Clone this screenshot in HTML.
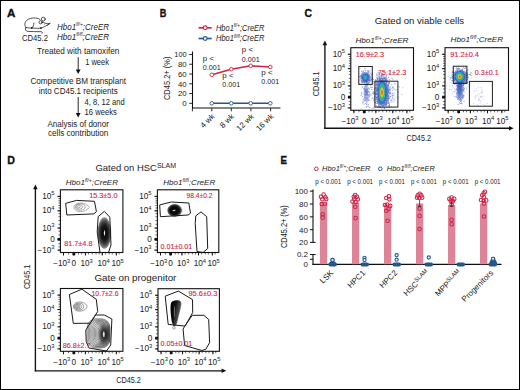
<!DOCTYPE html>
<html><head><meta charset="utf-8"><style>
html,body{margin:0;padding:0;background:#fff;}
#fig{position:relative;width:520px;height:390px;overflow:hidden;background:#fff;}
#fig svg{position:absolute;left:0;top:0;}
#frame{position:absolute;left:0;top:0;width:520px;height:390px;box-sizing:border-box;border:1px solid #000;border-right-width:1.4px;border-bottom-width:1.2px;}
text{font-family:"Liberation Sans", sans-serif;}
</style></head><body><div id="fig">
<svg width="520" height="390" viewBox="0 0 520 390" fill="#222">
<text x="6.9" y="17" font-size="11" font-weight="bold" fill="#111" textLength="8.4" lengthAdjust="spacingAndGlyphs" stroke="#111" stroke-width="0.35">A</text>
<g fill="none" stroke="#1a1a1a" stroke-width="0.75" stroke-linecap="round" stroke-linejoin="round">
<path d="M26.3 27.6 C24.3 26.4 24.4 22.4 26.6 20.4 C28.6 18.6 32 17.8 35.5 18 C37.5 18.1 38.9 18.6 40 19.4"/>
<path d="M26.3 27.6 C29 28.3 33 27.9 36 28.3 C38.5 28.5 40.5 28.3 42.5 27.5 C44.8 26.6 46.8 25.4 49.6 23.6"/>
<path d="M41.6 22.2 C43 22 44.5 22.6 45.6 23.3 C46.8 23.8 48 23.7 49 23.6"/>
<circle cx="43.3" cy="19.1" r="1.9"/>
<circle cx="40.6" cy="22.3" r="1.6"/>
<path d="M33.8 23.0 C34 25 33.4 26.8 32 27.8"/>
<path d="M25.7 27.5 C24.9 29.6 25.6 31 28 31.4 C32 32 37 31.3 41 31.7 C42.5 31.9 43 32.6 42 33.4"/>
<path d="M47.5 25.2 L50.2 23.2"/>
</g>
<circle cx="31.8" cy="27.8" r="0.9" fill="#111"/>
<circle cx="40.9" cy="28.1" r="0.9" fill="#111"/>
<circle cx="44.3" cy="24.1" r="0.5" fill="#333"/>
<text x="35" y="41" font-size="8.4" text-anchor="middle" textLength="26" lengthAdjust="spacingAndGlyphs">CD45.2</text>
<text x="57" y="29.6" font-size="8.4" font-style="italic" textLength="52" lengthAdjust="spacingAndGlyphs">Hbo1<tspan font-size="5.21" dy="-3.19">fl/+</tspan><tspan dy="3.19">;CreER</tspan></text>
<text x="57" y="39.6" font-size="8.4" font-style="italic" textLength="52" lengthAdjust="spacingAndGlyphs">Hbo1<tspan font-size="5.21" dy="-3.19">fl/fl</tspan><tspan dy="3.19">;CreER</tspan></text>
<text x="78.2" y="53.7" font-size="8.4" text-anchor="middle" textLength="82.4" lengthAdjust="spacingAndGlyphs">Treated with tamoxifen</text>
<line x1="78.2" y1="57.2" x2="78.2" y2="70.1" stroke="#111" stroke-width="0.9"/>
<path d="M75.8 69.6 L80.60000000000001 69.6 L78.2 74.0 Z" fill="#111"/>
<text x="85.2" y="65.0" font-size="8.4" textLength="23.8" lengthAdjust="spacingAndGlyphs">1 week</text>
<text x="78.2" y="83.9" font-size="8.4" text-anchor="middle" textLength="95.6" lengthAdjust="spacingAndGlyphs">Competitive BM transplant</text>
<text x="78.2" y="93.6" font-size="8.4" text-anchor="middle" textLength="79.1" lengthAdjust="spacingAndGlyphs">into CD45.1 recipients</text>
<line x1="78.2" y1="97.0" x2="78.2" y2="113.5" stroke="#111" stroke-width="0.9"/>
<path d="M75.8 113.0 L80.60000000000001 113.0 L78.2 117.4 Z" fill="#111"/>
<text x="84.5" y="105" font-size="8.4" textLength="40.2" lengthAdjust="spacingAndGlyphs">4, 8, 12 and</text>
<text x="84.5" y="114.5" font-size="8.4" textLength="32.4" lengthAdjust="spacingAndGlyphs">16 weeks</text>
<text x="78.2" y="127.1" font-size="8.4" text-anchor="middle" textLength="61.4" lengthAdjust="spacingAndGlyphs">Analysis of donor</text>
<text x="78.2" y="136.4" font-size="8.4" text-anchor="middle" textLength="60.3" lengthAdjust="spacingAndGlyphs">cells contribution</text>
<text x="159.8" y="16.8" font-size="11" font-weight="bold" fill="#111" textLength="6.6" lengthAdjust="spacingAndGlyphs" stroke="#111" stroke-width="0.35">B</text>
<line x1="198.6" y1="27.8" x2="211.6" y2="27.8" stroke="#cf2346" stroke-width="1.7"/>
<circle cx="205.2" cy="27.8" r="1.9" fill="#fff" stroke="#cf2346" stroke-width="1.1"/>
<text x="216" y="30.6" font-size="8.2" font-style="italic" textLength="48.4" lengthAdjust="spacingAndGlyphs">Hbo1<tspan font-size="5.08" dy="-3.12">fl/+</tspan><tspan dy="3.12">;CreER</tspan></text>
<line x1="198.6" y1="38.5" x2="211.6" y2="38.5" stroke="#21578f" stroke-width="1.7"/>
<circle cx="205.2" cy="38.5" r="1.9" fill="#fff" stroke="#21578f" stroke-width="1.1"/>
<text x="216" y="41.3" font-size="8.2" font-style="italic" textLength="48.4" lengthAdjust="spacingAndGlyphs">Hbo1<tspan font-size="5.08" dy="-3.12">fl/fl</tspan><tspan dy="3.12">;CreER</tspan></text>
<line x1="192.5" y1="51.5" x2="192.5" y2="108.5" stroke="#111" stroke-width="1.1"/>
<line x1="192.0" y1="108.0" x2="280.4" y2="108.0" stroke="#111" stroke-width="1.1"/>
<line x1="189.2" y1="103.3" x2="192.9" y2="103.3" stroke="#111" stroke-width="0.9"/>
<text x="186.6" y="106.1" font-size="8.0" text-anchor="end" textLength="4.4" lengthAdjust="spacingAndGlyphs">0</text>
<line x1="189.2" y1="93.53999999999999" x2="192.9" y2="93.53999999999999" stroke="#111" stroke-width="0.9"/>
<text x="186.6" y="96.33999999999999" font-size="8.0" text-anchor="end" textLength="8.7" lengthAdjust="spacingAndGlyphs">20</text>
<line x1="189.2" y1="83.78" x2="192.9" y2="83.78" stroke="#111" stroke-width="0.9"/>
<text x="186.6" y="86.58" font-size="8.0" text-anchor="end" textLength="8.7" lengthAdjust="spacingAndGlyphs">40</text>
<line x1="189.2" y1="74.02" x2="192.9" y2="74.02" stroke="#111" stroke-width="0.9"/>
<text x="186.6" y="76.82" font-size="8.0" text-anchor="end" textLength="8.7" lengthAdjust="spacingAndGlyphs">60</text>
<line x1="189.2" y1="64.25999999999999" x2="192.9" y2="64.25999999999999" stroke="#111" stroke-width="0.9"/>
<text x="186.6" y="67.05999999999999" font-size="8.0" text-anchor="end" textLength="8.7" lengthAdjust="spacingAndGlyphs">80</text>
<line x1="189.2" y1="54.5" x2="192.9" y2="54.5" stroke="#111" stroke-width="0.9"/>
<text x="186.6" y="57.3" font-size="8.0" text-anchor="end" textLength="12.3" lengthAdjust="spacingAndGlyphs">100</text>
<line x1="192.4" y1="108.1" x2="192.4" y2="111.3" stroke="#111" stroke-width="0.9"/>
<line x1="211.8" y1="108.1" x2="211.8" y2="111.3" stroke="#111" stroke-width="0.9"/>
<line x1="231.3" y1="108.1" x2="231.3" y2="111.3" stroke="#111" stroke-width="0.9"/>
<line x1="250.9" y1="108.1" x2="250.9" y2="111.3" stroke="#111" stroke-width="0.9"/>
<line x1="270.6" y1="108.1" x2="270.6" y2="111.3" stroke="#111" stroke-width="0.9"/>
<text x="169.6" y="78.3" font-size="8.8" text-anchor="middle" textLength="43.5" lengthAdjust="spacingAndGlyphs" transform="rotate(-90 169.6 78.3)">CD45.2+ (%)</text>
<text x="215.20000000000002" y="116.8" font-size="8.0" text-anchor="end" transform="rotate(-45 215.20000000000002 116.8)">4 wk</text>
<text x="234.70000000000002" y="116.8" font-size="8.0" text-anchor="end" transform="rotate(-45 234.70000000000002 116.8)">8 wk</text>
<text x="254.3" y="116.8" font-size="8.0" text-anchor="end" transform="rotate(-45 254.3 116.8)">12 wk</text>
<text x="274.0" y="116.8" font-size="8.0" text-anchor="end" transform="rotate(-45 274.0 116.8)">16 wk</text>
<polyline points="211.8,74.8 231.3,69.2 250.7,65.8 270.3,67.0" fill="none" stroke="#cf2346" stroke-width="1.5"/>
<circle cx="211.8" cy="74.8" r="1.8" fill="#fff" stroke="#cf2346" stroke-width="0.9"/>
<circle cx="231.3" cy="69.2" r="1.8" fill="#fff" stroke="#cf2346" stroke-width="0.9"/>
<circle cx="250.7" cy="65.8" r="1.8" fill="#fff" stroke="#cf2346" stroke-width="0.9"/>
<circle cx="270.3" cy="67.0" r="1.8" fill="#fff" stroke="#cf2346" stroke-width="0.9"/>
<line x1="211.8" y1="103.3" x2="270.3" y2="103.3" stroke="#21578f" stroke-width="1.5"/>
<circle cx="211.8" cy="103.3" r="1.8" fill="#fff" stroke="#21578f" stroke-width="0.9"/>
<circle cx="231.3" cy="103.3" r="1.8" fill="#fff" stroke="#21578f" stroke-width="0.9"/>
<circle cx="250.7" cy="103.3" r="1.8" fill="#fff" stroke="#21578f" stroke-width="0.9"/>
<circle cx="270.3" cy="103.3" r="1.8" fill="#fff" stroke="#21578f" stroke-width="0.9"/>
<text x="202.8" y="60.6" font-size="7.3" textLength="11.2" lengthAdjust="spacingAndGlyphs">p &lt;</text>
<text x="202.8" y="69.7" font-size="7.6" textLength="17.8" lengthAdjust="spacingAndGlyphs">0.001</text>
<text x="222.3" y="77.5" font-size="7.3" textLength="11.2" lengthAdjust="spacingAndGlyphs">p &lt;</text>
<text x="222.3" y="86.9" font-size="7.6" textLength="17.8" lengthAdjust="spacingAndGlyphs">0.001</text>
<text x="241.8" y="52.3" font-size="7.3" textLength="11.2" lengthAdjust="spacingAndGlyphs">p &lt;</text>
<text x="241.8" y="61.8" font-size="7.6" textLength="17.8" lengthAdjust="spacingAndGlyphs">0.001</text>
<text x="261.3" y="74.6" font-size="7.3" textLength="11.2" lengthAdjust="spacingAndGlyphs">p &lt;</text>
<text x="261.3" y="84.4" font-size="7.6" textLength="17.8" lengthAdjust="spacingAndGlyphs">0.001</text>
<text x="304.5" y="17.0" font-size="11.4" font-weight="bold" fill="#111" textLength="7.5" lengthAdjust="spacingAndGlyphs" stroke="#111" stroke-width="0.35">C</text>
<text x="374.8" y="24.0" font-size="9.3" textLength="89.3" lengthAdjust="spacingAndGlyphs">Gated on viable cells</text>
<text x="355.4" y="42.6" font-size="7.8" font-style="italic" textLength="53.1" lengthAdjust="spacingAndGlyphs">Hbo1<tspan font-size="4.84" dy="-2.96">fl/+</tspan><tspan dy="2.96">;CreER</tspan></text>
<text x="450.6" y="42.2" font-size="7.8" font-style="italic" textLength="52.5" lengthAdjust="spacingAndGlyphs">Hbo1<tspan font-size="4.84" dy="-2.96">fl/fl</tspan><tspan dy="2.96">;CreER</tspan></text>
<defs>
<clipPath id="cc1"><rect x="351.4" y="48.3" width="61.5" height="61"/></clipPath>
<clipPath id="cc2"><rect x="445.6" y="48.3" width="62.3" height="61"/></clipPath>
<radialGradient id="haze" cx="50%" cy="50%" r="50%">
<stop offset="0" stop-color="#2d4fb8" stop-opacity="0.95"/><stop offset="0.5" stop-color="#3355bb" stop-opacity="0.7"/><stop offset="1" stop-color="#4060c0" stop-opacity="0"/>
</radialGradient>
<radialGradient id="hotA" cx="50%" cy="50%" r="50%">
<stop offset="0" stop-color="#e6301c"/><stop offset="0.16" stop-color="#f08a1c"/><stop offset="0.3" stop-color="#e2d622"/>
<stop offset="0.48" stop-color="#44b048"/><stop offset="0.66" stop-color="#28b4d6"/><stop offset="0.82" stop-color="#3468c8" stop-opacity="0.85"/><stop offset="1" stop-color="#3a5fc4" stop-opacity="0"/>
</radialGradient>
<radialGradient id="hotB" cx="50%" cy="50%" r="50%">
<stop offset="0" stop-color="#46b04c"/><stop offset="0.25" stop-color="#32b0a0"/><stop offset="0.5" stop-color="#2a9ad8"/><stop offset="0.75" stop-color="#3464c6" stop-opacity="0.75"/><stop offset="1" stop-color="#3a5fc4" stop-opacity="0"/>
</radialGradient>
<radialGradient id="hotC" cx="50%" cy="50%" r="50%">
<stop offset="0" stop-color="#e8261a"/><stop offset="0.14" stop-color="#f07a1a"/><stop offset="0.28" stop-color="#e6d422"/>
<stop offset="0.46" stop-color="#3cb048"/><stop offset="0.64" stop-color="#24b2d8"/><stop offset="0.82" stop-color="#3468c8" stop-opacity="0.85"/><stop offset="1" stop-color="#3a5fc4" stop-opacity="0"/>
</radialGradient>
</defs>
<g clip-path="url(#cc1)">
<ellipse cx="365.3" cy="77.6" rx="5.0" ry="5.6" fill="url(#haze)"/>
<ellipse cx="382" cy="93" rx="7.5" ry="15.5" fill="url(#haze)"/>
<ellipse cx="366" cy="92" rx="3" ry="9" fill="url(#haze)" opacity="0.5"/>
<path d="M364.7 78.9h1.0v1.0h-1.0zM364.8 76.6h1.0v1.0h-1.0zM363.2 76.9h1.0v1.0h-1.0zM367.9 78.6h1.0v1.0h-1.0zM367.7 78.2h1.0v1.0h-1.0zM366.2 78.0h1.0v1.0h-1.0zM361.5 79.8h1.0v1.0h-1.0zM366.5 78.8h1.0v1.0h-1.0zM361.4 72.8h1.0v1.0h-1.0zM363.3 76.2h1.0v1.0h-1.0zM366.0 77.4h1.0v1.0h-1.0zM366.5 75.8h1.0v1.0h-1.0zM366.0 78.6h1.0v1.0h-1.0zM363.8 82.1h1.0v1.0h-1.0zM366.6 80.7h1.0v1.0h-1.0zM363.9 75.5h1.0v1.0h-1.0zM364.5 77.2h1.0v1.0h-1.0zM366.8 78.2h1.0v1.0h-1.0zM364.3 74.9h1.0v1.0h-1.0zM364.1 80.8h1.0v1.0h-1.0zM363.4 78.2h1.0v1.0h-1.0zM366.3 73.5h1.0v1.0h-1.0zM365.4 81.0h1.0v1.0h-1.0zM360.7 76.6h1.0v1.0h-1.0zM365.1 75.3h1.0v1.0h-1.0zM366.4 77.3h1.0v1.0h-1.0zM361.9 79.7h1.0v1.0h-1.0zM366.8 80.1h1.0v1.0h-1.0zM368.6 78.5h1.0v1.0h-1.0zM365.6 74.0h1.0v1.0h-1.0zM366.7 75.8h1.0v1.0h-1.0zM364.3 74.1h1.0v1.0h-1.0zM363.1 76.1h1.0v1.0h-1.0zM368.3 72.0h1.0v1.0h-1.0zM361.9 78.1h1.0v1.0h-1.0zM368.6 79.1h1.0v1.0h-1.0zM360.9 70.7h1.0v1.0h-1.0zM366.1 75.5h1.0v1.0h-1.0zM362.7 80.1h1.0v1.0h-1.0zM367.8 77.9h1.0v1.0h-1.0zM365.9 78.7h1.0v1.0h-1.0zM369.0 79.2h1.0v1.0h-1.0zM366.5 79.0h1.0v1.0h-1.0zM361.7 81.0h1.0v1.0h-1.0zM367.5 78.9h1.0v1.0h-1.0zM360.8 75.8h1.0v1.0h-1.0zM367.2 72.6h1.0v1.0h-1.0zM364.9 80.3h1.0v1.0h-1.0zM362.3 81.8h1.0v1.0h-1.0zM366.6 77.1h1.0v1.0h-1.0zM366.0 79.3h1.0v1.0h-1.0zM365.6 80.6h1.0v1.0h-1.0zM363.8 76.4h1.0v1.0h-1.0zM367.7 77.6h1.0v1.0h-1.0zM363.3 80.1h1.0v1.0h-1.0zM368.7 76.3h1.0v1.0h-1.0zM362.1 77.1h1.0v1.0h-1.0zM365.0 76.7h1.0v1.0h-1.0zM368.5 74.7h1.0v1.0h-1.0zM368.2 74.1h1.0v1.0h-1.0zM363.5 79.2h1.0v1.0h-1.0zM367.9 79.8h1.0v1.0h-1.0zM366.1 77.9h1.0v1.0h-1.0zM365.7 79.1h1.0v1.0h-1.0zM364.9 78.2h1.0v1.0h-1.0zM366.6 77.5h1.0v1.0h-1.0zM367.1 79.0h1.0v1.0h-1.0zM369.9 78.4h1.0v1.0h-1.0zM364.3 76.5h1.0v1.0h-1.0zM365.3 80.0h1.0v1.0h-1.0zM364.5 78.5h1.0v1.0h-1.0zM369.5 70.6h1.0v1.0h-1.0zM362.7 78.2h1.0v1.0h-1.0zM366.2 78.1h1.0v1.0h-1.0zM364.3 79.3h1.0v1.0h-1.0zM365.9 76.1h1.0v1.0h-1.0zM370.9 78.5h1.0v1.0h-1.0zM364.0 77.2h1.0v1.0h-1.0zM364.8 77.3h1.0v1.0h-1.0zM359.0 76.2h1.0v1.0h-1.0zM367.6 74.3h1.0v1.0h-1.0zM365.1 80.1h1.0v1.0h-1.0zM367.3 81.5h1.0v1.0h-1.0zM361.4 76.5h1.0v1.0h-1.0zM364.5 79.2h1.0v1.0h-1.0zM367.8 70.3h1.0v1.0h-1.0zM367.8 73.6h1.0v1.0h-1.0zM366.9 73.5h1.0v1.0h-1.0zM365.7 80.7h1.0v1.0h-1.0zM365.0 78.0h1.0v1.0h-1.0zM367.1 77.9h1.0v1.0h-1.0zM365.1 81.6h1.0v1.0h-1.0zM367.7 76.7h1.0v1.0h-1.0zM371.6 74.4h1.0v1.0h-1.0zM367.4 76.8h1.0v1.0h-1.0zM365.6 79.4h1.0v1.0h-1.0zM365.8 79.2h1.0v1.0h-1.0zM361.8 73.4h1.0v1.0h-1.0zM366.7 74.9h1.0v1.0h-1.0zM362.9 73.5h1.0v1.0h-1.0zM368.2 79.5h1.0v1.0h-1.0zM368.7 75.0h1.0v1.0h-1.0zM365.3 74.4h1.0v1.0h-1.0zM367.1 81.8h1.0v1.0h-1.0zM363.3 81.7h1.0v1.0h-1.0zM367.6 77.0h1.0v1.0h-1.0zM360.8 81.3h1.0v1.0h-1.0zM365.1 75.9h1.0v1.0h-1.0zM366.2 78.6h1.0v1.0h-1.0zM368.7 74.7h1.0v1.0h-1.0zM367.9 81.5h1.0v1.0h-1.0zM368.6 77.0h1.0v1.0h-1.0zM363.6 80.3h1.0v1.0h-1.0zM365.6 77.8h1.0v1.0h-1.0zM368.6 76.8h1.0v1.0h-1.0zM360.0 76.5h1.0v1.0h-1.0zM361.0 79.7h1.0v1.0h-1.0zM366.0 75.8h1.0v1.0h-1.0zM365.3 79.7h1.0v1.0h-1.0zM365.5 81.1h1.0v1.0h-1.0zM365.2 80.3h1.0v1.0h-1.0zM368.7 81.8h1.0v1.0h-1.0zM363.8 79.9h1.0v1.0h-1.0zM361.0 74.6h1.0v1.0h-1.0zM360.8 80.4h1.0v1.0h-1.0zM362.5 77.5h1.0v1.0h-1.0zM364.9 77.4h1.0v1.0h-1.0zM363.9 78.1h1.0v1.0h-1.0zM369.4 77.6h1.0v1.0h-1.0zM366.5 80.2h1.0v1.0h-1.0zM364.8 74.1h1.0v1.0h-1.0zM364.0 80.4h1.0v1.0h-1.0zM361.5 75.9h1.0v1.0h-1.0zM367.6 79.6h1.0v1.0h-1.0zM365.3 79.7h1.0v1.0h-1.0zM365.7 74.3h1.0v1.0h-1.0zM361.7 75.8h1.0v1.0h-1.0zM367.4 76.0h1.0v1.0h-1.0zM363.2 75.4h1.0v1.0h-1.0zM361.8 77.2h1.0v1.0h-1.0zM362.6 78.5h1.0v1.0h-1.0zM359.9 78.4h1.0v1.0h-1.0zM363.8 72.3h1.0v1.0h-1.0zM367.0 76.8h1.0v1.0h-1.0zM360.2 75.1h1.0v1.0h-1.0zM366.0 76.3h1.0v1.0h-1.0zM367.1 79.5h1.0v1.0h-1.0zM366.8 78.4h1.0v1.0h-1.0zM368.4 79.3h1.0v1.0h-1.0zM366.3 71.9h1.0v1.0h-1.0zM367.4 81.0h1.0v1.0h-1.0zM364.6 76.2h1.0v1.0h-1.0zM369.8 72.8h1.0v1.0h-1.0zM366.4 84.0h1.0v1.0h-1.0zM363.2 79.4h1.0v1.0h-1.0zM369.6 77.2h1.0v1.0h-1.0zM366.6 79.9h1.0v1.0h-1.0zM363.2 77.3h1.0v1.0h-1.0zM366.0 79.7h1.0v1.0h-1.0zM365.2 77.0h1.0v1.0h-1.0zM363.0 76.5h1.0v1.0h-1.0zM367.4 77.8h1.0v1.0h-1.0zM363.3 75.2h1.0v1.0h-1.0zM371.4 80.6h1.0v1.0h-1.0zM366.8 70.5h1.0v1.0h-1.0zM366.7 78.8h1.0v1.0h-1.0zM369.2 78.7h1.0v1.0h-1.0zM365.1 78.9h1.0v1.0h-1.0zM360.8 80.3h1.0v1.0h-1.0zM366.0 75.6h1.0v1.0h-1.0zM368.3 82.4h1.0v1.0h-1.0zM362.1 75.7h1.0v1.0h-1.0zM366.0 78.0h1.0v1.0h-1.0zM364.4 74.9h1.0v1.0h-1.0zM370.2 80.3h1.0v1.0h-1.0zM362.6 73.9h1.0v1.0h-1.0zM369.2 80.2h1.0v1.0h-1.0zM369.5 79.7h1.0v1.0h-1.0zM363.3 78.2h1.0v1.0h-1.0zM360.3 75.5h1.0v1.0h-1.0zM365.2 78.9h1.0v1.0h-1.0zM363.6 77.2h1.0v1.0h-1.0zM366.4 78.5h1.0v1.0h-1.0zM366.8 78.1h1.0v1.0h-1.0zM364.6 79.6h1.0v1.0h-1.0zM365.4 75.3h1.0v1.0h-1.0zM363.9 77.5h1.0v1.0h-1.0zM365.0 77.9h1.0v1.0h-1.0zM365.3 78.0h1.0v1.0h-1.0zM365.0 74.1h1.0v1.0h-1.0zM366.3 80.3h1.0v1.0h-1.0zM366.3 77.0h1.0v1.0h-1.0zM366.3 74.9h1.0v1.0h-1.0zM360.9 77.7h1.0v1.0h-1.0zM363.2 79.5h1.0v1.0h-1.0zM362.8 70.4h1.0v1.0h-1.0zM362.9 81.8h1.0v1.0h-1.0zM364.4 73.8h1.0v1.0h-1.0zM363.5 78.9h1.0v1.0h-1.0zM366.4 78.0h1.0v1.0h-1.0zM368.7 79.4h1.0v1.0h-1.0zM365.3 79.1h1.0v1.0h-1.0zM369.1 80.1h1.0v1.0h-1.0zM367.7 74.6h1.0v1.0h-1.0zM365.0 79.5h1.0v1.0h-1.0zM364.6 80.4h1.0v1.0h-1.0zM366.7 80.0h1.0v1.0h-1.0zM364.8 84.4h1.0v1.0h-1.0zM368.2 76.9h1.0v1.0h-1.0zM365.5 84.5h1.0v1.0h-1.0zM364.5 79.9h1.0v1.0h-1.0zM367.6 77.5h1.0v1.0h-1.0zM362.6 78.0h1.0v1.0h-1.0zM366.1 80.6h1.0v1.0h-1.0zM367.1 77.6h1.0v1.0h-1.0zM367.3 79.0h1.0v1.0h-1.0zM365.8 77.6h1.0v1.0h-1.0zM364.7 79.4h1.0v1.0h-1.0zM362.9 75.8h1.0v1.0h-1.0zM365.3 73.5h1.0v1.0h-1.0zM364.3 72.1h1.0v1.0h-1.0zM363.7 79.0h1.0v1.0h-1.0zM366.6 77.4h1.0v1.0h-1.0zM364.8 73.7h1.0v1.0h-1.0zM369.5 78.9h1.0v1.0h-1.0zM367.8 75.1h1.0v1.0h-1.0zM364.9 72.6h1.0v1.0h-1.0zM367.1 80.0h1.0v1.0h-1.0zM360.9 77.4h1.0v1.0h-1.0zM366.7 72.7h1.0v1.0h-1.0zM361.1 74.6h1.0v1.0h-1.0zM363.9 73.7h1.0v1.0h-1.0zM365.4 78.2h1.0v1.0h-1.0zM366.8 79.4h1.0v1.0h-1.0zM368.8 80.6h1.0v1.0h-1.0zM362.3 76.1h1.0v1.0h-1.0zM362.9 74.6h1.0v1.0h-1.0zM365.1 77.5h1.0v1.0h-1.0zM366.4 73.2h1.0v1.0h-1.0zM362.5 77.4h1.0v1.0h-1.0zM364.8 76.7h1.0v1.0h-1.0zM365.2 75.4h1.0v1.0h-1.0zM366.9 78.5h1.0v1.0h-1.0zM365.1 75.7h1.0v1.0h-1.0zM364.9 70.2h1.0v1.0h-1.0zM363.0 77.6h1.0v1.0h-1.0zM361.8 78.0h1.0v1.0h-1.0zM365.6 73.8h1.0v1.0h-1.0zM364.7 76.7h1.0v1.0h-1.0zM366.4 79.2h1.0v1.0h-1.0zM365.2 75.2h1.0v1.0h-1.0zM365.0 77.3h1.0v1.0h-1.0zM367.0 78.3h1.0v1.0h-1.0zM363.6 73.8h1.0v1.0h-1.0zM364.4 75.5h1.0v1.0h-1.0zM362.7 77.2h1.0v1.0h-1.0zM364.2 77.8h1.0v1.0h-1.0zM366.5 76.4h1.0v1.0h-1.0zM370.6 76.6h1.0v1.0h-1.0zM367.8 77.8h1.0v1.0h-1.0zM367.9 71.1h1.0v1.0h-1.0zM363.6 78.2h1.0v1.0h-1.0zM366.7 83.8h1.0v1.0h-1.0zM366.0 81.0h1.0v1.0h-1.0zM367.1 80.1h1.0v1.0h-1.0zM366.5 77.1h1.0v1.0h-1.0zM366.5 74.6h1.0v1.0h-1.0zM368.0 74.8h1.0v1.0h-1.0zM365.9 83.2h1.0v1.0h-1.0zM364.8 77.6h1.0v1.0h-1.0zM368.0 77.6h1.0v1.0h-1.0zM363.4 78.2h1.0v1.0h-1.0zM366.6 79.4h1.0v1.0h-1.0zM363.5 82.2h1.0v1.0h-1.0zM369.1 77.5h1.0v1.0h-1.0zM365.9 76.3h1.0v1.0h-1.0zM368.6 75.6h1.0v1.0h-1.0zM366.9 76.2h1.0v1.0h-1.0zM363.7 79.4h1.0v1.0h-1.0zM368.4 77.5h1.0v1.0h-1.0zM363.7 79.7h1.0v1.0h-1.0zM365.2 78.3h1.0v1.0h-1.0zM368.8 80.6h1.0v1.0h-1.0zM364.1 83.7h1.0v1.0h-1.0zM365.3 79.6h1.0v1.0h-1.0zM363.8 77.4h1.0v1.0h-1.0zM361.3 82.3h1.0v1.0h-1.0zM368.4 74.2h1.0v1.0h-1.0zM361.8 73.1h1.0v1.0h-1.0zM368.0 76.3h1.0v1.0h-1.0zM365.2 76.7h1.0v1.0h-1.0zM365.0 74.6h1.0v1.0h-1.0zM365.4 73.6h1.0v1.0h-1.0zM365.1 78.3h1.0v1.0h-1.0zM366.4 76.9h1.0v1.0h-1.0zM363.2 77.9h1.0v1.0h-1.0zM364.2 81.7h1.0v1.0h-1.0zM367.1 77.2h1.0v1.0h-1.0zM364.2 75.6h1.0v1.0h-1.0zM363.1 76.5h1.0v1.0h-1.0zM366.0 78.9h1.0v1.0h-1.0zM366.6 83.2h1.0v1.0h-1.0zM363.7 77.5h1.0v1.0h-1.0zM371.7 72.5h1.0v1.0h-1.0zM364.1 78.0h1.0v1.0h-1.0zM365.7 78.6h1.0v1.0h-1.0zM364.8 78.5h1.0v1.0h-1.0zM365.4 79.6h1.0v1.0h-1.0zM360.9 75.1h1.0v1.0h-1.0zM365.3 74.7h1.0v1.0h-1.0zM362.9 79.2h1.0v1.0h-1.0zM363.8 79.2h1.0v1.0h-1.0zM367.0 78.3h1.0v1.0h-1.0zM366.5 77.2h1.0v1.0h-1.0zM362.1 77.4h1.0v1.0h-1.0zM366.3 76.1h1.0v1.0h-1.0zM365.1 79.5h1.0v1.0h-1.0zM363.3 79.2h1.0v1.0h-1.0zM369.6 76.0h1.0v1.0h-1.0zM365.6 77.1h1.0v1.0h-1.0zM368.8 78.4h1.0v1.0h-1.0zM367.4 75.6h1.0v1.0h-1.0zM365.3 77.5h1.0v1.0h-1.0zM361.2 81.4h1.0v1.0h-1.0zM367.4 72.8h1.0v1.0h-1.0zM367.0 77.1h1.0v1.0h-1.0zM366.3 78.5h1.0v1.0h-1.0zM361.9 76.9h1.0v1.0h-1.0zM368.7 75.9h1.0v1.0h-1.0zM362.9 73.8h1.0v1.0h-1.0zM362.5 78.4h1.0v1.0h-1.0zM369.2 78.7h1.0v1.0h-1.0zM365.9 83.5h1.0v1.0h-1.0zM364.1 75.7h1.0v1.0h-1.0zM366.5 79.0h1.0v1.0h-1.0zM363.0 74.3h1.0v1.0h-1.0zM366.0 78.2h1.0v1.0h-1.0zM362.3 77.0h1.0v1.0h-1.0zM364.1 78.7h1.0v1.0h-1.0zM365.0 77.3h1.0v1.0h-1.0zM364.5 80.3h1.0v1.0h-1.0zM368.5 76.5h1.0v1.0h-1.0zM367.2 75.5h1.0v1.0h-1.0zM365.5 79.5h1.0v1.0h-1.0zM368.8 76.5h1.0v1.0h-1.0zM365.1 78.0h1.0v1.0h-1.0zM361.9 77.5h1.0v1.0h-1.0zM363.7 78.5h1.0v1.0h-1.0zM362.7 72.2h1.0v1.0h-1.0zM365.4 78.2h1.0v1.0h-1.0zM364.0 79.9h1.0v1.0h-1.0zM364.7 75.9h1.0v1.0h-1.0zM366.4 73.3h1.0v1.0h-1.0zM363.7 77.4h1.0v1.0h-1.0zM367.3 77.1h1.0v1.0h-1.0zM366.0 75.7h1.0v1.0h-1.0zM366.0 82.0h1.0v1.0h-1.0zM363.7 83.9h1.0v1.0h-1.0zM363.8 77.5h1.0v1.0h-1.0zM365.7 80.3h1.0v1.0h-1.0zM362.5 71.8h1.0v1.0h-1.0zM366.7 79.6h1.0v1.0h-1.0zM366.7 84.6h1.0v1.0h-1.0zM365.8 78.2h1.0v1.0h-1.0zM367.4 78.5h1.0v1.0h-1.0zM369.1 74.2h1.0v1.0h-1.0zM364.4 68.2h1.0v1.0h-1.0zM367.2 76.5h1.0v1.0h-1.0zM367.4 83.3h1.0v1.0h-1.0zM365.3 76.8h1.0v1.0h-1.0zM364.2 75.2h1.0v1.0h-1.0zM363.9 79.2h1.0v1.0h-1.0zM365.4 77.7h1.0v1.0h-1.0zM364.9 80.0h1.0v1.0h-1.0zM366.4 77.1h1.0v1.0h-1.0zM366.8 77.1h1.0v1.0h-1.0zM362.6 81.4h1.0v1.0h-1.0zM366.4 74.9h1.0v1.0h-1.0zM367.8 78.4h1.0v1.0h-1.0zM361.7 81.8h1.0v1.0h-1.0z" fill="#2848b0" fill-opacity="0.6"/>
<path d="M366.7 100.7h1.0v1.0h-1.0zM366.4 92.9h1.0v1.0h-1.0zM362.6 101.3h1.0v1.0h-1.0zM366.1 91.9h1.0v1.0h-1.0zM366.8 94.6h1.0v1.0h-1.0zM367.5 91.2h1.0v1.0h-1.0zM365.9 78.0h1.0v1.0h-1.0zM365.1 99.1h1.0v1.0h-1.0zM368.9 91.3h1.0v1.0h-1.0zM365.7 105.9h1.0v1.0h-1.0zM365.3 99.5h1.0v1.0h-1.0zM369.7 94.3h1.0v1.0h-1.0zM368.7 88.7h1.0v1.0h-1.0zM366.5 93.4h1.0v1.0h-1.0zM366.3 102.5h1.0v1.0h-1.0zM371.3 89.0h1.0v1.0h-1.0zM364.7 97.7h1.0v1.0h-1.0zM363.7 97.7h1.0v1.0h-1.0zM367.3 91.9h1.0v1.0h-1.0zM367.2 82.4h1.0v1.0h-1.0zM367.7 82.4h1.0v1.0h-1.0zM364.5 89.8h1.0v1.0h-1.0zM365.1 100.4h1.0v1.0h-1.0zM366.2 91.0h1.0v1.0h-1.0zM367.2 105.9h1.0v1.0h-1.0zM366.0 96.7h1.0v1.0h-1.0zM368.7 96.0h1.0v1.0h-1.0zM363.2 112.7h1.0v1.0h-1.0zM370.9 79.1h1.0v1.0h-1.0zM365.9 97.1h1.0v1.0h-1.0zM368.1 99.0h1.0v1.0h-1.0zM365.4 86.1h1.0v1.0h-1.0zM366.2 101.8h1.0v1.0h-1.0zM363.6 86.3h1.0v1.0h-1.0zM365.9 79.5h1.0v1.0h-1.0zM365.4 90.7h1.0v1.0h-1.0zM367.0 88.7h1.0v1.0h-1.0zM364.1 91.0h1.0v1.0h-1.0zM365.9 89.0h1.0v1.0h-1.0zM366.0 99.6h1.0v1.0h-1.0zM368.6 106.8h1.0v1.0h-1.0zM364.3 90.9h1.0v1.0h-1.0zM360.5 108.2h1.0v1.0h-1.0zM364.4 93.7h1.0v1.0h-1.0zM367.1 83.8h1.0v1.0h-1.0zM367.0 93.8h1.0v1.0h-1.0zM362.0 96.2h1.0v1.0h-1.0zM368.6 80.0h1.0v1.0h-1.0zM367.8 95.6h1.0v1.0h-1.0zM367.0 97.3h1.0v1.0h-1.0zM368.9 92.3h1.0v1.0h-1.0zM367.9 90.9h1.0v1.0h-1.0zM367.6 87.9h1.0v1.0h-1.0zM365.8 107.0h1.0v1.0h-1.0zM367.0 92.8h1.0v1.0h-1.0zM363.5 88.1h1.0v1.0h-1.0zM366.4 101.0h1.0v1.0h-1.0zM366.9 97.9h1.0v1.0h-1.0zM365.9 104.1h1.0v1.0h-1.0zM365.1 89.9h1.0v1.0h-1.0zM368.0 94.5h1.0v1.0h-1.0zM365.4 89.7h1.0v1.0h-1.0zM365.4 98.7h1.0v1.0h-1.0zM366.8 84.9h1.0v1.0h-1.0zM366.9 95.3h1.0v1.0h-1.0zM363.8 99.8h1.0v1.0h-1.0zM365.4 91.5h1.0v1.0h-1.0zM367.8 103.9h1.0v1.0h-1.0zM364.5 97.3h1.0v1.0h-1.0zM364.1 111.4h1.0v1.0h-1.0zM364.9 103.0h1.0v1.0h-1.0zM364.6 100.1h1.0v1.0h-1.0zM370.9 74.9h1.0v1.0h-1.0zM365.0 97.8h1.0v1.0h-1.0zM365.8 89.0h1.0v1.0h-1.0zM370.7 94.6h1.0v1.0h-1.0zM362.4 100.4h1.0v1.0h-1.0zM362.2 102.6h1.0v1.0h-1.0zM364.7 95.1h1.0v1.0h-1.0zM368.8 94.9h1.0v1.0h-1.0zM362.9 81.3h1.0v1.0h-1.0zM368.6 99.6h1.0v1.0h-1.0zM364.2 100.4h1.0v1.0h-1.0zM367.1 98.9h1.0v1.0h-1.0zM361.0 91.7h1.0v1.0h-1.0zM368.0 99.5h1.0v1.0h-1.0zM367.9 75.6h1.0v1.0h-1.0zM366.4 97.7h1.0v1.0h-1.0zM371.6 86.8h1.0v1.0h-1.0zM365.3 94.3h1.0v1.0h-1.0zM367.9 90.7h1.0v1.0h-1.0zM368.5 88.1h1.0v1.0h-1.0zM366.6 90.0h1.0v1.0h-1.0zM366.3 88.8h1.0v1.0h-1.0zM362.5 102.2h1.0v1.0h-1.0zM366.7 89.8h1.0v1.0h-1.0zM366.4 101.4h1.0v1.0h-1.0zM363.8 93.2h1.0v1.0h-1.0zM367.2 97.9h1.0v1.0h-1.0zM365.3 78.2h1.0v1.0h-1.0zM368.7 96.5h1.0v1.0h-1.0zM366.0 91.9h1.0v1.0h-1.0zM366.6 90.8h1.0v1.0h-1.0zM363.7 88.5h1.0v1.0h-1.0zM364.7 89.4h1.0v1.0h-1.0zM363.5 98.8h1.0v1.0h-1.0zM363.1 98.9h1.0v1.0h-1.0zM363.8 96.6h1.0v1.0h-1.0zM369.0 95.5h1.0v1.0h-1.0zM364.4 94.4h1.0v1.0h-1.0zM366.3 81.0h1.0v1.0h-1.0zM364.7 95.2h1.0v1.0h-1.0zM365.0 94.6h1.0v1.0h-1.0zM367.6 99.7h1.0v1.0h-1.0zM368.0 98.4h1.0v1.0h-1.0zM365.4 93.9h1.0v1.0h-1.0zM365.4 91.7h1.0v1.0h-1.0zM365.6 81.1h1.0v1.0h-1.0zM365.3 93.8h1.0v1.0h-1.0zM363.9 93.8h1.0v1.0h-1.0zM367.1 92.8h1.0v1.0h-1.0zM370.6 74.5h1.0v1.0h-1.0zM365.5 80.3h1.0v1.0h-1.0zM368.2 113.9h1.0v1.0h-1.0zM360.5 95.0h1.0v1.0h-1.0zM367.1 91.7h1.0v1.0h-1.0zM367.2 77.2h1.0v1.0h-1.0zM367.9 96.8h1.0v1.0h-1.0zM366.1 89.6h1.0v1.0h-1.0zM367.4 90.4h1.0v1.0h-1.0zM366.5 90.2h1.0v1.0h-1.0zM361.1 93.8h1.0v1.0h-1.0zM366.4 99.7h1.0v1.0h-1.0zM364.1 93.8h1.0v1.0h-1.0zM367.4 95.1h1.0v1.0h-1.0zM368.7 108.9h1.0v1.0h-1.0zM364.0 79.6h1.0v1.0h-1.0zM367.9 105.5h1.0v1.0h-1.0zM368.0 100.1h1.0v1.0h-1.0zM364.6 88.6h1.0v1.0h-1.0zM368.0 87.2h1.0v1.0h-1.0zM362.0 86.5h1.0v1.0h-1.0zM371.5 108.4h1.0v1.0h-1.0zM364.5 88.5h1.0v1.0h-1.0zM366.5 88.4h1.0v1.0h-1.0zM368.9 93.4h1.0v1.0h-1.0zM363.6 103.8h1.0v1.0h-1.0zM364.7 95.7h1.0v1.0h-1.0zM366.0 91.6h1.0v1.0h-1.0zM366.7 88.8h1.0v1.0h-1.0zM361.9 77.4h1.0v1.0h-1.0zM363.2 88.3h1.0v1.0h-1.0zM365.9 94.4h1.0v1.0h-1.0zM367.2 94.9h1.0v1.0h-1.0zM364.3 88.7h1.0v1.0h-1.0zM361.3 92.7h1.0v1.0h-1.0zM367.1 98.0h1.0v1.0h-1.0zM365.7 92.7h1.0v1.0h-1.0zM368.1 94.1h1.0v1.0h-1.0zM367.6 98.4h1.0v1.0h-1.0zM366.5 103.8h1.0v1.0h-1.0zM364.7 91.3h1.0v1.0h-1.0zM364.2 88.0h1.0v1.0h-1.0zM369.4 107.2h1.0v1.0h-1.0zM366.1 98.3h1.0v1.0h-1.0zM368.6 100.1h1.0v1.0h-1.0zM368.7 84.5h1.0v1.0h-1.0zM364.6 97.4h1.0v1.0h-1.0zM369.2 94.8h1.0v1.0h-1.0zM364.1 91.3h1.0v1.0h-1.0z" fill="#2848b0" fill-opacity="0.45"/>
<path d="M362.4 75.7h1.0v1.0h-1.0zM371.0 76.9h1.0v1.0h-1.0zM365.1 90.8h1.0v1.0h-1.0zM369.7 81.7h1.0v1.0h-1.0zM362.6 82.1h1.0v1.0h-1.0zM371.5 83.1h1.0v1.0h-1.0zM370.0 80.5h1.0v1.0h-1.0zM367.1 79.0h1.0v1.0h-1.0zM366.7 86.5h1.0v1.0h-1.0zM359.3 79.7h1.0v1.0h-1.0zM366.0 77.1h1.0v1.0h-1.0zM363.8 83.9h1.0v1.0h-1.0zM373.0 83.1h1.0v1.0h-1.0zM366.3 72.2h1.0v1.0h-1.0zM372.7 80.4h1.0v1.0h-1.0zM364.9 74.4h1.0v1.0h-1.0zM364.8 74.5h1.0v1.0h-1.0zM365.3 82.3h1.0v1.0h-1.0zM365.1 81.4h1.0v1.0h-1.0zM361.6 87.1h1.0v1.0h-1.0zM362.4 70.9h1.0v1.0h-1.0zM364.2 76.2h1.0v1.0h-1.0zM361.0 78.2h1.0v1.0h-1.0zM366.2 74.1h1.0v1.0h-1.0zM364.4 87.1h1.0v1.0h-1.0zM367.7 79.2h1.0v1.0h-1.0zM365.5 79.4h1.0v1.0h-1.0zM364.8 83.7h1.0v1.0h-1.0zM364.6 68.0h1.0v1.0h-1.0zM364.9 75.6h1.0v1.0h-1.0zM367.6 76.9h1.0v1.0h-1.0zM365.6 90.9h1.0v1.0h-1.0zM360.8 74.4h1.0v1.0h-1.0zM359.4 68.0h1.0v1.0h-1.0zM357.5 81.8h1.0v1.0h-1.0zM362.4 70.7h1.0v1.0h-1.0zM359.1 83.1h1.0v1.0h-1.0zM361.9 78.2h1.0v1.0h-1.0zM366.3 86.8h1.0v1.0h-1.0zM372.8 85.2h1.0v1.0h-1.0zM365.6 80.9h1.0v1.0h-1.0zM372.2 87.1h1.0v1.0h-1.0zM363.8 82.3h1.0v1.0h-1.0zM366.1 80.3h1.0v1.0h-1.0zM363.0 73.4h1.0v1.0h-1.0z" fill="#3050b8" fill-opacity="0.3"/>
<path d="M380.2 80.4h1.0v1.0h-1.0zM386.2 96.0h1.0v1.0h-1.0zM377.9 102.5h1.0v1.0h-1.0zM385.0 77.7h1.0v1.0h-1.0zM388.3 98.1h1.0v1.0h-1.0zM389.0 82.8h1.0v1.0h-1.0zM383.8 95.2h1.0v1.0h-1.0zM382.7 93.3h1.0v1.0h-1.0zM385.6 80.8h1.0v1.0h-1.0zM377.8 81.5h1.0v1.0h-1.0zM380.1 87.5h1.0v1.0h-1.0zM383.2 94.0h1.0v1.0h-1.0zM382.1 86.9h1.0v1.0h-1.0zM380.5 99.1h1.0v1.0h-1.0zM384.6 92.8h1.0v1.0h-1.0zM380.9 103.6h1.0v1.0h-1.0zM380.0 96.9h1.0v1.0h-1.0zM385.9 90.0h1.0v1.0h-1.0zM384.8 83.6h1.0v1.0h-1.0zM385.4 93.5h1.0v1.0h-1.0zM376.6 97.0h1.0v1.0h-1.0zM379.0 101.6h1.0v1.0h-1.0zM379.7 90.8h1.0v1.0h-1.0zM383.0 89.5h1.0v1.0h-1.0zM382.9 87.9h1.0v1.0h-1.0zM384.3 92.0h1.0v1.0h-1.0zM382.7 71.4h1.0v1.0h-1.0zM385.9 92.2h1.0v1.0h-1.0zM375.9 92.7h1.0v1.0h-1.0zM383.6 100.0h1.0v1.0h-1.0zM378.3 103.6h1.0v1.0h-1.0zM381.5 110.0h1.0v1.0h-1.0zM381.5 97.1h1.0v1.0h-1.0zM380.8 83.6h1.0v1.0h-1.0zM385.7 98.8h1.0v1.0h-1.0zM387.2 98.4h1.0v1.0h-1.0zM380.1 79.5h1.0v1.0h-1.0zM379.8 86.9h1.0v1.0h-1.0zM379.2 96.4h1.0v1.0h-1.0zM383.1 90.0h1.0v1.0h-1.0zM382.6 90.9h1.0v1.0h-1.0zM382.7 97.6h1.0v1.0h-1.0zM385.3 86.9h1.0v1.0h-1.0zM376.9 102.7h1.0v1.0h-1.0zM382.4 100.3h1.0v1.0h-1.0zM376.4 89.5h1.0v1.0h-1.0zM382.1 81.2h1.0v1.0h-1.0zM380.2 97.4h1.0v1.0h-1.0zM385.7 104.0h1.0v1.0h-1.0zM379.1 81.5h1.0v1.0h-1.0zM383.8 99.1h1.0v1.0h-1.0zM382.7 82.2h1.0v1.0h-1.0zM384.7 97.9h1.0v1.0h-1.0zM383.9 88.3h1.0v1.0h-1.0zM383.0 97.9h1.0v1.0h-1.0zM380.1 78.2h1.0v1.0h-1.0zM383.1 95.6h1.0v1.0h-1.0zM382.0 98.7h1.0v1.0h-1.0zM380.0 91.4h1.0v1.0h-1.0zM381.0 96.3h1.0v1.0h-1.0zM387.4 90.1h1.0v1.0h-1.0zM389.0 103.5h1.0v1.0h-1.0zM384.7 96.4h1.0v1.0h-1.0zM388.0 90.6h1.0v1.0h-1.0zM381.6 84.0h1.0v1.0h-1.0zM383.6 102.1h1.0v1.0h-1.0zM383.8 95.2h1.0v1.0h-1.0zM381.3 93.3h1.0v1.0h-1.0zM377.2 99.9h1.0v1.0h-1.0zM380.6 83.7h1.0v1.0h-1.0zM379.4 85.8h1.0v1.0h-1.0zM384.9 99.9h1.0v1.0h-1.0zM377.4 98.9h1.0v1.0h-1.0zM385.0 87.7h1.0v1.0h-1.0zM376.9 86.4h1.0v1.0h-1.0zM379.8 94.6h1.0v1.0h-1.0zM380.8 76.8h1.0v1.0h-1.0zM382.8 80.5h1.0v1.0h-1.0zM385.1 82.9h1.0v1.0h-1.0zM379.6 85.6h1.0v1.0h-1.0zM380.2 101.7h1.0v1.0h-1.0zM384.9 96.5h1.0v1.0h-1.0zM383.1 80.4h1.0v1.0h-1.0zM380.2 87.9h1.0v1.0h-1.0zM378.7 95.8h1.0v1.0h-1.0zM379.5 86.7h1.0v1.0h-1.0zM378.4 76.6h1.0v1.0h-1.0zM384.0 102.0h1.0v1.0h-1.0zM382.6 84.7h1.0v1.0h-1.0zM372.8 93.3h1.0v1.0h-1.0zM386.1 94.2h1.0v1.0h-1.0zM385.2 103.1h1.0v1.0h-1.0zM385.8 88.7h1.0v1.0h-1.0zM385.6 97.8h1.0v1.0h-1.0zM376.8 89.0h1.0v1.0h-1.0zM377.2 91.2h1.0v1.0h-1.0zM384.0 84.0h1.0v1.0h-1.0zM375.0 101.7h1.0v1.0h-1.0zM383.3 103.0h1.0v1.0h-1.0zM377.5 100.0h1.0v1.0h-1.0zM389.1 107.1h1.0v1.0h-1.0zM381.3 94.0h1.0v1.0h-1.0zM381.5 99.5h1.0v1.0h-1.0zM385.5 92.7h1.0v1.0h-1.0zM377.4 97.6h1.0v1.0h-1.0zM380.4 96.7h1.0v1.0h-1.0zM382.9 104.2h1.0v1.0h-1.0zM385.9 88.6h1.0v1.0h-1.0zM383.2 105.2h1.0v1.0h-1.0zM380.2 95.3h1.0v1.0h-1.0zM386.0 101.4h1.0v1.0h-1.0zM383.8 82.1h1.0v1.0h-1.0zM377.7 93.9h1.0v1.0h-1.0zM383.3 111.1h1.0v1.0h-1.0zM379.1 100.5h1.0v1.0h-1.0zM384.6 79.5h1.0v1.0h-1.0zM379.2 93.2h1.0v1.0h-1.0zM380.3 90.8h1.0v1.0h-1.0zM383.6 85.9h1.0v1.0h-1.0zM383.6 87.2h1.0v1.0h-1.0zM380.1 96.0h1.0v1.0h-1.0zM380.1 94.2h1.0v1.0h-1.0zM387.4 92.2h1.0v1.0h-1.0zM381.5 97.5h1.0v1.0h-1.0zM380.8 100.1h1.0v1.0h-1.0zM377.6 96.6h1.0v1.0h-1.0zM380.3 86.0h1.0v1.0h-1.0zM388.0 85.6h1.0v1.0h-1.0zM388.0 96.9h1.0v1.0h-1.0zM386.9 84.7h1.0v1.0h-1.0zM386.1 102.9h1.0v1.0h-1.0zM381.6 91.0h1.0v1.0h-1.0zM390.4 93.3h1.0v1.0h-1.0zM380.6 87.3h1.0v1.0h-1.0zM383.5 94.5h1.0v1.0h-1.0zM382.6 104.9h1.0v1.0h-1.0zM380.9 95.5h1.0v1.0h-1.0zM387.0 84.5h1.0v1.0h-1.0zM385.5 105.7h1.0v1.0h-1.0zM377.4 83.8h1.0v1.0h-1.0zM378.5 78.2h1.0v1.0h-1.0zM383.5 78.1h1.0v1.0h-1.0zM383.7 102.9h1.0v1.0h-1.0zM376.5 89.6h1.0v1.0h-1.0zM375.5 97.8h1.0v1.0h-1.0zM379.5 90.0h1.0v1.0h-1.0zM382.2 96.1h1.0v1.0h-1.0zM380.8 92.1h1.0v1.0h-1.0zM380.1 92.9h1.0v1.0h-1.0zM378.0 92.5h1.0v1.0h-1.0zM375.4 88.3h1.0v1.0h-1.0zM388.5 92.6h1.0v1.0h-1.0zM377.7 93.9h1.0v1.0h-1.0zM378.7 79.6h1.0v1.0h-1.0zM379.5 97.5h1.0v1.0h-1.0zM383.3 91.3h1.0v1.0h-1.0zM378.8 83.9h1.0v1.0h-1.0zM386.6 93.8h1.0v1.0h-1.0zM378.8 76.2h1.0v1.0h-1.0zM377.3 110.6h1.0v1.0h-1.0zM378.1 91.4h1.0v1.0h-1.0zM382.7 90.8h1.0v1.0h-1.0zM381.1 81.7h1.0v1.0h-1.0zM378.4 104.7h1.0v1.0h-1.0zM379.4 98.3h1.0v1.0h-1.0zM376.2 89.9h1.0v1.0h-1.0zM382.9 99.8h1.0v1.0h-1.0zM378.2 96.5h1.0v1.0h-1.0zM383.3 86.5h1.0v1.0h-1.0zM383.6 85.3h1.0v1.0h-1.0zM379.3 91.9h1.0v1.0h-1.0zM372.8 91.2h1.0v1.0h-1.0zM378.6 81.0h1.0v1.0h-1.0zM380.6 97.7h1.0v1.0h-1.0zM380.6 101.5h1.0v1.0h-1.0zM378.1 82.2h1.0v1.0h-1.0zM387.3 95.0h1.0v1.0h-1.0zM385.2 85.8h1.0v1.0h-1.0zM384.7 93.9h1.0v1.0h-1.0zM384.2 92.2h1.0v1.0h-1.0zM386.1 87.1h1.0v1.0h-1.0zM378.7 80.9h1.0v1.0h-1.0zM385.9 86.5h1.0v1.0h-1.0zM378.5 85.0h1.0v1.0h-1.0zM380.5 82.5h1.0v1.0h-1.0zM381.0 87.3h1.0v1.0h-1.0zM380.1 84.8h1.0v1.0h-1.0zM382.1 88.5h1.0v1.0h-1.0zM382.4 93.9h1.0v1.0h-1.0zM383.2 75.6h1.0v1.0h-1.0zM380.2 86.0h1.0v1.0h-1.0zM384.6 80.2h1.0v1.0h-1.0zM379.6 89.8h1.0v1.0h-1.0zM380.9 99.4h1.0v1.0h-1.0zM380.5 99.2h1.0v1.0h-1.0zM377.0 78.4h1.0v1.0h-1.0zM386.1 95.3h1.0v1.0h-1.0zM383.7 92.9h1.0v1.0h-1.0zM383.6 82.9h1.0v1.0h-1.0zM385.2 88.0h1.0v1.0h-1.0zM385.4 92.7h1.0v1.0h-1.0zM375.3 82.3h1.0v1.0h-1.0zM385.8 91.0h1.0v1.0h-1.0zM380.7 93.8h1.0v1.0h-1.0zM380.6 87.9h1.0v1.0h-1.0zM382.3 93.1h1.0v1.0h-1.0zM387.2 92.3h1.0v1.0h-1.0zM388.4 105.5h1.0v1.0h-1.0zM387.8 100.0h1.0v1.0h-1.0zM382.4 93.0h1.0v1.0h-1.0zM381.5 86.5h1.0v1.0h-1.0zM381.8 87.2h1.0v1.0h-1.0zM387.6 96.0h1.0v1.0h-1.0zM380.5 77.6h1.0v1.0h-1.0zM381.8 88.9h1.0v1.0h-1.0zM378.3 83.5h1.0v1.0h-1.0zM374.3 96.3h1.0v1.0h-1.0zM381.8 111.4h1.0v1.0h-1.0zM381.9 90.9h1.0v1.0h-1.0zM386.9 93.0h1.0v1.0h-1.0zM382.6 89.2h1.0v1.0h-1.0zM379.9 103.2h1.0v1.0h-1.0zM385.4 104.9h1.0v1.0h-1.0zM380.8 92.2h1.0v1.0h-1.0zM379.0 99.3h1.0v1.0h-1.0zM377.3 96.2h1.0v1.0h-1.0zM385.7 102.6h1.0v1.0h-1.0zM378.8 100.2h1.0v1.0h-1.0zM379.6 86.3h1.0v1.0h-1.0zM377.5 100.7h1.0v1.0h-1.0zM387.6 87.5h1.0v1.0h-1.0zM379.4 89.5h1.0v1.0h-1.0zM390.5 99.5h1.0v1.0h-1.0zM380.2 78.5h1.0v1.0h-1.0zM379.7 100.9h1.0v1.0h-1.0zM388.4 90.0h1.0v1.0h-1.0zM379.6 88.2h1.0v1.0h-1.0zM375.6 98.8h1.0v1.0h-1.0zM378.3 100.0h1.0v1.0h-1.0zM376.2 82.5h1.0v1.0h-1.0zM383.0 86.3h1.0v1.0h-1.0zM384.7 92.1h1.0v1.0h-1.0zM378.0 96.7h1.0v1.0h-1.0zM384.9 77.7h1.0v1.0h-1.0zM388.2 95.7h1.0v1.0h-1.0zM384.6 78.0h1.0v1.0h-1.0zM379.6 89.4h1.0v1.0h-1.0zM385.7 81.1h1.0v1.0h-1.0zM379.0 76.8h1.0v1.0h-1.0zM381.2 94.6h1.0v1.0h-1.0zM376.3 87.6h1.0v1.0h-1.0zM383.7 103.9h1.0v1.0h-1.0zM384.3 89.7h1.0v1.0h-1.0zM378.0 85.0h1.0v1.0h-1.0zM379.7 93.1h1.0v1.0h-1.0zM381.8 104.5h1.0v1.0h-1.0zM383.0 84.0h1.0v1.0h-1.0zM387.3 99.1h1.0v1.0h-1.0zM382.3 86.6h1.0v1.0h-1.0zM375.6 84.3h1.0v1.0h-1.0zM385.1 86.0h1.0v1.0h-1.0zM377.5 93.5h1.0v1.0h-1.0zM382.8 96.5h1.0v1.0h-1.0zM384.2 102.6h1.0v1.0h-1.0zM379.1 99.3h1.0v1.0h-1.0zM378.6 97.2h1.0v1.0h-1.0zM382.6 93.8h1.0v1.0h-1.0zM385.3 91.9h1.0v1.0h-1.0zM385.8 98.6h1.0v1.0h-1.0zM382.5 87.7h1.0v1.0h-1.0zM379.4 88.0h1.0v1.0h-1.0zM381.3 91.8h1.0v1.0h-1.0zM392.1 96.8h1.0v1.0h-1.0zM384.6 85.5h1.0v1.0h-1.0zM379.6 89.6h1.0v1.0h-1.0zM382.7 84.2h1.0v1.0h-1.0zM387.5 87.8h1.0v1.0h-1.0zM385.7 74.5h1.0v1.0h-1.0zM382.0 94.1h1.0v1.0h-1.0zM382.7 96.5h1.0v1.0h-1.0zM383.0 93.2h1.0v1.0h-1.0zM375.6 86.6h1.0v1.0h-1.0zM374.0 96.7h1.0v1.0h-1.0zM383.0 90.5h1.0v1.0h-1.0zM379.2 87.6h1.0v1.0h-1.0zM388.3 105.0h1.0v1.0h-1.0zM381.8 101.7h1.0v1.0h-1.0zM376.6 77.5h1.0v1.0h-1.0zM380.4 85.4h1.0v1.0h-1.0zM380.1 93.4h1.0v1.0h-1.0zM392.3 87.0h1.0v1.0h-1.0zM382.2 94.1h1.0v1.0h-1.0zM381.9 99.0h1.0v1.0h-1.0zM388.0 82.7h1.0v1.0h-1.0zM382.5 90.0h1.0v1.0h-1.0zM383.2 80.5h1.0v1.0h-1.0zM376.0 74.6h1.0v1.0h-1.0zM383.8 93.4h1.0v1.0h-1.0zM382.3 74.3h1.0v1.0h-1.0zM380.7 86.3h1.0v1.0h-1.0zM377.2 85.1h1.0v1.0h-1.0zM384.4 96.1h1.0v1.0h-1.0zM381.9 95.9h1.0v1.0h-1.0zM379.9 92.5h1.0v1.0h-1.0zM382.1 96.2h1.0v1.0h-1.0zM381.8 90.9h1.0v1.0h-1.0zM381.5 87.2h1.0v1.0h-1.0zM389.6 95.9h1.0v1.0h-1.0zM383.5 109.2h1.0v1.0h-1.0zM386.8 80.3h1.0v1.0h-1.0zM384.4 98.3h1.0v1.0h-1.0zM388.4 101.9h1.0v1.0h-1.0zM384.6 83.2h1.0v1.0h-1.0zM379.0 94.0h1.0v1.0h-1.0zM383.7 84.3h1.0v1.0h-1.0zM380.7 89.0h1.0v1.0h-1.0zM382.2 94.5h1.0v1.0h-1.0zM381.0 82.7h1.0v1.0h-1.0zM386.2 104.0h1.0v1.0h-1.0zM381.6 99.7h1.0v1.0h-1.0zM383.5 96.9h1.0v1.0h-1.0zM383.6 86.3h1.0v1.0h-1.0zM384.0 99.6h1.0v1.0h-1.0zM379.0 106.7h1.0v1.0h-1.0zM389.1 105.7h1.0v1.0h-1.0zM388.8 97.6h1.0v1.0h-1.0zM380.8 87.5h1.0v1.0h-1.0zM379.2 92.9h1.0v1.0h-1.0zM381.9 97.0h1.0v1.0h-1.0zM375.1 109.3h1.0v1.0h-1.0zM389.7 91.8h1.0v1.0h-1.0zM384.3 95.6h1.0v1.0h-1.0zM382.9 90.4h1.0v1.0h-1.0zM381.6 85.8h1.0v1.0h-1.0zM382.6 91.8h1.0v1.0h-1.0zM383.1 85.6h1.0v1.0h-1.0zM382.1 92.4h1.0v1.0h-1.0zM384.1 84.0h1.0v1.0h-1.0zM383.4 99.4h1.0v1.0h-1.0zM384.0 89.2h1.0v1.0h-1.0zM380.3 90.2h1.0v1.0h-1.0zM384.5 103.6h1.0v1.0h-1.0zM381.5 87.2h1.0v1.0h-1.0zM383.3 93.5h1.0v1.0h-1.0zM378.9 86.5h1.0v1.0h-1.0zM381.7 97.0h1.0v1.0h-1.0zM377.9 84.4h1.0v1.0h-1.0zM383.7 82.8h1.0v1.0h-1.0zM382.4 94.6h1.0v1.0h-1.0zM381.6 84.4h1.0v1.0h-1.0zM381.8 89.5h1.0v1.0h-1.0zM383.1 85.7h1.0v1.0h-1.0zM385.7 79.4h1.0v1.0h-1.0zM381.4 92.1h1.0v1.0h-1.0zM385.3 87.4h1.0v1.0h-1.0zM383.9 87.7h1.0v1.0h-1.0zM384.5 105.0h1.0v1.0h-1.0zM380.6 95.3h1.0v1.0h-1.0zM378.8 99.3h1.0v1.0h-1.0zM386.1 92.3h1.0v1.0h-1.0zM378.1 95.0h1.0v1.0h-1.0zM385.9 100.2h1.0v1.0h-1.0zM384.8 78.3h1.0v1.0h-1.0zM379.7 102.7h1.0v1.0h-1.0zM377.8 100.5h1.0v1.0h-1.0zM388.4 97.7h1.0v1.0h-1.0zM385.8 89.5h1.0v1.0h-1.0zM377.8 91.2h1.0v1.0h-1.0zM381.3 91.6h1.0v1.0h-1.0zM384.4 90.9h1.0v1.0h-1.0zM382.7 95.2h1.0v1.0h-1.0zM382.0 105.8h1.0v1.0h-1.0zM383.5 92.6h1.0v1.0h-1.0zM381.3 87.3h1.0v1.0h-1.0zM386.6 93.1h1.0v1.0h-1.0zM378.3 87.8h1.0v1.0h-1.0zM381.5 88.7h1.0v1.0h-1.0zM385.7 83.3h1.0v1.0h-1.0zM383.7 93.1h1.0v1.0h-1.0zM378.0 92.4h1.0v1.0h-1.0zM381.7 95.8h1.0v1.0h-1.0zM380.5 94.3h1.0v1.0h-1.0zM376.3 83.9h1.0v1.0h-1.0zM384.7 99.8h1.0v1.0h-1.0zM382.0 87.5h1.0v1.0h-1.0zM385.7 76.3h1.0v1.0h-1.0zM379.3 97.0h1.0v1.0h-1.0zM384.2 84.3h1.0v1.0h-1.0zM375.6 102.9h1.0v1.0h-1.0zM382.5 85.3h1.0v1.0h-1.0zM382.2 98.8h1.0v1.0h-1.0zM373.2 100.3h1.0v1.0h-1.0zM384.5 76.4h1.0v1.0h-1.0zM384.6 78.6h1.0v1.0h-1.0zM385.9 95.0h1.0v1.0h-1.0zM389.7 87.4h1.0v1.0h-1.0zM382.0 99.9h1.0v1.0h-1.0zM379.8 86.7h1.0v1.0h-1.0zM380.7 91.5h1.0v1.0h-1.0zM378.3 95.6h1.0v1.0h-1.0zM383.8 92.5h1.0v1.0h-1.0zM387.8 89.5h1.0v1.0h-1.0zM386.4 87.9h1.0v1.0h-1.0zM384.6 77.5h1.0v1.0h-1.0zM382.7 90.7h1.0v1.0h-1.0zM380.3 87.4h1.0v1.0h-1.0zM380.8 86.6h1.0v1.0h-1.0zM374.5 87.5h1.0v1.0h-1.0zM380.1 88.1h1.0v1.0h-1.0zM378.4 91.0h1.0v1.0h-1.0zM384.7 90.1h1.0v1.0h-1.0zM380.3 102.2h1.0v1.0h-1.0zM385.3 98.9h1.0v1.0h-1.0zM385.9 89.5h1.0v1.0h-1.0zM381.6 100.4h1.0v1.0h-1.0zM380.1 91.1h1.0v1.0h-1.0zM383.3 94.8h1.0v1.0h-1.0zM381.1 99.4h1.0v1.0h-1.0zM381.4 97.4h1.0v1.0h-1.0zM385.6 96.9h1.0v1.0h-1.0zM384.5 83.3h1.0v1.0h-1.0zM377.5 87.4h1.0v1.0h-1.0zM383.6 103.3h1.0v1.0h-1.0zM377.8 94.3h1.0v1.0h-1.0zM379.1 86.5h1.0v1.0h-1.0zM381.1 97.2h1.0v1.0h-1.0zM382.7 100.8h1.0v1.0h-1.0zM378.6 98.7h1.0v1.0h-1.0zM385.2 92.5h1.0v1.0h-1.0zM383.6 87.8h1.0v1.0h-1.0zM378.3 89.0h1.0v1.0h-1.0zM379.8 113.7h1.0v1.0h-1.0zM380.4 104.4h1.0v1.0h-1.0zM382.7 94.3h1.0v1.0h-1.0zM384.5 86.2h1.0v1.0h-1.0zM385.1 94.8h1.0v1.0h-1.0zM376.8 96.5h1.0v1.0h-1.0zM383.9 95.4h1.0v1.0h-1.0zM387.4 88.9h1.0v1.0h-1.0zM383.7 97.6h1.0v1.0h-1.0zM378.9 101.0h1.0v1.0h-1.0zM377.1 82.2h1.0v1.0h-1.0zM383.8 83.8h1.0v1.0h-1.0zM381.6 79.7h1.0v1.0h-1.0zM382.2 83.5h1.0v1.0h-1.0zM383.2 80.5h1.0v1.0h-1.0zM383.5 90.0h1.0v1.0h-1.0zM382.2 91.5h1.0v1.0h-1.0zM382.4 82.1h1.0v1.0h-1.0zM373.3 92.3h1.0v1.0h-1.0zM378.8 88.6h1.0v1.0h-1.0zM383.5 77.1h1.0v1.0h-1.0zM379.4 87.4h1.0v1.0h-1.0zM378.4 94.5h1.0v1.0h-1.0zM381.5 85.8h1.0v1.0h-1.0zM378.7 98.1h1.0v1.0h-1.0zM379.8 96.4h1.0v1.0h-1.0zM383.5 77.8h1.0v1.0h-1.0zM378.3 92.0h1.0v1.0h-1.0zM383.2 97.8h1.0v1.0h-1.0zM384.7 99.8h1.0v1.0h-1.0zM380.7 90.4h1.0v1.0h-1.0zM384.6 88.8h1.0v1.0h-1.0zM385.6 80.1h1.0v1.0h-1.0zM384.2 90.7h1.0v1.0h-1.0zM375.3 99.3h1.0v1.0h-1.0zM383.1 92.2h1.0v1.0h-1.0zM378.3 88.5h1.0v1.0h-1.0zM387.1 85.8h1.0v1.0h-1.0zM370.2 85.6h1.0v1.0h-1.0zM377.9 91.0h1.0v1.0h-1.0zM380.7 85.2h1.0v1.0h-1.0zM379.1 99.9h1.0v1.0h-1.0zM377.1 106.7h1.0v1.0h-1.0zM380.2 83.8h1.0v1.0h-1.0zM384.7 96.2h1.0v1.0h-1.0zM378.5 97.6h1.0v1.0h-1.0zM375.7 85.1h1.0v1.0h-1.0zM385.8 90.1h1.0v1.0h-1.0zM377.6 95.9h1.0v1.0h-1.0zM385.1 91.8h1.0v1.0h-1.0zM375.9 89.4h1.0v1.0h-1.0zM383.4 97.8h1.0v1.0h-1.0zM388.3 90.1h1.0v1.0h-1.0zM380.4 91.7h1.0v1.0h-1.0zM386.1 84.9h1.0v1.0h-1.0zM386.4 71.4h1.0v1.0h-1.0zM384.7 86.9h1.0v1.0h-1.0zM383.6 97.2h1.0v1.0h-1.0zM378.0 91.4h1.0v1.0h-1.0zM382.8 96.4h1.0v1.0h-1.0zM378.8 84.6h1.0v1.0h-1.0zM375.5 111.0h1.0v1.0h-1.0zM381.3 90.3h1.0v1.0h-1.0zM376.9 99.0h1.0v1.0h-1.0zM380.2 102.8h1.0v1.0h-1.0zM384.9 92.2h1.0v1.0h-1.0zM384.5 83.7h1.0v1.0h-1.0zM380.9 87.7h1.0v1.0h-1.0zM377.7 92.1h1.0v1.0h-1.0zM381.5 102.8h1.0v1.0h-1.0zM370.6 87.0h1.0v1.0h-1.0zM378.9 88.5h1.0v1.0h-1.0zM383.4 95.0h1.0v1.0h-1.0zM382.1 88.4h1.0v1.0h-1.0zM383.7 94.7h1.0v1.0h-1.0zM375.7 90.0h1.0v1.0h-1.0zM377.3 83.1h1.0v1.0h-1.0zM382.5 92.5h1.0v1.0h-1.0zM382.4 85.4h1.0v1.0h-1.0zM381.3 85.2h1.0v1.0h-1.0zM383.3 97.2h1.0v1.0h-1.0zM388.0 101.5h1.0v1.0h-1.0zM379.3 88.6h1.0v1.0h-1.0zM378.8 94.3h1.0v1.0h-1.0zM388.7 97.3h1.0v1.0h-1.0zM374.5 82.6h1.0v1.0h-1.0zM377.6 95.9h1.0v1.0h-1.0zM382.0 94.2h1.0v1.0h-1.0zM388.1 85.8h1.0v1.0h-1.0zM379.1 106.7h1.0v1.0h-1.0zM383.2 86.2h1.0v1.0h-1.0zM375.1 80.6h1.0v1.0h-1.0zM373.7 92.5h1.0v1.0h-1.0zM382.2 99.4h1.0v1.0h-1.0zM381.5 86.8h1.0v1.0h-1.0zM379.5 106.3h1.0v1.0h-1.0zM376.0 93.3h1.0v1.0h-1.0zM382.1 96.6h1.0v1.0h-1.0zM380.6 95.7h1.0v1.0h-1.0zM384.8 90.9h1.0v1.0h-1.0zM380.4 90.6h1.0v1.0h-1.0zM378.7 90.4h1.0v1.0h-1.0zM381.0 93.6h1.0v1.0h-1.0zM386.5 101.8h1.0v1.0h-1.0zM380.5 96.5h1.0v1.0h-1.0zM383.0 97.7h1.0v1.0h-1.0zM382.1 94.0h1.0v1.0h-1.0zM380.4 86.1h1.0v1.0h-1.0zM385.0 101.7h1.0v1.0h-1.0zM384.3 95.3h1.0v1.0h-1.0zM382.9 88.6h1.0v1.0h-1.0zM375.9 97.0h1.0v1.0h-1.0zM382.7 87.8h1.0v1.0h-1.0zM378.7 101.6h1.0v1.0h-1.0zM375.9 105.2h1.0v1.0h-1.0zM384.2 109.8h1.0v1.0h-1.0zM379.6 91.8h1.0v1.0h-1.0zM380.3 93.2h1.0v1.0h-1.0zM381.3 86.4h1.0v1.0h-1.0zM385.7 86.1h1.0v1.0h-1.0zM380.3 96.2h1.0v1.0h-1.0zM380.2 88.7h1.0v1.0h-1.0zM383.2 89.2h1.0v1.0h-1.0zM377.8 91.2h1.0v1.0h-1.0zM381.3 104.8h1.0v1.0h-1.0zM378.3 99.3h1.0v1.0h-1.0zM379.3 89.3h1.0v1.0h-1.0zM380.9 94.0h1.0v1.0h-1.0zM384.9 105.1h1.0v1.0h-1.0zM379.8 102.0h1.0v1.0h-1.0zM385.4 98.1h1.0v1.0h-1.0zM379.4 98.8h1.0v1.0h-1.0zM381.6 94.6h1.0v1.0h-1.0zM381.1 97.0h1.0v1.0h-1.0zM385.8 100.5h1.0v1.0h-1.0zM381.3 99.5h1.0v1.0h-1.0zM386.9 85.0h1.0v1.0h-1.0zM387.0 82.0h1.0v1.0h-1.0zM383.8 96.5h1.0v1.0h-1.0zM387.0 94.1h1.0v1.0h-1.0zM380.4 86.0h1.0v1.0h-1.0zM377.7 97.7h1.0v1.0h-1.0zM381.2 86.6h1.0v1.0h-1.0zM383.8 86.3h1.0v1.0h-1.0zM380.5 88.6h1.0v1.0h-1.0zM387.6 103.0h1.0v1.0h-1.0zM381.5 80.2h1.0v1.0h-1.0zM382.9 92.5h1.0v1.0h-1.0zM383.2 96.2h1.0v1.0h-1.0zM380.9 98.9h1.0v1.0h-1.0zM384.8 93.6h1.0v1.0h-1.0zM380.6 88.4h1.0v1.0h-1.0zM384.4 83.8h1.0v1.0h-1.0zM381.5 86.4h1.0v1.0h-1.0zM377.3 96.5h1.0v1.0h-1.0zM381.9 92.3h1.0v1.0h-1.0zM385.0 80.8h1.0v1.0h-1.0zM381.8 94.2h1.0v1.0h-1.0zM384.8 83.9h1.0v1.0h-1.0zM384.4 93.6h1.0v1.0h-1.0zM386.6 100.5h1.0v1.0h-1.0zM383.9 108.1h1.0v1.0h-1.0zM382.0 88.8h1.0v1.0h-1.0zM380.8 84.9h1.0v1.0h-1.0zM381.9 77.9h1.0v1.0h-1.0zM381.7 95.2h1.0v1.0h-1.0zM385.4 89.4h1.0v1.0h-1.0zM386.7 87.1h1.0v1.0h-1.0zM381.5 77.9h1.0v1.0h-1.0zM379.4 86.1h1.0v1.0h-1.0zM387.0 95.9h1.0v1.0h-1.0zM378.3 95.9h1.0v1.0h-1.0zM383.6 90.3h1.0v1.0h-1.0zM382.1 89.8h1.0v1.0h-1.0zM380.2 79.0h1.0v1.0h-1.0zM381.7 101.4h1.0v1.0h-1.0zM386.8 90.0h1.0v1.0h-1.0zM379.5 90.5h1.0v1.0h-1.0zM385.0 94.6h1.0v1.0h-1.0zM380.1 94.7h1.0v1.0h-1.0zM381.3 95.8h1.0v1.0h-1.0zM380.6 81.2h1.0v1.0h-1.0zM382.2 97.6h1.0v1.0h-1.0zM378.3 91.2h1.0v1.0h-1.0zM384.9 89.3h1.0v1.0h-1.0zM379.8 106.8h1.0v1.0h-1.0zM384.7 99.5h1.0v1.0h-1.0zM378.9 103.9h1.0v1.0h-1.0zM376.5 88.2h1.0v1.0h-1.0zM384.4 101.7h1.0v1.0h-1.0zM378.9 87.2h1.0v1.0h-1.0zM382.7 77.9h1.0v1.0h-1.0zM384.1 96.1h1.0v1.0h-1.0zM380.5 95.9h1.0v1.0h-1.0zM384.6 94.3h1.0v1.0h-1.0zM383.7 103.0h1.0v1.0h-1.0zM380.4 93.2h1.0v1.0h-1.0zM380.3 99.5h1.0v1.0h-1.0zM380.7 95.5h1.0v1.0h-1.0zM382.5 92.5h1.0v1.0h-1.0zM387.7 91.4h1.0v1.0h-1.0zM386.7 98.0h1.0v1.0h-1.0zM386.3 90.8h1.0v1.0h-1.0zM385.1 97.5h1.0v1.0h-1.0zM380.0 94.0h1.0v1.0h-1.0zM381.6 91.7h1.0v1.0h-1.0zM386.3 86.8h1.0v1.0h-1.0zM376.5 79.4h1.0v1.0h-1.0zM380.5 87.3h1.0v1.0h-1.0zM382.0 96.1h1.0v1.0h-1.0zM387.8 94.2h1.0v1.0h-1.0zM383.5 86.7h1.0v1.0h-1.0zM383.9 101.8h1.0v1.0h-1.0zM386.4 77.9h1.0v1.0h-1.0zM384.9 103.5h1.0v1.0h-1.0zM384.7 81.2h1.0v1.0h-1.0zM381.0 96.2h1.0v1.0h-1.0zM383.4 86.1h1.0v1.0h-1.0zM379.1 99.0h1.0v1.0h-1.0zM377.6 102.4h1.0v1.0h-1.0zM382.1 94.2h1.0v1.0h-1.0zM377.6 87.7h1.0v1.0h-1.0zM384.3 81.4h1.0v1.0h-1.0zM388.8 81.9h1.0v1.0h-1.0zM378.0 92.3h1.0v1.0h-1.0zM383.6 97.3h1.0v1.0h-1.0zM380.8 90.5h1.0v1.0h-1.0zM381.2 87.9h1.0v1.0h-1.0zM373.6 98.9h1.0v1.0h-1.0zM382.8 93.1h1.0v1.0h-1.0zM379.9 93.8h1.0v1.0h-1.0zM382.0 91.4h1.0v1.0h-1.0zM385.6 79.6h1.0v1.0h-1.0zM382.8 84.3h1.0v1.0h-1.0zM381.0 102.8h1.0v1.0h-1.0zM378.5 91.3h1.0v1.0h-1.0zM380.1 98.8h1.0v1.0h-1.0zM378.8 79.9h1.0v1.0h-1.0zM383.7 89.4h1.0v1.0h-1.0zM381.0 99.8h1.0v1.0h-1.0zM379.1 89.3h1.0v1.0h-1.0zM382.5 95.0h1.0v1.0h-1.0zM380.3 99.5h1.0v1.0h-1.0zM389.3 89.1h1.0v1.0h-1.0zM388.1 76.8h1.0v1.0h-1.0zM386.6 89.5h1.0v1.0h-1.0zM382.4 89.6h1.0v1.0h-1.0zM379.9 82.8h1.0v1.0h-1.0zM380.7 101.3h1.0v1.0h-1.0zM385.7 89.5h1.0v1.0h-1.0zM380.3 86.9h1.0v1.0h-1.0zM378.1 105.0h1.0v1.0h-1.0zM384.2 92.8h1.0v1.0h-1.0zM380.4 84.6h1.0v1.0h-1.0zM386.3 97.6h1.0v1.0h-1.0zM378.9 99.1h1.0v1.0h-1.0zM378.4 96.6h1.0v1.0h-1.0zM378.9 89.0h1.0v1.0h-1.0zM383.6 95.1h1.0v1.0h-1.0zM385.3 86.0h1.0v1.0h-1.0zM387.2 101.7h1.0v1.0h-1.0zM382.0 95.3h1.0v1.0h-1.0zM379.5 90.9h1.0v1.0h-1.0zM377.7 92.6h1.0v1.0h-1.0zM382.7 101.7h1.0v1.0h-1.0zM385.1 97.9h1.0v1.0h-1.0zM380.8 90.4h1.0v1.0h-1.0zM380.9 93.6h1.0v1.0h-1.0zM375.7 97.6h1.0v1.0h-1.0zM376.9 88.3h1.0v1.0h-1.0zM382.1 88.3h1.0v1.0h-1.0zM387.4 91.3h1.0v1.0h-1.0zM387.1 100.5h1.0v1.0h-1.0zM380.4 94.9h1.0v1.0h-1.0zM386.2 89.6h1.0v1.0h-1.0zM382.3 88.0h1.0v1.0h-1.0zM382.2 89.5h1.0v1.0h-1.0zM382.3 99.2h1.0v1.0h-1.0zM386.5 93.0h1.0v1.0h-1.0zM382.7 98.2h1.0v1.0h-1.0zM381.1 84.4h1.0v1.0h-1.0zM385.6 85.3h1.0v1.0h-1.0zM385.0 85.1h1.0v1.0h-1.0zM388.0 84.5h1.0v1.0h-1.0zM384.8 102.8h1.0v1.0h-1.0zM378.9 102.7h1.0v1.0h-1.0zM379.3 79.3h1.0v1.0h-1.0zM384.4 97.1h1.0v1.0h-1.0zM381.3 73.8h1.0v1.0h-1.0zM381.8 89.8h1.0v1.0h-1.0zM380.8 89.9h1.0v1.0h-1.0zM376.2 87.9h1.0v1.0h-1.0zM387.9 103.1h1.0v1.0h-1.0zM380.8 86.9h1.0v1.0h-1.0zM383.3 99.6h1.0v1.0h-1.0zM384.4 83.6h1.0v1.0h-1.0zM382.5 93.0h1.0v1.0h-1.0zM386.7 100.6h1.0v1.0h-1.0zM383.7 100.8h1.0v1.0h-1.0zM380.7 103.1h1.0v1.0h-1.0zM380.6 94.8h1.0v1.0h-1.0zM385.0 85.4h1.0v1.0h-1.0zM379.7 79.3h1.0v1.0h-1.0zM382.5 91.6h1.0v1.0h-1.0zM380.9 95.6h1.0v1.0h-1.0zM375.1 91.8h1.0v1.0h-1.0zM382.3 90.1h1.0v1.0h-1.0zM384.6 104.6h1.0v1.0h-1.0zM380.5 85.2h1.0v1.0h-1.0zM380.0 92.7h1.0v1.0h-1.0zM383.9 85.8h1.0v1.0h-1.0zM385.3 84.6h1.0v1.0h-1.0zM384.7 95.1h1.0v1.0h-1.0zM383.5 107.5h1.0v1.0h-1.0zM381.1 90.8h1.0v1.0h-1.0zM383.6 98.2h1.0v1.0h-1.0zM377.6 94.0h1.0v1.0h-1.0zM379.6 96.5h1.0v1.0h-1.0zM386.5 92.4h1.0v1.0h-1.0zM381.7 93.3h1.0v1.0h-1.0zM372.4 97.5h1.0v1.0h-1.0zM383.8 93.2h1.0v1.0h-1.0zM380.7 86.7h1.0v1.0h-1.0zM381.4 100.7h1.0v1.0h-1.0zM381.7 101.7h1.0v1.0h-1.0zM373.6 88.7h1.0v1.0h-1.0zM382.9 91.9h1.0v1.0h-1.0zM376.6 87.2h1.0v1.0h-1.0zM386.1 82.7h1.0v1.0h-1.0zM378.8 84.1h1.0v1.0h-1.0zM380.2 96.6h1.0v1.0h-1.0zM383.9 77.4h1.0v1.0h-1.0zM386.8 87.7h1.0v1.0h-1.0zM380.1 104.0h1.0v1.0h-1.0zM381.7 83.1h1.0v1.0h-1.0zM379.9 86.8h1.0v1.0h-1.0zM378.7 89.6h1.0v1.0h-1.0zM384.9 94.5h1.0v1.0h-1.0zM377.5 112.1h1.0v1.0h-1.0zM378.8 92.8h1.0v1.0h-1.0zM382.1 97.5h1.0v1.0h-1.0zM380.9 95.3h1.0v1.0h-1.0zM388.9 92.7h1.0v1.0h-1.0zM378.5 94.4h1.0v1.0h-1.0zM379.4 89.3h1.0v1.0h-1.0zM382.6 94.4h1.0v1.0h-1.0zM381.1 98.1h1.0v1.0h-1.0zM381.4 82.6h1.0v1.0h-1.0zM384.9 89.4h1.0v1.0h-1.0zM386.0 87.3h1.0v1.0h-1.0zM383.9 94.3h1.0v1.0h-1.0zM373.2 81.2h1.0v1.0h-1.0zM378.3 102.1h1.0v1.0h-1.0zM375.8 98.6h1.0v1.0h-1.0zM385.6 95.6h1.0v1.0h-1.0zM384.2 88.4h1.0v1.0h-1.0zM382.0 93.6h1.0v1.0h-1.0zM383.4 97.1h1.0v1.0h-1.0zM381.3 87.0h1.0v1.0h-1.0zM380.2 95.0h1.0v1.0h-1.0zM376.6 83.0h1.0v1.0h-1.0zM380.7 88.0h1.0v1.0h-1.0zM381.1 72.8h1.0v1.0h-1.0zM380.9 90.2h1.0v1.0h-1.0zM384.5 77.7h1.0v1.0h-1.0zM381.0 95.4h1.0v1.0h-1.0zM383.6 100.6h1.0v1.0h-1.0zM385.4 84.4h1.0v1.0h-1.0zM384.1 89.6h1.0v1.0h-1.0zM379.4 103.1h1.0v1.0h-1.0zM379.9 85.8h1.0v1.0h-1.0zM380.7 85.9h1.0v1.0h-1.0zM385.3 94.7h1.0v1.0h-1.0zM386.6 95.0h1.0v1.0h-1.0zM380.0 99.6h1.0v1.0h-1.0zM379.9 88.7h1.0v1.0h-1.0zM381.5 92.3h1.0v1.0h-1.0zM385.9 87.6h1.0v1.0h-1.0zM383.2 91.8h1.0v1.0h-1.0zM377.9 84.1h1.0v1.0h-1.0zM381.3 94.9h1.0v1.0h-1.0zM383.0 95.5h1.0v1.0h-1.0zM382.2 88.8h1.0v1.0h-1.0zM383.4 84.8h1.0v1.0h-1.0zM377.6 89.6h1.0v1.0h-1.0zM377.3 88.3h1.0v1.0h-1.0zM379.6 88.0h1.0v1.0h-1.0zM381.9 86.2h1.0v1.0h-1.0zM380.6 79.6h1.0v1.0h-1.0zM382.5 85.6h1.0v1.0h-1.0zM383.3 71.6h1.0v1.0h-1.0zM379.4 93.8h1.0v1.0h-1.0zM374.0 89.4h1.0v1.0h-1.0zM382.3 92.7h1.0v1.0h-1.0zM377.1 93.7h1.0v1.0h-1.0zM382.5 85.0h1.0v1.0h-1.0zM384.4 91.6h1.0v1.0h-1.0zM382.1 88.7h1.0v1.0h-1.0zM383.8 92.7h1.0v1.0h-1.0zM385.7 95.3h1.0v1.0h-1.0zM380.0 90.4h1.0v1.0h-1.0zM385.0 89.4h1.0v1.0h-1.0zM383.3 95.8h1.0v1.0h-1.0zM381.4 75.1h1.0v1.0h-1.0zM382.4 93.6h1.0v1.0h-1.0zM382.4 86.5h1.0v1.0h-1.0zM386.0 91.0h1.0v1.0h-1.0zM380.0 86.8h1.0v1.0h-1.0zM383.2 84.1h1.0v1.0h-1.0zM378.7 106.5h1.0v1.0h-1.0zM386.3 99.6h1.0v1.0h-1.0zM386.5 96.3h1.0v1.0h-1.0zM376.5 100.7h1.0v1.0h-1.0zM386.1 95.6h1.0v1.0h-1.0zM375.6 101.0h1.0v1.0h-1.0zM386.5 88.4h1.0v1.0h-1.0zM382.4 97.6h1.0v1.0h-1.0zM381.7 100.0h1.0v1.0h-1.0zM382.3 97.0h1.0v1.0h-1.0zM382.3 81.3h1.0v1.0h-1.0zM378.7 115.0h1.0v1.0h-1.0zM382.9 101.5h1.0v1.0h-1.0zM385.8 104.5h1.0v1.0h-1.0zM383.8 87.7h1.0v1.0h-1.0zM382.1 78.0h1.0v1.0h-1.0zM381.4 98.6h1.0v1.0h-1.0zM374.9 93.4h1.0v1.0h-1.0zM384.7 101.7h1.0v1.0h-1.0zM378.9 87.3h1.0v1.0h-1.0zM375.8 84.6h1.0v1.0h-1.0zM383.8 107.1h1.0v1.0h-1.0zM378.2 102.0h1.0v1.0h-1.0zM383.4 88.4h1.0v1.0h-1.0zM389.2 73.6h1.0v1.0h-1.0zM381.8 93.6h1.0v1.0h-1.0zM389.0 105.1h1.0v1.0h-1.0zM389.5 93.0h1.0v1.0h-1.0zM385.2 101.9h1.0v1.0h-1.0zM383.7 94.6h1.0v1.0h-1.0zM381.4 89.0h1.0v1.0h-1.0zM377.9 106.2h1.0v1.0h-1.0zM380.5 76.8h1.0v1.0h-1.0zM382.9 91.8h1.0v1.0h-1.0zM382.6 105.2h1.0v1.0h-1.0zM381.6 90.1h1.0v1.0h-1.0zM379.5 91.8h1.0v1.0h-1.0zM380.5 93.5h1.0v1.0h-1.0zM392.3 94.9h1.0v1.0h-1.0zM379.2 106.1h1.0v1.0h-1.0zM384.9 98.0h1.0v1.0h-1.0zM384.4 98.0h1.0v1.0h-1.0zM384.2 102.3h1.0v1.0h-1.0zM385.3 101.8h1.0v1.0h-1.0zM380.3 92.0h1.0v1.0h-1.0zM379.6 99.0h1.0v1.0h-1.0zM384.8 88.6h1.0v1.0h-1.0zM383.9 111.2h1.0v1.0h-1.0zM386.1 83.9h1.0v1.0h-1.0zM381.7 96.6h1.0v1.0h-1.0zM381.9 94.8h1.0v1.0h-1.0zM385.9 94.4h1.0v1.0h-1.0zM378.4 97.2h1.0v1.0h-1.0zM381.7 92.8h1.0v1.0h-1.0zM380.1 81.9h1.0v1.0h-1.0zM377.9 89.4h1.0v1.0h-1.0zM378.5 72.2h1.0v1.0h-1.0zM385.8 83.5h1.0v1.0h-1.0zM379.6 95.9h1.0v1.0h-1.0zM374.0 101.8h1.0v1.0h-1.0zM379.5 96.8h1.0v1.0h-1.0zM380.4 94.2h1.0v1.0h-1.0zM382.3 92.0h1.0v1.0h-1.0zM376.0 81.3h1.0v1.0h-1.0zM381.9 102.3h1.0v1.0h-1.0zM380.2 95.9h1.0v1.0h-1.0zM382.5 95.5h1.0v1.0h-1.0zM385.3 81.1h1.0v1.0h-1.0zM382.9 90.7h1.0v1.0h-1.0zM381.0 85.8h1.0v1.0h-1.0zM379.4 84.5h1.0v1.0h-1.0zM378.4 110.3h1.0v1.0h-1.0zM387.6 92.1h1.0v1.0h-1.0zM384.5 84.9h1.0v1.0h-1.0zM372.8 78.7h1.0v1.0h-1.0zM382.5 102.5h1.0v1.0h-1.0zM381.9 84.7h1.0v1.0h-1.0zM381.2 84.7h1.0v1.0h-1.0zM377.4 90.3h1.0v1.0h-1.0zM380.7 86.1h1.0v1.0h-1.0zM379.1 85.2h1.0v1.0h-1.0zM382.8 102.2h1.0v1.0h-1.0zM381.3 108.3h1.0v1.0h-1.0zM376.6 94.0h1.0v1.0h-1.0zM378.2 90.8h1.0v1.0h-1.0zM382.3 96.1h1.0v1.0h-1.0zM385.7 87.9h1.0v1.0h-1.0zM377.9 90.6h1.0v1.0h-1.0zM383.0 86.9h1.0v1.0h-1.0zM385.0 104.3h1.0v1.0h-1.0zM377.3 94.6h1.0v1.0h-1.0zM385.4 78.0h1.0v1.0h-1.0zM382.7 90.4h1.0v1.0h-1.0zM377.3 101.6h1.0v1.0h-1.0zM382.7 88.5h1.0v1.0h-1.0zM383.5 96.7h1.0v1.0h-1.0zM384.5 96.2h1.0v1.0h-1.0zM383.4 83.4h1.0v1.0h-1.0zM380.6 92.9h1.0v1.0h-1.0zM372.8 107.6h1.0v1.0h-1.0zM380.7 84.3h1.0v1.0h-1.0zM376.0 93.8h1.0v1.0h-1.0zM382.1 87.7h1.0v1.0h-1.0zM380.6 85.5h1.0v1.0h-1.0zM379.5 91.3h1.0v1.0h-1.0zM379.9 97.0h1.0v1.0h-1.0zM381.5 93.0h1.0v1.0h-1.0zM383.3 101.3h1.0v1.0h-1.0zM384.0 93.7h1.0v1.0h-1.0zM381.5 86.1h1.0v1.0h-1.0zM380.9 97.0h1.0v1.0h-1.0zM382.8 89.2h1.0v1.0h-1.0zM377.6 80.8h1.0v1.0h-1.0zM383.1 99.5h1.0v1.0h-1.0zM383.2 82.0h1.0v1.0h-1.0zM381.3 93.6h1.0v1.0h-1.0zM379.0 94.5h1.0v1.0h-1.0zM381.3 85.9h1.0v1.0h-1.0zM377.9 97.9h1.0v1.0h-1.0zM383.2 85.5h1.0v1.0h-1.0zM378.6 98.5h1.0v1.0h-1.0zM384.0 89.8h1.0v1.0h-1.0zM387.3 89.9h1.0v1.0h-1.0zM378.5 100.0h1.0v1.0h-1.0zM381.4 94.5h1.0v1.0h-1.0zM382.1 84.7h1.0v1.0h-1.0zM378.1 90.6h1.0v1.0h-1.0zM386.7 84.7h1.0v1.0h-1.0zM386.5 93.6h1.0v1.0h-1.0zM378.3 93.9h1.0v1.0h-1.0zM383.9 85.4h1.0v1.0h-1.0zM374.9 94.6h1.0v1.0h-1.0zM378.3 95.2h1.0v1.0h-1.0zM375.7 91.0h1.0v1.0h-1.0zM379.3 81.2h1.0v1.0h-1.0zM381.2 93.3h1.0v1.0h-1.0zM380.2 83.4h1.0v1.0h-1.0zM382.7 79.2h1.0v1.0h-1.0zM383.8 95.6h1.0v1.0h-1.0zM387.5 98.4h1.0v1.0h-1.0zM383.2 93.9h1.0v1.0h-1.0zM382.1 82.3h1.0v1.0h-1.0zM386.8 95.8h1.0v1.0h-1.0zM381.1 83.6h1.0v1.0h-1.0zM386.9 95.9h1.0v1.0h-1.0zM378.1 96.9h1.0v1.0h-1.0zM388.3 91.8h1.0v1.0h-1.0zM383.3 89.0h1.0v1.0h-1.0zM379.9 99.8h1.0v1.0h-1.0zM392.2 92.8h1.0v1.0h-1.0zM381.6 97.8h1.0v1.0h-1.0zM381.0 97.3h1.0v1.0h-1.0zM384.7 84.6h1.0v1.0h-1.0zM378.5 91.5h1.0v1.0h-1.0zM384.7 94.0h1.0v1.0h-1.0zM386.1 82.0h1.0v1.0h-1.0zM383.6 87.5h1.0v1.0h-1.0zM382.3 94.3h1.0v1.0h-1.0zM378.8 90.3h1.0v1.0h-1.0zM378.2 93.9h1.0v1.0h-1.0z" fill="#2848b0" fill-opacity="0.6"/>
<path d="M380.6 87.7h1.0v1.0h-1.0zM387.4 86.3h1.0v1.0h-1.0zM393.2 86.4h1.0v1.0h-1.0zM391.4 94.5h1.0v1.0h-1.0zM379.5 90.1h1.0v1.0h-1.0zM380.7 88.8h1.0v1.0h-1.0zM384.3 107.9h1.0v1.0h-1.0zM383.4 105.7h1.0v1.0h-1.0zM388.8 80.6h1.0v1.0h-1.0zM371.4 97.9h1.0v1.0h-1.0zM373.5 98.3h1.0v1.0h-1.0zM392.5 95.4h1.0v1.0h-1.0zM384.7 89.8h1.0v1.0h-1.0zM387.6 89.4h1.0v1.0h-1.0zM382.6 88.8h1.0v1.0h-1.0zM393.4 86.6h1.0v1.0h-1.0zM388.4 82.0h1.0v1.0h-1.0zM381.5 80.0h1.0v1.0h-1.0zM384.8 98.0h1.0v1.0h-1.0zM387.9 87.7h1.0v1.0h-1.0zM389.8 89.0h1.0v1.0h-1.0zM388.3 94.4h1.0v1.0h-1.0zM389.4 70.4h1.0v1.0h-1.0zM377.8 98.7h1.0v1.0h-1.0zM385.3 111.5h1.0v1.0h-1.0zM384.5 87.2h1.0v1.0h-1.0zM395.4 96.8h1.0v1.0h-1.0zM397.9 96.4h1.0v1.0h-1.0zM384.7 98.3h1.0v1.0h-1.0zM381.0 88.1h1.0v1.0h-1.0zM382.5 90.1h1.0v1.0h-1.0zM390.9 87.8h1.0v1.0h-1.0zM388.0 87.7h1.0v1.0h-1.0zM391.6 68.0h1.0v1.0h-1.0zM384.7 93.5h1.0v1.0h-1.0zM379.2 100.8h1.0v1.0h-1.0zM387.4 103.1h1.0v1.0h-1.0zM392.0 97.6h1.0v1.0h-1.0zM385.1 82.5h1.0v1.0h-1.0zM384.6 88.0h1.0v1.0h-1.0zM387.6 88.0h1.0v1.0h-1.0zM405.2 78.1h1.0v1.0h-1.0zM393.4 87.9h1.0v1.0h-1.0zM384.5 100.1h1.0v1.0h-1.0zM386.0 81.5h1.0v1.0h-1.0zM388.6 90.3h1.0v1.0h-1.0zM373.1 93.7h1.0v1.0h-1.0zM379.4 85.5h1.0v1.0h-1.0zM389.0 94.6h1.0v1.0h-1.0zM384.2 110.9h1.0v1.0h-1.0zM388.6 86.7h1.0v1.0h-1.0zM387.5 90.9h1.0v1.0h-1.0zM372.2 78.3h1.0v1.0h-1.0zM377.3 109.9h1.0v1.0h-1.0zM384.8 89.6h1.0v1.0h-1.0zM382.5 100.5h1.0v1.0h-1.0zM386.2 106.8h1.0v1.0h-1.0zM390.9 106.3h1.0v1.0h-1.0zM385.3 95.3h1.0v1.0h-1.0zM383.3 90.5h1.0v1.0h-1.0zM375.1 87.0h1.0v1.0h-1.0zM380.0 86.3h1.0v1.0h-1.0zM393.6 94.3h1.0v1.0h-1.0zM393.7 99.4h1.0v1.0h-1.0zM391.8 100.7h1.0v1.0h-1.0zM382.2 99.0h1.0v1.0h-1.0zM384.0 87.4h1.0v1.0h-1.0zM393.5 110.8h1.0v1.0h-1.0zM379.9 107.1h1.0v1.0h-1.0zM391.2 84.6h1.0v1.0h-1.0zM387.7 95.2h1.0v1.0h-1.0zM388.4 88.9h1.0v1.0h-1.0zM377.9 92.3h1.0v1.0h-1.0zM391.4 98.8h1.0v1.0h-1.0zM390.1 101.6h1.0v1.0h-1.0zM379.8 91.6h1.0v1.0h-1.0zM388.1 100.7h1.0v1.0h-1.0zM387.0 96.5h1.0v1.0h-1.0zM386.8 110.2h1.0v1.0h-1.0zM372.3 91.8h1.0v1.0h-1.0zM401.5 94.0h1.0v1.0h-1.0zM374.5 93.2h1.0v1.0h-1.0zM377.0 86.1h1.0v1.0h-1.0zM387.4 106.9h1.0v1.0h-1.0zM388.9 97.8h1.0v1.0h-1.0zM392.4 93.7h1.0v1.0h-1.0zM380.6 91.2h1.0v1.0h-1.0zM388.1 89.6h1.0v1.0h-1.0zM381.8 88.9h1.0v1.0h-1.0zM376.6 83.1h1.0v1.0h-1.0zM385.4 88.9h1.0v1.0h-1.0zM386.2 104.2h1.0v1.0h-1.0zM387.9 91.7h1.0v1.0h-1.0zM378.7 82.7h1.0v1.0h-1.0zM388.4 84.4h1.0v1.0h-1.0zM388.7 82.7h1.0v1.0h-1.0zM386.8 91.4h1.0v1.0h-1.0zM392.2 88.6h1.0v1.0h-1.0zM383.7 94.1h1.0v1.0h-1.0zM386.3 106.6h1.0v1.0h-1.0zM384.4 87.4h1.0v1.0h-1.0zM384.0 96.1h1.0v1.0h-1.0zM387.5 98.0h1.0v1.0h-1.0zM377.3 113.5h1.0v1.0h-1.0zM397.5 91.7h1.0v1.0h-1.0zM378.4 93.3h1.0v1.0h-1.0zM388.6 72.7h1.0v1.0h-1.0zM386.1 79.2h1.0v1.0h-1.0zM388.9 104.0h1.0v1.0h-1.0zM392.5 79.0h1.0v1.0h-1.0zM394.6 99.8h1.0v1.0h-1.0zM383.7 96.3h1.0v1.0h-1.0zM395.5 89.1h1.0v1.0h-1.0zM385.9 87.2h1.0v1.0h-1.0zM393.2 73.3h1.0v1.0h-1.0zM394.9 83.6h1.0v1.0h-1.0zM391.8 77.9h1.0v1.0h-1.0zM380.1 86.8h1.0v1.0h-1.0zM391.2 78.0h1.0v1.0h-1.0zM389.8 86.5h1.0v1.0h-1.0zM393.8 89.3h1.0v1.0h-1.0zM389.0 90.5h1.0v1.0h-1.0zM397.2 88.9h1.0v1.0h-1.0zM385.8 109.2h1.0v1.0h-1.0zM386.5 97.9h1.0v1.0h-1.0zM381.4 93.7h1.0v1.0h-1.0zM371.8 92.9h1.0v1.0h-1.0zM382.0 79.0h1.0v1.0h-1.0zM377.1 101.9h1.0v1.0h-1.0zM388.7 78.9h1.0v1.0h-1.0zM397.3 86.0h1.0v1.0h-1.0zM383.7 94.1h1.0v1.0h-1.0zM378.9 78.0h1.0v1.0h-1.0zM381.3 102.2h1.0v1.0h-1.0zM392.0 78.3h1.0v1.0h-1.0zM393.5 92.3h1.0v1.0h-1.0zM389.1 92.4h1.0v1.0h-1.0zM388.6 83.3h1.0v1.0h-1.0zM380.3 85.9h1.0v1.0h-1.0zM383.7 97.4h1.0v1.0h-1.0zM378.4 105.8h1.0v1.0h-1.0zM382.0 86.9h1.0v1.0h-1.0zM390.4 95.8h1.0v1.0h-1.0zM383.9 82.7h1.0v1.0h-1.0zM379.7 78.2h1.0v1.0h-1.0zM393.2 101.4h1.0v1.0h-1.0zM397.7 96.3h1.0v1.0h-1.0zM388.1 98.6h1.0v1.0h-1.0zM392.0 89.8h1.0v1.0h-1.0zM388.2 110.7h1.0v1.0h-1.0zM375.4 79.8h1.0v1.0h-1.0zM380.0 98.5h1.0v1.0h-1.0zM393.4 89.1h1.0v1.0h-1.0zM390.2 91.6h1.0v1.0h-1.0zM387.9 87.3h1.0v1.0h-1.0zM385.8 92.0h1.0v1.0h-1.0zM393.1 111.3h1.0v1.0h-1.0zM374.6 96.6h1.0v1.0h-1.0zM386.0 100.4h1.0v1.0h-1.0zM392.6 98.8h1.0v1.0h-1.0zM391.1 83.8h1.0v1.0h-1.0zM375.3 106.5h1.0v1.0h-1.0zM393.6 83.7h1.0v1.0h-1.0zM394.1 97.8h1.0v1.0h-1.0zM370.6 99.8h1.0v1.0h-1.0zM379.8 102.1h1.0v1.0h-1.0zM381.7 85.6h1.0v1.0h-1.0zM376.3 90.1h1.0v1.0h-1.0zM392.4 86.2h1.0v1.0h-1.0zM374.4 110.6h1.0v1.0h-1.0zM397.6 98.0h1.0v1.0h-1.0zM382.6 81.5h1.0v1.0h-1.0zM375.7 96.8h1.0v1.0h-1.0zM394.1 82.8h1.0v1.0h-1.0zM386.0 89.6h1.0v1.0h-1.0zM384.4 96.4h1.0v1.0h-1.0zM399.1 86.5h1.0v1.0h-1.0zM391.3 101.4h1.0v1.0h-1.0zM384.2 90.7h1.0v1.0h-1.0zM377.6 101.4h1.0v1.0h-1.0zM382.7 86.3h1.0v1.0h-1.0zM386.4 84.6h1.0v1.0h-1.0zM379.5 89.4h1.0v1.0h-1.0zM395.3 90.2h1.0v1.0h-1.0zM389.3 79.3h1.0v1.0h-1.0zM373.8 107.8h1.0v1.0h-1.0zM383.5 78.6h1.0v1.0h-1.0zM385.3 97.3h1.0v1.0h-1.0zM375.2 84.3h1.0v1.0h-1.0zM387.6 84.0h1.0v1.0h-1.0zM391.0 100.3h1.0v1.0h-1.0zM388.8 88.3h1.0v1.0h-1.0zM385.7 86.5h1.0v1.0h-1.0zM385.2 94.8h1.0v1.0h-1.0zM384.1 100.5h1.0v1.0h-1.0zM402.3 87.2h1.0v1.0h-1.0zM388.2 99.1h1.0v1.0h-1.0zM390.0 89.9h1.0v1.0h-1.0zM383.0 100.7h1.0v1.0h-1.0zM389.9 96.4h1.0v1.0h-1.0z" fill="#3050b8" fill-opacity="0.35"/>
<path d="M378.7 80.8h1.0v1.0h-1.0zM383.3 78.5h1.0v1.0h-1.0zM382.9 85.3h1.0v1.0h-1.0zM375.6 80.8h1.0v1.0h-1.0zM377.6 75.0h1.0v1.0h-1.0zM380.3 80.6h1.0v1.0h-1.0zM381.2 75.6h1.0v1.0h-1.0zM376.8 77.4h1.0v1.0h-1.0zM381.0 76.6h1.0v1.0h-1.0zM376.6 84.1h1.0v1.0h-1.0zM378.6 78.5h1.0v1.0h-1.0zM379.4 77.3h1.0v1.0h-1.0zM381.1 78.1h1.0v1.0h-1.0zM382.8 75.6h1.0v1.0h-1.0zM376.7 84.7h1.0v1.0h-1.0zM380.8 81.2h1.0v1.0h-1.0zM384.4 80.6h1.0v1.0h-1.0zM381.1 74.5h1.0v1.0h-1.0zM376.4 81.8h1.0v1.0h-1.0zM383.0 80.7h1.0v1.0h-1.0zM376.2 72.8h1.0v1.0h-1.0zM377.9 75.6h1.0v1.0h-1.0zM381.5 76.0h1.0v1.0h-1.0zM385.6 77.2h1.0v1.0h-1.0zM379.4 81.5h1.0v1.0h-1.0zM382.0 76.4h1.0v1.0h-1.0zM383.4 84.6h1.0v1.0h-1.0zM377.4 78.3h1.0v1.0h-1.0zM377.9 73.4h1.0v1.0h-1.0zM382.8 81.0h1.0v1.0h-1.0zM383.8 80.2h1.0v1.0h-1.0zM375.1 78.9h1.0v1.0h-1.0zM379.1 75.6h1.0v1.0h-1.0zM377.8 81.2h1.0v1.0h-1.0zM380.1 84.7h1.0v1.0h-1.0zM382.4 73.4h1.0v1.0h-1.0zM383.6 82.6h1.0v1.0h-1.0zM381.1 75.5h1.0v1.0h-1.0zM386.2 75.2h1.0v1.0h-1.0zM380.8 73.4h1.0v1.0h-1.0zM377.3 74.0h1.0v1.0h-1.0zM384.2 82.4h1.0v1.0h-1.0zM379.8 75.0h1.0v1.0h-1.0zM380.8 80.1h1.0v1.0h-1.0zM376.5 75.6h1.0v1.0h-1.0zM380.7 81.1h1.0v1.0h-1.0zM381.2 80.3h1.0v1.0h-1.0zM377.4 71.7h1.0v1.0h-1.0zM381.9 76.3h1.0v1.0h-1.0zM380.6 77.9h1.0v1.0h-1.0zM382.4 76.7h1.0v1.0h-1.0zM385.2 79.1h1.0v1.0h-1.0zM382.5 80.8h1.0v1.0h-1.0zM384.0 80.2h1.0v1.0h-1.0zM375.9 77.2h1.0v1.0h-1.0zM386.5 80.4h1.0v1.0h-1.0zM382.6 80.4h1.0v1.0h-1.0zM379.1 77.0h1.0v1.0h-1.0zM379.1 82.4h1.0v1.0h-1.0zM382.1 84.2h1.0v1.0h-1.0zM382.5 84.5h1.0v1.0h-1.0zM382.3 75.5h1.0v1.0h-1.0zM386.1 80.0h1.0v1.0h-1.0zM384.5 79.6h1.0v1.0h-1.0zM380.0 79.5h1.0v1.0h-1.0zM377.7 75.5h1.0v1.0h-1.0zM378.4 77.5h1.0v1.0h-1.0zM377.0 78.7h1.0v1.0h-1.0zM381.9 85.0h1.0v1.0h-1.0zM386.4 78.9h1.0v1.0h-1.0zM383.6 78.4h1.0v1.0h-1.0zM382.2 78.9h1.0v1.0h-1.0zM379.4 79.2h1.0v1.0h-1.0zM376.6 80.3h1.0v1.0h-1.0zM380.1 75.8h1.0v1.0h-1.0zM379.9 80.6h1.0v1.0h-1.0zM379.0 80.4h1.0v1.0h-1.0zM382.7 83.6h1.0v1.0h-1.0zM377.8 78.7h1.0v1.0h-1.0zM382.5 83.4h1.0v1.0h-1.0z" fill="#3050b8" fill-opacity="0.4"/>
<ellipse cx="365.3" cy="77.4" rx="3.6" ry="4.0" fill="url(#hotB)"/>
<ellipse cx="382" cy="92.5" rx="4.5" ry="12.5" fill="url(#hotA)"/>
</g>
<g clip-path="url(#cc2)">
<ellipse cx="459.8" cy="76.8" rx="7.5" ry="8" fill="url(#haze)"/>
<ellipse cx="459.6" cy="88" rx="3.4" ry="11" fill="url(#haze)" opacity="0.75"/>
<path d="M460.7 79.0h1.0v1.0h-1.0zM455.0 74.5h1.0v1.0h-1.0zM465.2 75.5h1.0v1.0h-1.0zM466.8 74.1h1.0v1.0h-1.0zM458.9 71.2h1.0v1.0h-1.0zM461.9 77.4h1.0v1.0h-1.0zM466.4 77.1h1.0v1.0h-1.0zM459.0 71.8h1.0v1.0h-1.0zM459.5 79.7h1.0v1.0h-1.0zM462.2 80.6h1.0v1.0h-1.0zM462.6 76.3h1.0v1.0h-1.0zM461.8 77.1h1.0v1.0h-1.0zM455.5 82.2h1.0v1.0h-1.0zM461.0 73.0h1.0v1.0h-1.0zM461.1 77.5h1.0v1.0h-1.0zM463.0 81.4h1.0v1.0h-1.0zM449.9 78.4h1.0v1.0h-1.0zM464.8 73.3h1.0v1.0h-1.0zM453.7 77.4h1.0v1.0h-1.0zM460.9 77.7h1.0v1.0h-1.0zM456.2 74.9h1.0v1.0h-1.0zM460.4 79.0h1.0v1.0h-1.0zM467.0 77.5h1.0v1.0h-1.0zM457.8 68.6h1.0v1.0h-1.0zM463.3 76.1h1.0v1.0h-1.0zM459.4 73.2h1.0v1.0h-1.0zM462.2 70.5h1.0v1.0h-1.0zM460.2 76.9h1.0v1.0h-1.0zM460.8 80.9h1.0v1.0h-1.0zM459.5 76.8h1.0v1.0h-1.0zM462.6 71.3h1.0v1.0h-1.0zM458.8 76.7h1.0v1.0h-1.0zM462.9 73.8h1.0v1.0h-1.0zM462.4 77.8h1.0v1.0h-1.0zM454.9 71.5h1.0v1.0h-1.0zM455.1 77.0h1.0v1.0h-1.0zM460.5 78.9h1.0v1.0h-1.0zM462.5 74.6h1.0v1.0h-1.0zM463.3 79.3h1.0v1.0h-1.0zM461.3 78.1h1.0v1.0h-1.0zM455.6 77.7h1.0v1.0h-1.0zM456.4 72.5h1.0v1.0h-1.0zM458.7 77.0h1.0v1.0h-1.0zM459.6 75.4h1.0v1.0h-1.0zM456.5 77.1h1.0v1.0h-1.0zM457.4 71.7h1.0v1.0h-1.0zM460.1 81.4h1.0v1.0h-1.0zM458.5 72.9h1.0v1.0h-1.0zM464.3 82.3h1.0v1.0h-1.0zM458.8 75.8h1.0v1.0h-1.0zM460.5 86.5h1.0v1.0h-1.0zM460.2 79.9h1.0v1.0h-1.0zM461.3 70.3h1.0v1.0h-1.0zM456.2 72.3h1.0v1.0h-1.0zM461.2 76.9h1.0v1.0h-1.0zM465.7 75.6h1.0v1.0h-1.0zM460.8 76.8h1.0v1.0h-1.0zM460.3 84.3h1.0v1.0h-1.0zM460.7 81.5h1.0v1.0h-1.0zM464.1 74.4h1.0v1.0h-1.0zM462.1 75.2h1.0v1.0h-1.0zM460.2 77.0h1.0v1.0h-1.0zM459.9 74.9h1.0v1.0h-1.0zM464.9 75.6h1.0v1.0h-1.0zM462.1 82.2h1.0v1.0h-1.0zM461.9 80.0h1.0v1.0h-1.0zM464.4 80.2h1.0v1.0h-1.0zM465.5 71.7h1.0v1.0h-1.0zM466.2 76.6h1.0v1.0h-1.0zM454.0 74.3h1.0v1.0h-1.0zM455.2 76.4h1.0v1.0h-1.0zM454.9 73.1h1.0v1.0h-1.0zM460.8 77.0h1.0v1.0h-1.0zM457.2 75.7h1.0v1.0h-1.0zM459.5 76.8h1.0v1.0h-1.0zM459.8 75.7h1.0v1.0h-1.0zM462.7 71.1h1.0v1.0h-1.0zM458.2 77.0h1.0v1.0h-1.0zM458.5 74.6h1.0v1.0h-1.0zM458.4 77.2h1.0v1.0h-1.0zM463.9 75.9h1.0v1.0h-1.0zM458.9 77.7h1.0v1.0h-1.0zM459.0 69.9h1.0v1.0h-1.0zM460.7 75.2h1.0v1.0h-1.0zM457.9 78.6h1.0v1.0h-1.0zM459.9 74.6h1.0v1.0h-1.0zM452.6 70.7h1.0v1.0h-1.0zM459.8 76.1h1.0v1.0h-1.0zM461.2 77.3h1.0v1.0h-1.0zM458.2 72.2h1.0v1.0h-1.0zM456.2 76.0h1.0v1.0h-1.0zM456.0 79.1h1.0v1.0h-1.0zM455.4 70.4h1.0v1.0h-1.0zM459.2 70.5h1.0v1.0h-1.0zM465.2 73.1h1.0v1.0h-1.0zM459.6 75.7h1.0v1.0h-1.0zM457.1 70.5h1.0v1.0h-1.0zM453.7 79.4h1.0v1.0h-1.0zM463.2 83.9h1.0v1.0h-1.0zM455.0 78.4h1.0v1.0h-1.0zM459.8 79.4h1.0v1.0h-1.0zM458.1 79.0h1.0v1.0h-1.0zM462.8 78.6h1.0v1.0h-1.0zM464.6 75.9h1.0v1.0h-1.0zM464.9 74.1h1.0v1.0h-1.0zM465.3 67.2h1.0v1.0h-1.0zM459.8 73.8h1.0v1.0h-1.0zM459.8 80.0h1.0v1.0h-1.0zM462.2 76.8h1.0v1.0h-1.0zM465.4 71.5h1.0v1.0h-1.0zM457.1 81.6h1.0v1.0h-1.0zM460.9 69.4h1.0v1.0h-1.0zM460.9 72.5h1.0v1.0h-1.0zM464.7 80.4h1.0v1.0h-1.0zM458.0 80.9h1.0v1.0h-1.0zM457.0 79.6h1.0v1.0h-1.0zM461.7 76.1h1.0v1.0h-1.0zM455.1 75.5h1.0v1.0h-1.0zM452.2 74.6h1.0v1.0h-1.0zM453.7 80.6h1.0v1.0h-1.0zM456.6 68.2h1.0v1.0h-1.0zM461.7 77.8h1.0v1.0h-1.0zM458.1 83.7h1.0v1.0h-1.0zM462.4 76.7h1.0v1.0h-1.0zM457.7 66.5h1.0v1.0h-1.0zM461.4 79.8h1.0v1.0h-1.0zM457.8 71.7h1.0v1.0h-1.0zM459.7 70.8h1.0v1.0h-1.0zM459.8 79.1h1.0v1.0h-1.0zM464.8 77.4h1.0v1.0h-1.0zM460.4 79.0h1.0v1.0h-1.0zM464.4 75.4h1.0v1.0h-1.0zM455.7 73.8h1.0v1.0h-1.0zM455.6 73.5h1.0v1.0h-1.0zM459.4 77.7h1.0v1.0h-1.0zM460.3 76.7h1.0v1.0h-1.0zM458.6 77.9h1.0v1.0h-1.0zM462.7 79.1h1.0v1.0h-1.0zM464.7 75.5h1.0v1.0h-1.0zM459.0 82.3h1.0v1.0h-1.0zM460.5 77.9h1.0v1.0h-1.0zM458.7 79.8h1.0v1.0h-1.0zM458.5 73.1h1.0v1.0h-1.0zM459.6 75.0h1.0v1.0h-1.0zM462.6 75.2h1.0v1.0h-1.0zM460.2 75.8h1.0v1.0h-1.0zM460.9 74.4h1.0v1.0h-1.0zM463.4 71.7h1.0v1.0h-1.0zM458.5 74.1h1.0v1.0h-1.0zM461.9 76.6h1.0v1.0h-1.0zM461.4 75.4h1.0v1.0h-1.0zM457.4 72.7h1.0v1.0h-1.0zM458.7 74.7h1.0v1.0h-1.0zM460.7 77.7h1.0v1.0h-1.0zM463.0 76.1h1.0v1.0h-1.0zM457.3 72.9h1.0v1.0h-1.0zM460.0 77.7h1.0v1.0h-1.0zM466.2 77.1h1.0v1.0h-1.0zM465.6 82.9h1.0v1.0h-1.0zM456.3 80.6h1.0v1.0h-1.0zM463.6 81.1h1.0v1.0h-1.0zM459.8 79.7h1.0v1.0h-1.0zM458.2 76.3h1.0v1.0h-1.0zM459.9 82.6h1.0v1.0h-1.0zM459.1 79.7h1.0v1.0h-1.0zM460.0 74.1h1.0v1.0h-1.0zM460.6 78.7h1.0v1.0h-1.0zM457.5 78.7h1.0v1.0h-1.0zM457.4 73.5h1.0v1.0h-1.0zM460.5 75.7h1.0v1.0h-1.0zM456.6 71.0h1.0v1.0h-1.0zM459.9 77.3h1.0v1.0h-1.0zM458.3 77.1h1.0v1.0h-1.0zM454.8 77.8h1.0v1.0h-1.0zM461.2 77.4h1.0v1.0h-1.0zM457.8 76.8h1.0v1.0h-1.0zM460.2 80.1h1.0v1.0h-1.0zM460.7 77.4h1.0v1.0h-1.0zM457.4 79.4h1.0v1.0h-1.0zM463.7 74.8h1.0v1.0h-1.0zM461.9 77.5h1.0v1.0h-1.0zM459.6 72.1h1.0v1.0h-1.0zM465.6 70.2h1.0v1.0h-1.0zM460.8 75.2h1.0v1.0h-1.0zM463.6 75.1h1.0v1.0h-1.0zM459.9 78.6h1.0v1.0h-1.0zM461.3 74.7h1.0v1.0h-1.0zM462.0 77.8h1.0v1.0h-1.0zM463.1 74.8h1.0v1.0h-1.0zM459.6 75.2h1.0v1.0h-1.0zM457.0 77.4h1.0v1.0h-1.0zM461.1 81.3h1.0v1.0h-1.0zM458.7 77.8h1.0v1.0h-1.0zM463.6 76.1h1.0v1.0h-1.0zM460.0 77.0h1.0v1.0h-1.0zM457.5 73.1h1.0v1.0h-1.0zM463.5 77.1h1.0v1.0h-1.0zM459.6 72.3h1.0v1.0h-1.0zM460.2 80.5h1.0v1.0h-1.0zM456.0 73.5h1.0v1.0h-1.0zM463.4 81.3h1.0v1.0h-1.0zM464.9 74.6h1.0v1.0h-1.0zM461.8 74.0h1.0v1.0h-1.0zM461.5 75.3h1.0v1.0h-1.0zM460.4 81.0h1.0v1.0h-1.0zM460.9 75.7h1.0v1.0h-1.0zM460.0 77.4h1.0v1.0h-1.0zM458.1 77.2h1.0v1.0h-1.0zM461.8 81.8h1.0v1.0h-1.0zM453.0 72.5h1.0v1.0h-1.0zM455.7 79.5h1.0v1.0h-1.0zM467.8 77.2h1.0v1.0h-1.0zM460.2 80.3h1.0v1.0h-1.0zM451.8 75.9h1.0v1.0h-1.0zM449.6 77.0h1.0v1.0h-1.0zM458.1 74.9h1.0v1.0h-1.0zM460.9 74.5h1.0v1.0h-1.0zM463.4 76.5h1.0v1.0h-1.0zM461.0 85.1h1.0v1.0h-1.0zM458.3 79.6h1.0v1.0h-1.0zM457.1 80.7h1.0v1.0h-1.0zM463.0 77.0h1.0v1.0h-1.0zM463.0 81.9h1.0v1.0h-1.0zM464.3 76.5h1.0v1.0h-1.0zM459.6 80.2h1.0v1.0h-1.0zM455.0 74.5h1.0v1.0h-1.0zM461.4 78.4h1.0v1.0h-1.0zM465.9 82.4h1.0v1.0h-1.0zM460.9 78.0h1.0v1.0h-1.0zM455.5 75.9h1.0v1.0h-1.0zM460.7 75.7h1.0v1.0h-1.0zM460.0 78.5h1.0v1.0h-1.0zM456.7 74.6h1.0v1.0h-1.0zM454.0 80.4h1.0v1.0h-1.0zM456.4 70.8h1.0v1.0h-1.0zM462.3 75.8h1.0v1.0h-1.0zM463.0 75.3h1.0v1.0h-1.0zM466.7 78.9h1.0v1.0h-1.0zM460.3 76.9h1.0v1.0h-1.0zM459.1 79.2h1.0v1.0h-1.0zM466.3 75.1h1.0v1.0h-1.0zM456.2 78.5h1.0v1.0h-1.0zM463.3 71.5h1.0v1.0h-1.0zM457.5 73.2h1.0v1.0h-1.0zM461.6 78.2h1.0v1.0h-1.0zM457.4 72.7h1.0v1.0h-1.0zM462.0 69.6h1.0v1.0h-1.0zM461.9 76.0h1.0v1.0h-1.0zM466.1 79.8h1.0v1.0h-1.0zM457.9 75.6h1.0v1.0h-1.0zM458.9 74.1h1.0v1.0h-1.0zM460.1 79.7h1.0v1.0h-1.0zM454.9 75.7h1.0v1.0h-1.0zM464.7 79.0h1.0v1.0h-1.0zM457.2 73.8h1.0v1.0h-1.0zM457.0 71.1h1.0v1.0h-1.0zM463.5 76.7h1.0v1.0h-1.0zM457.5 71.7h1.0v1.0h-1.0zM458.6 74.8h1.0v1.0h-1.0zM465.4 75.0h1.0v1.0h-1.0zM460.2 80.1h1.0v1.0h-1.0zM462.0 75.9h1.0v1.0h-1.0zM452.7 81.2h1.0v1.0h-1.0zM461.7 75.0h1.0v1.0h-1.0zM459.5 73.3h1.0v1.0h-1.0zM456.9 71.5h1.0v1.0h-1.0zM461.4 78.2h1.0v1.0h-1.0zM460.4 79.1h1.0v1.0h-1.0zM461.5 76.9h1.0v1.0h-1.0zM456.9 78.5h1.0v1.0h-1.0zM463.7 78.6h1.0v1.0h-1.0zM463.8 74.9h1.0v1.0h-1.0zM456.6 80.7h1.0v1.0h-1.0zM457.9 77.3h1.0v1.0h-1.0zM459.2 76.6h1.0v1.0h-1.0zM458.9 74.7h1.0v1.0h-1.0zM454.0 82.9h1.0v1.0h-1.0zM460.5 70.1h1.0v1.0h-1.0zM456.9 72.7h1.0v1.0h-1.0zM457.4 68.0h1.0v1.0h-1.0zM461.7 82.0h1.0v1.0h-1.0zM459.0 79.0h1.0v1.0h-1.0zM461.7 72.3h1.0v1.0h-1.0zM463.7 70.9h1.0v1.0h-1.0zM457.9 75.3h1.0v1.0h-1.0zM463.9 76.9h1.0v1.0h-1.0zM459.4 73.8h1.0v1.0h-1.0zM460.1 76.6h1.0v1.0h-1.0zM462.2 81.1h1.0v1.0h-1.0zM462.2 76.6h1.0v1.0h-1.0zM459.3 81.8h1.0v1.0h-1.0zM460.4 76.4h1.0v1.0h-1.0zM465.6 81.7h1.0v1.0h-1.0zM461.6 76.1h1.0v1.0h-1.0zM457.8 80.1h1.0v1.0h-1.0zM458.3 79.7h1.0v1.0h-1.0zM457.3 76.8h1.0v1.0h-1.0zM461.1 77.0h1.0v1.0h-1.0zM460.6 77.8h1.0v1.0h-1.0zM456.2 72.8h1.0v1.0h-1.0zM459.3 82.5h1.0v1.0h-1.0zM459.4 73.4h1.0v1.0h-1.0zM457.7 76.6h1.0v1.0h-1.0zM463.6 74.6h1.0v1.0h-1.0zM461.6 77.1h1.0v1.0h-1.0zM458.7 73.4h1.0v1.0h-1.0zM459.3 74.1h1.0v1.0h-1.0zM461.5 70.6h1.0v1.0h-1.0zM463.4 79.0h1.0v1.0h-1.0zM461.7 81.5h1.0v1.0h-1.0zM461.7 70.8h1.0v1.0h-1.0zM460.0 78.0h1.0v1.0h-1.0zM457.6 72.7h1.0v1.0h-1.0zM461.2 78.2h1.0v1.0h-1.0zM458.4 75.7h1.0v1.0h-1.0zM458.2 74.6h1.0v1.0h-1.0zM459.6 80.1h1.0v1.0h-1.0zM454.6 75.4h1.0v1.0h-1.0zM465.0 77.6h1.0v1.0h-1.0zM460.3 79.3h1.0v1.0h-1.0zM456.6 72.5h1.0v1.0h-1.0zM454.5 71.7h1.0v1.0h-1.0zM460.6 79.3h1.0v1.0h-1.0zM458.5 74.2h1.0v1.0h-1.0zM461.1 78.5h1.0v1.0h-1.0zM460.6 70.2h1.0v1.0h-1.0zM458.0 68.1h1.0v1.0h-1.0zM460.6 73.7h1.0v1.0h-1.0zM457.7 81.5h1.0v1.0h-1.0zM464.0 78.1h1.0v1.0h-1.0zM460.7 77.1h1.0v1.0h-1.0zM457.9 76.3h1.0v1.0h-1.0zM465.9 73.6h1.0v1.0h-1.0zM457.7 77.0h1.0v1.0h-1.0zM462.7 79.3h1.0v1.0h-1.0zM456.7 76.1h1.0v1.0h-1.0zM458.9 72.4h1.0v1.0h-1.0zM460.0 74.9h1.0v1.0h-1.0zM462.8 77.9h1.0v1.0h-1.0zM457.3 76.8h1.0v1.0h-1.0zM458.7 74.4h1.0v1.0h-1.0zM458.2 80.0h1.0v1.0h-1.0zM458.5 70.8h1.0v1.0h-1.0zM457.3 79.2h1.0v1.0h-1.0zM466.7 73.0h1.0v1.0h-1.0zM458.7 75.4h1.0v1.0h-1.0zM455.3 77.8h1.0v1.0h-1.0zM459.6 77.4h1.0v1.0h-1.0zM467.0 75.6h1.0v1.0h-1.0zM462.3 79.3h1.0v1.0h-1.0zM457.8 74.5h1.0v1.0h-1.0zM464.8 78.9h1.0v1.0h-1.0zM460.3 72.9h1.0v1.0h-1.0zM462.6 78.2h1.0v1.0h-1.0zM466.9 81.4h1.0v1.0h-1.0zM462.4 77.4h1.0v1.0h-1.0zM460.0 74.7h1.0v1.0h-1.0zM460.8 77.3h1.0v1.0h-1.0zM461.9 80.1h1.0v1.0h-1.0zM460.8 74.7h1.0v1.0h-1.0zM462.4 81.6h1.0v1.0h-1.0zM457.1 77.9h1.0v1.0h-1.0zM461.6 78.3h1.0v1.0h-1.0zM461.4 76.2h1.0v1.0h-1.0zM459.5 82.1h1.0v1.0h-1.0zM465.4 71.9h1.0v1.0h-1.0zM451.7 77.9h1.0v1.0h-1.0zM457.6 74.8h1.0v1.0h-1.0zM454.7 77.7h1.0v1.0h-1.0zM459.6 74.7h1.0v1.0h-1.0zM462.7 84.5h1.0v1.0h-1.0zM464.5 80.4h1.0v1.0h-1.0zM458.5 78.7h1.0v1.0h-1.0zM459.7 80.3h1.0v1.0h-1.0zM461.7 76.4h1.0v1.0h-1.0zM461.6 74.1h1.0v1.0h-1.0zM462.3 81.5h1.0v1.0h-1.0zM458.6 78.3h1.0v1.0h-1.0zM454.5 79.6h1.0v1.0h-1.0zM462.6 73.1h1.0v1.0h-1.0zM465.4 76.9h1.0v1.0h-1.0zM454.3 72.0h1.0v1.0h-1.0zM462.6 75.6h1.0v1.0h-1.0zM463.3 71.4h1.0v1.0h-1.0zM459.5 79.7h1.0v1.0h-1.0zM457.6 78.7h1.0v1.0h-1.0zM458.6 77.6h1.0v1.0h-1.0zM460.8 83.9h1.0v1.0h-1.0zM455.8 79.1h1.0v1.0h-1.0zM464.0 72.8h1.0v1.0h-1.0zM460.1 84.1h1.0v1.0h-1.0zM463.2 66.7h1.0v1.0h-1.0zM459.0 70.9h1.0v1.0h-1.0zM460.8 74.1h1.0v1.0h-1.0zM458.0 73.7h1.0v1.0h-1.0zM460.7 75.0h1.0v1.0h-1.0zM456.9 75.8h1.0v1.0h-1.0zM461.1 73.7h1.0v1.0h-1.0zM463.4 71.0h1.0v1.0h-1.0zM461.1 75.2h1.0v1.0h-1.0zM464.8 74.4h1.0v1.0h-1.0zM457.7 72.1h1.0v1.0h-1.0zM466.2 78.5h1.0v1.0h-1.0zM456.3 75.4h1.0v1.0h-1.0zM456.7 81.5h1.0v1.0h-1.0zM461.1 69.8h1.0v1.0h-1.0zM460.5 79.5h1.0v1.0h-1.0zM459.8 78.1h1.0v1.0h-1.0zM459.4 77.2h1.0v1.0h-1.0zM460.5 74.2h1.0v1.0h-1.0zM460.9 77.0h1.0v1.0h-1.0zM459.7 74.2h1.0v1.0h-1.0zM456.5 77.3h1.0v1.0h-1.0zM462.4 68.5h1.0v1.0h-1.0zM458.1 81.0h1.0v1.0h-1.0zM462.7 74.1h1.0v1.0h-1.0zM464.1 73.2h1.0v1.0h-1.0zM457.3 82.9h1.0v1.0h-1.0zM458.4 75.8h1.0v1.0h-1.0zM454.5 73.2h1.0v1.0h-1.0zM456.0 76.0h1.0v1.0h-1.0zM453.9 80.0h1.0v1.0h-1.0zM458.7 74.5h1.0v1.0h-1.0zM457.8 79.0h1.0v1.0h-1.0zM464.7 75.2h1.0v1.0h-1.0zM465.0 81.8h1.0v1.0h-1.0zM464.1 77.5h1.0v1.0h-1.0zM455.0 78.7h1.0v1.0h-1.0zM458.5 77.1h1.0v1.0h-1.0zM453.8 75.6h1.0v1.0h-1.0zM460.5 73.4h1.0v1.0h-1.0zM460.7 82.0h1.0v1.0h-1.0zM460.5 74.2h1.0v1.0h-1.0zM467.5 69.4h1.0v1.0h-1.0zM456.8 77.9h1.0v1.0h-1.0zM457.9 68.9h1.0v1.0h-1.0zM460.6 79.3h1.0v1.0h-1.0zM457.2 81.4h1.0v1.0h-1.0zM461.4 80.4h1.0v1.0h-1.0zM454.9 76.5h1.0v1.0h-1.0zM464.9 83.2h1.0v1.0h-1.0zM464.0 76.5h1.0v1.0h-1.0zM460.4 74.4h1.0v1.0h-1.0zM463.3 74.2h1.0v1.0h-1.0zM460.2 69.7h1.0v1.0h-1.0zM455.0 82.4h1.0v1.0h-1.0zM460.0 77.2h1.0v1.0h-1.0zM452.7 76.4h1.0v1.0h-1.0zM466.5 71.5h1.0v1.0h-1.0zM452.2 76.0h1.0v1.0h-1.0zM458.1 75.8h1.0v1.0h-1.0zM455.8 72.0h1.0v1.0h-1.0zM455.8 78.6h1.0v1.0h-1.0zM459.6 79.2h1.0v1.0h-1.0zM456.3 78.5h1.0v1.0h-1.0zM458.4 76.8h1.0v1.0h-1.0zM462.8 76.6h1.0v1.0h-1.0zM458.7 71.0h1.0v1.0h-1.0zM460.0 79.1h1.0v1.0h-1.0zM457.8 76.3h1.0v1.0h-1.0zM454.1 72.1h1.0v1.0h-1.0zM461.1 80.8h1.0v1.0h-1.0zM458.8 70.9h1.0v1.0h-1.0zM458.6 71.3h1.0v1.0h-1.0zM458.9 82.9h1.0v1.0h-1.0zM460.8 76.0h1.0v1.0h-1.0zM463.2 75.2h1.0v1.0h-1.0zM460.9 77.2h1.0v1.0h-1.0zM461.2 71.6h1.0v1.0h-1.0zM462.1 79.4h1.0v1.0h-1.0zM452.4 67.5h1.0v1.0h-1.0zM456.9 81.5h1.0v1.0h-1.0zM459.9 78.8h1.0v1.0h-1.0zM461.6 79.5h1.0v1.0h-1.0zM457.7 74.5h1.0v1.0h-1.0zM461.0 78.5h1.0v1.0h-1.0zM461.7 77.6h1.0v1.0h-1.0zM458.2 80.2h1.0v1.0h-1.0zM461.3 80.1h1.0v1.0h-1.0zM451.6 79.9h1.0v1.0h-1.0zM451.9 77.2h1.0v1.0h-1.0zM457.6 76.9h1.0v1.0h-1.0zM458.3 75.5h1.0v1.0h-1.0zM460.4 77.7h1.0v1.0h-1.0zM457.2 68.0h1.0v1.0h-1.0zM457.3 78.3h1.0v1.0h-1.0zM457.1 77.9h1.0v1.0h-1.0zM458.6 73.3h1.0v1.0h-1.0zM463.6 82.1h1.0v1.0h-1.0zM459.5 76.3h1.0v1.0h-1.0zM462.9 72.0h1.0v1.0h-1.0zM457.0 80.3h1.0v1.0h-1.0zM462.7 74.8h1.0v1.0h-1.0zM457.3 77.7h1.0v1.0h-1.0zM455.2 74.8h1.0v1.0h-1.0zM459.0 68.2h1.0v1.0h-1.0zM461.7 79.1h1.0v1.0h-1.0zM463.3 71.7h1.0v1.0h-1.0zM455.6 73.8h1.0v1.0h-1.0zM455.5 83.4h1.0v1.0h-1.0zM456.6 75.4h1.0v1.0h-1.0zM460.5 78.0h1.0v1.0h-1.0zM464.5 72.8h1.0v1.0h-1.0zM462.7 77.0h1.0v1.0h-1.0zM456.0 77.0h1.0v1.0h-1.0zM455.2 82.0h1.0v1.0h-1.0zM457.4 79.9h1.0v1.0h-1.0zM464.1 74.4h1.0v1.0h-1.0zM456.9 76.9h1.0v1.0h-1.0zM456.4 79.5h1.0v1.0h-1.0zM460.4 73.9h1.0v1.0h-1.0zM457.6 78.9h1.0v1.0h-1.0zM455.1 82.2h1.0v1.0h-1.0zM457.2 75.8h1.0v1.0h-1.0zM456.8 82.0h1.0v1.0h-1.0zM462.5 80.9h1.0v1.0h-1.0zM461.9 76.8h1.0v1.0h-1.0zM465.4 78.7h1.0v1.0h-1.0zM461.2 78.5h1.0v1.0h-1.0zM462.2 77.4h1.0v1.0h-1.0zM459.3 71.1h1.0v1.0h-1.0zM466.6 72.1h1.0v1.0h-1.0zM452.7 74.1h1.0v1.0h-1.0zM466.2 80.6h1.0v1.0h-1.0zM457.8 77.4h1.0v1.0h-1.0zM459.7 69.8h1.0v1.0h-1.0zM458.7 77.5h1.0v1.0h-1.0zM463.7 72.4h1.0v1.0h-1.0zM452.4 71.2h1.0v1.0h-1.0zM460.9 76.8h1.0v1.0h-1.0zM460.3 77.0h1.0v1.0h-1.0zM458.6 71.9h1.0v1.0h-1.0zM461.3 77.8h1.0v1.0h-1.0zM461.7 80.7h1.0v1.0h-1.0zM455.7 68.6h1.0v1.0h-1.0zM453.9 83.8h1.0v1.0h-1.0zM456.8 77.9h1.0v1.0h-1.0zM459.8 79.0h1.0v1.0h-1.0zM470.4 74.7h1.0v1.0h-1.0zM459.2 74.5h1.0v1.0h-1.0zM460.6 78.3h1.0v1.0h-1.0zM456.6 81.0h1.0v1.0h-1.0zM463.6 78.0h1.0v1.0h-1.0zM459.4 75.7h1.0v1.0h-1.0zM454.4 78.7h1.0v1.0h-1.0zM456.6 74.8h1.0v1.0h-1.0zM463.1 73.4h1.0v1.0h-1.0zM458.1 79.4h1.0v1.0h-1.0zM465.9 74.2h1.0v1.0h-1.0zM463.4 74.3h1.0v1.0h-1.0zM461.1 78.1h1.0v1.0h-1.0zM456.0 80.0h1.0v1.0h-1.0zM465.7 76.7h1.0v1.0h-1.0zM460.7 72.5h1.0v1.0h-1.0zM465.7 76.7h1.0v1.0h-1.0zM455.6 79.1h1.0v1.0h-1.0zM455.0 74.2h1.0v1.0h-1.0zM452.8 81.2h1.0v1.0h-1.0zM467.1 74.3h1.0v1.0h-1.0zM457.6 74.5h1.0v1.0h-1.0zM457.9 78.4h1.0v1.0h-1.0zM464.6 73.1h1.0v1.0h-1.0zM461.3 70.4h1.0v1.0h-1.0zM464.8 76.2h1.0v1.0h-1.0zM457.5 81.7h1.0v1.0h-1.0zM459.5 81.2h1.0v1.0h-1.0zM463.3 82.1h1.0v1.0h-1.0zM457.2 76.7h1.0v1.0h-1.0zM461.0 75.8h1.0v1.0h-1.0zM464.8 74.1h1.0v1.0h-1.0zM463.1 81.1h1.0v1.0h-1.0zM453.4 73.2h1.0v1.0h-1.0zM456.8 74.6h1.0v1.0h-1.0zM461.1 75.9h1.0v1.0h-1.0zM460.1 74.9h1.0v1.0h-1.0zM459.5 78.1h1.0v1.0h-1.0zM462.3 73.8h1.0v1.0h-1.0zM459.4 73.9h1.0v1.0h-1.0zM459.2 71.6h1.0v1.0h-1.0zM462.9 78.8h1.0v1.0h-1.0zM459.4 74.2h1.0v1.0h-1.0zM458.3 74.2h1.0v1.0h-1.0zM454.7 82.1h1.0v1.0h-1.0zM470.7 72.3h1.0v1.0h-1.0zM455.9 78.5h1.0v1.0h-1.0zM461.8 71.2h1.0v1.0h-1.0zM453.5 78.3h1.0v1.0h-1.0zM453.2 81.3h1.0v1.0h-1.0zM458.2 76.8h1.0v1.0h-1.0zM459.8 74.6h1.0v1.0h-1.0zM459.3 75.5h1.0v1.0h-1.0zM463.9 76.2h1.0v1.0h-1.0zM459.7 74.7h1.0v1.0h-1.0zM457.7 74.0h1.0v1.0h-1.0zM459.8 82.7h1.0v1.0h-1.0zM463.5 77.3h1.0v1.0h-1.0zM465.3 79.9h1.0v1.0h-1.0zM460.5 75.9h1.0v1.0h-1.0zM456.2 77.3h1.0v1.0h-1.0zM458.8 71.1h1.0v1.0h-1.0zM455.6 83.1h1.0v1.0h-1.0zM460.5 78.2h1.0v1.0h-1.0zM460.5 74.9h1.0v1.0h-1.0zM461.3 80.2h1.0v1.0h-1.0zM458.8 78.2h1.0v1.0h-1.0zM463.2 74.9h1.0v1.0h-1.0zM460.4 74.0h1.0v1.0h-1.0zM461.8 75.2h1.0v1.0h-1.0zM463.6 73.9h1.0v1.0h-1.0zM465.4 75.4h1.0v1.0h-1.0zM457.0 73.4h1.0v1.0h-1.0zM462.0 73.6h1.0v1.0h-1.0zM465.8 80.9h1.0v1.0h-1.0zM461.5 71.7h1.0v1.0h-1.0zM459.7 74.0h1.0v1.0h-1.0zM453.8 77.9h1.0v1.0h-1.0zM467.1 74.7h1.0v1.0h-1.0zM462.5 80.9h1.0v1.0h-1.0zM456.6 75.3h1.0v1.0h-1.0zM460.7 78.1h1.0v1.0h-1.0zM456.0 77.2h1.0v1.0h-1.0zM459.4 79.7h1.0v1.0h-1.0zM454.5 74.6h1.0v1.0h-1.0zM458.1 75.4h1.0v1.0h-1.0zM462.2 74.4h1.0v1.0h-1.0zM468.8 74.1h1.0v1.0h-1.0zM462.6 80.0h1.0v1.0h-1.0zM463.0 75.8h1.0v1.0h-1.0zM457.1 75.6h1.0v1.0h-1.0zM462.0 76.9h1.0v1.0h-1.0zM461.7 78.5h1.0v1.0h-1.0zM456.9 73.3h1.0v1.0h-1.0zM464.6 74.8h1.0v1.0h-1.0zM454.6 82.8h1.0v1.0h-1.0zM457.0 73.3h1.0v1.0h-1.0zM463.0 72.7h1.0v1.0h-1.0zM456.9 80.1h1.0v1.0h-1.0zM457.1 85.0h1.0v1.0h-1.0zM460.1 85.6h1.0v1.0h-1.0zM460.2 76.7h1.0v1.0h-1.0zM457.7 75.7h1.0v1.0h-1.0zM458.1 76.4h1.0v1.0h-1.0zM462.3 72.2h1.0v1.0h-1.0zM456.8 69.4h1.0v1.0h-1.0zM464.8 76.2h1.0v1.0h-1.0zM459.8 76.3h1.0v1.0h-1.0zM463.1 77.6h1.0v1.0h-1.0zM462.6 75.9h1.0v1.0h-1.0zM459.4 76.3h1.0v1.0h-1.0zM453.7 80.2h1.0v1.0h-1.0zM454.6 73.1h1.0v1.0h-1.0zM462.0 76.7h1.0v1.0h-1.0zM462.5 82.3h1.0v1.0h-1.0zM465.9 81.2h1.0v1.0h-1.0zM459.1 83.5h1.0v1.0h-1.0zM456.9 76.2h1.0v1.0h-1.0zM463.1 75.8h1.0v1.0h-1.0zM459.4 75.3h1.0v1.0h-1.0zM464.3 68.1h1.0v1.0h-1.0zM464.0 80.1h1.0v1.0h-1.0zM459.6 78.4h1.0v1.0h-1.0zM456.6 80.3h1.0v1.0h-1.0zM469.9 73.4h1.0v1.0h-1.0zM464.4 76.3h1.0v1.0h-1.0zM458.7 74.8h1.0v1.0h-1.0zM459.2 72.2h1.0v1.0h-1.0zM455.3 82.2h1.0v1.0h-1.0zM459.7 78.4h1.0v1.0h-1.0zM460.8 78.1h1.0v1.0h-1.0zM454.8 73.3h1.0v1.0h-1.0zM461.9 79.9h1.0v1.0h-1.0zM456.0 74.5h1.0v1.0h-1.0zM456.3 78.7h1.0v1.0h-1.0zM460.9 76.6h1.0v1.0h-1.0zM457.7 77.7h1.0v1.0h-1.0zM459.9 74.0h1.0v1.0h-1.0zM460.9 74.2h1.0v1.0h-1.0zM462.9 78.6h1.0v1.0h-1.0zM457.5 78.5h1.0v1.0h-1.0zM460.0 74.1h1.0v1.0h-1.0zM456.8 70.8h1.0v1.0h-1.0zM456.1 77.7h1.0v1.0h-1.0zM463.8 74.4h1.0v1.0h-1.0zM460.3 77.7h1.0v1.0h-1.0zM462.4 78.0h1.0v1.0h-1.0zM463.8 79.1h1.0v1.0h-1.0zM457.3 77.8h1.0v1.0h-1.0zM452.1 75.9h1.0v1.0h-1.0zM459.9 78.5h1.0v1.0h-1.0zM458.8 79.3h1.0v1.0h-1.0zM464.2 73.6h1.0v1.0h-1.0zM458.0 77.4h1.0v1.0h-1.0zM461.4 77.0h1.0v1.0h-1.0zM462.5 72.5h1.0v1.0h-1.0zM462.4 80.5h1.0v1.0h-1.0zM463.5 78.0h1.0v1.0h-1.0zM459.0 77.9h1.0v1.0h-1.0zM459.6 71.1h1.0v1.0h-1.0zM457.8 76.4h1.0v1.0h-1.0zM458.1 73.3h1.0v1.0h-1.0zM459.0 75.2h1.0v1.0h-1.0zM460.0 76.3h1.0v1.0h-1.0zM460.4 79.9h1.0v1.0h-1.0zM460.3 77.9h1.0v1.0h-1.0zM455.8 66.5h1.0v1.0h-1.0zM458.5 78.8h1.0v1.0h-1.0zM458.7 74.4h1.0v1.0h-1.0zM455.7 79.5h1.0v1.0h-1.0zM458.1 77.3h1.0v1.0h-1.0zM463.5 78.3h1.0v1.0h-1.0zM467.2 76.0h1.0v1.0h-1.0zM463.0 78.9h1.0v1.0h-1.0zM457.6 76.7h1.0v1.0h-1.0zM457.9 73.0h1.0v1.0h-1.0zM460.8 73.9h1.0v1.0h-1.0zM465.3 74.0h1.0v1.0h-1.0zM458.0 76.8h1.0v1.0h-1.0zM458.1 76.7h1.0v1.0h-1.0zM457.8 71.7h1.0v1.0h-1.0zM451.8 72.1h1.0v1.0h-1.0zM464.8 78.0h1.0v1.0h-1.0zM460.3 74.9h1.0v1.0h-1.0zM459.3 77.5h1.0v1.0h-1.0zM455.2 73.8h1.0v1.0h-1.0zM456.9 80.8h1.0v1.0h-1.0zM456.3 80.5h1.0v1.0h-1.0zM458.3 85.8h1.0v1.0h-1.0zM459.5 76.6h1.0v1.0h-1.0zM464.3 79.5h1.0v1.0h-1.0zM462.9 72.9h1.0v1.0h-1.0zM463.5 82.2h1.0v1.0h-1.0zM459.5 74.9h1.0v1.0h-1.0zM456.2 80.0h1.0v1.0h-1.0zM460.8 76.5h1.0v1.0h-1.0zM455.7 82.0h1.0v1.0h-1.0zM462.7 76.4h1.0v1.0h-1.0zM464.7 73.3h1.0v1.0h-1.0zM462.7 73.1h1.0v1.0h-1.0zM464.5 75.6h1.0v1.0h-1.0zM463.8 75.1h1.0v1.0h-1.0zM461.1 80.4h1.0v1.0h-1.0zM456.8 76.8h1.0v1.0h-1.0zM457.0 79.4h1.0v1.0h-1.0zM457.8 75.2h1.0v1.0h-1.0zM459.1 80.5h1.0v1.0h-1.0zM456.4 76.4h1.0v1.0h-1.0zM458.7 74.6h1.0v1.0h-1.0zM457.2 76.0h1.0v1.0h-1.0zM460.4 71.2h1.0v1.0h-1.0zM460.6 72.5h1.0v1.0h-1.0z" fill="#2848b0" fill-opacity="0.6"/>
<path d="M459.6 102.7h1.0v1.0h-1.0zM457.9 88.6h1.0v1.0h-1.0zM459.1 94.9h1.0v1.0h-1.0zM458.7 78.3h1.0v1.0h-1.0zM456.7 90.1h1.0v1.0h-1.0zM460.1 95.4h1.0v1.0h-1.0zM458.6 93.0h1.0v1.0h-1.0zM457.7 96.8h1.0v1.0h-1.0zM459.5 84.9h1.0v1.0h-1.0zM459.9 99.5h1.0v1.0h-1.0zM458.1 81.6h1.0v1.0h-1.0zM457.8 82.1h1.0v1.0h-1.0zM459.5 91.1h1.0v1.0h-1.0zM459.3 90.2h1.0v1.0h-1.0zM461.7 87.3h1.0v1.0h-1.0zM457.3 75.3h1.0v1.0h-1.0zM460.0 84.9h1.0v1.0h-1.0zM459.2 91.5h1.0v1.0h-1.0zM460.4 79.6h1.0v1.0h-1.0zM457.9 89.4h1.0v1.0h-1.0zM459.3 95.9h1.0v1.0h-1.0zM458.7 76.6h1.0v1.0h-1.0zM461.7 79.2h1.0v1.0h-1.0zM457.9 91.3h1.0v1.0h-1.0zM457.7 103.9h1.0v1.0h-1.0zM460.0 92.2h1.0v1.0h-1.0zM458.8 102.3h1.0v1.0h-1.0zM460.6 84.7h1.0v1.0h-1.0zM461.9 78.9h1.0v1.0h-1.0zM458.5 90.7h1.0v1.0h-1.0zM459.8 83.2h1.0v1.0h-1.0zM462.4 97.8h1.0v1.0h-1.0zM457.9 91.2h1.0v1.0h-1.0zM458.5 86.4h1.0v1.0h-1.0zM461.4 89.8h1.0v1.0h-1.0zM459.4 89.6h1.0v1.0h-1.0zM457.5 96.3h1.0v1.0h-1.0zM458.2 96.9h1.0v1.0h-1.0zM458.8 86.3h1.0v1.0h-1.0zM462.3 90.1h1.0v1.0h-1.0zM458.4 85.8h1.0v1.0h-1.0zM460.7 100.2h1.0v1.0h-1.0zM460.7 86.6h1.0v1.0h-1.0zM457.6 85.0h1.0v1.0h-1.0zM459.4 90.5h1.0v1.0h-1.0zM458.4 96.7h1.0v1.0h-1.0zM457.9 84.7h1.0v1.0h-1.0zM460.5 91.9h1.0v1.0h-1.0zM458.9 94.8h1.0v1.0h-1.0zM457.1 98.8h1.0v1.0h-1.0zM463.5 100.7h1.0v1.0h-1.0zM459.8 100.8h1.0v1.0h-1.0zM459.7 97.0h1.0v1.0h-1.0zM459.2 90.2h1.0v1.0h-1.0zM460.5 78.5h1.0v1.0h-1.0zM459.2 99.3h1.0v1.0h-1.0zM454.3 91.3h1.0v1.0h-1.0zM461.3 91.0h1.0v1.0h-1.0zM460.0 97.3h1.0v1.0h-1.0zM460.2 77.6h1.0v1.0h-1.0zM457.9 87.2h1.0v1.0h-1.0zM459.9 86.3h1.0v1.0h-1.0zM459.4 99.0h1.0v1.0h-1.0zM454.3 95.9h1.0v1.0h-1.0zM461.3 92.6h1.0v1.0h-1.0zM459.6 89.4h1.0v1.0h-1.0zM460.3 90.5h1.0v1.0h-1.0zM458.3 93.7h1.0v1.0h-1.0zM458.1 88.8h1.0v1.0h-1.0zM459.0 82.1h1.0v1.0h-1.0zM460.7 88.6h1.0v1.0h-1.0zM457.5 88.5h1.0v1.0h-1.0zM457.1 97.6h1.0v1.0h-1.0zM460.5 100.9h1.0v1.0h-1.0zM458.6 93.2h1.0v1.0h-1.0zM457.9 83.9h1.0v1.0h-1.0zM459.4 91.5h1.0v1.0h-1.0zM461.3 87.4h1.0v1.0h-1.0zM461.6 94.8h1.0v1.0h-1.0zM458.0 87.9h1.0v1.0h-1.0zM458.0 99.2h1.0v1.0h-1.0zM458.6 94.3h1.0v1.0h-1.0zM461.2 87.5h1.0v1.0h-1.0zM458.7 91.1h1.0v1.0h-1.0zM458.2 81.4h1.0v1.0h-1.0zM457.9 91.0h1.0v1.0h-1.0zM459.9 99.5h1.0v1.0h-1.0zM456.3 92.0h1.0v1.0h-1.0zM457.5 95.9h1.0v1.0h-1.0zM460.8 89.8h1.0v1.0h-1.0zM462.2 86.8h1.0v1.0h-1.0zM458.7 82.7h1.0v1.0h-1.0zM458.4 89.7h1.0v1.0h-1.0zM460.8 96.6h1.0v1.0h-1.0zM459.1 84.6h1.0v1.0h-1.0zM459.0 86.4h1.0v1.0h-1.0zM458.8 86.6h1.0v1.0h-1.0zM458.0 88.7h1.0v1.0h-1.0zM458.7 88.0h1.0v1.0h-1.0zM457.1 89.9h1.0v1.0h-1.0zM460.6 92.9h1.0v1.0h-1.0zM458.6 82.2h1.0v1.0h-1.0zM457.3 82.0h1.0v1.0h-1.0zM458.5 87.2h1.0v1.0h-1.0zM456.4 93.0h1.0v1.0h-1.0zM456.8 84.9h1.0v1.0h-1.0zM458.3 93.9h1.0v1.0h-1.0zM462.9 86.9h1.0v1.0h-1.0zM459.1 86.7h1.0v1.0h-1.0zM459.2 88.0h1.0v1.0h-1.0zM464.0 82.5h1.0v1.0h-1.0zM459.4 84.3h1.0v1.0h-1.0zM460.2 85.9h1.0v1.0h-1.0zM460.6 82.6h1.0v1.0h-1.0zM463.4 90.2h1.0v1.0h-1.0zM456.4 93.2h1.0v1.0h-1.0zM458.8 82.1h1.0v1.0h-1.0zM460.4 85.9h1.0v1.0h-1.0zM460.9 85.8h1.0v1.0h-1.0zM461.2 89.9h1.0v1.0h-1.0zM460.2 89.9h1.0v1.0h-1.0zM459.0 86.9h1.0v1.0h-1.0zM460.4 93.2h1.0v1.0h-1.0zM458.9 102.3h1.0v1.0h-1.0zM462.6 82.2h1.0v1.0h-1.0zM461.5 88.6h1.0v1.0h-1.0zM460.0 84.3h1.0v1.0h-1.0zM462.5 84.1h1.0v1.0h-1.0zM459.5 84.7h1.0v1.0h-1.0zM463.0 96.4h1.0v1.0h-1.0zM457.3 86.3h1.0v1.0h-1.0zM460.2 86.5h1.0v1.0h-1.0zM459.0 82.6h1.0v1.0h-1.0zM460.0 82.5h1.0v1.0h-1.0zM461.1 103.2h1.0v1.0h-1.0zM459.0 98.7h1.0v1.0h-1.0zM460.3 85.0h1.0v1.0h-1.0zM459.0 83.3h1.0v1.0h-1.0zM459.8 93.1h1.0v1.0h-1.0zM461.3 87.4h1.0v1.0h-1.0zM457.5 88.6h1.0v1.0h-1.0zM462.6 90.7h1.0v1.0h-1.0zM459.5 76.7h1.0v1.0h-1.0zM458.8 92.2h1.0v1.0h-1.0zM457.9 97.0h1.0v1.0h-1.0zM458.6 83.9h1.0v1.0h-1.0zM458.6 88.5h1.0v1.0h-1.0zM461.4 85.7h1.0v1.0h-1.0zM456.4 88.5h1.0v1.0h-1.0zM460.5 98.1h1.0v1.0h-1.0zM457.6 97.7h1.0v1.0h-1.0zM460.8 91.7h1.0v1.0h-1.0zM458.2 83.8h1.0v1.0h-1.0zM457.9 94.5h1.0v1.0h-1.0zM460.0 95.3h1.0v1.0h-1.0zM462.8 89.1h1.0v1.0h-1.0zM459.5 100.3h1.0v1.0h-1.0zM457.3 86.4h1.0v1.0h-1.0zM458.9 86.8h1.0v1.0h-1.0zM459.9 84.1h1.0v1.0h-1.0zM461.7 81.0h1.0v1.0h-1.0zM458.2 79.1h1.0v1.0h-1.0zM457.1 92.5h1.0v1.0h-1.0zM460.7 87.9h1.0v1.0h-1.0zM461.1 92.7h1.0v1.0h-1.0zM458.6 88.8h1.0v1.0h-1.0zM460.3 100.8h1.0v1.0h-1.0zM458.8 91.2h1.0v1.0h-1.0zM460.6 96.2h1.0v1.0h-1.0zM460.4 95.3h1.0v1.0h-1.0zM457.7 87.5h1.0v1.0h-1.0zM456.2 88.7h1.0v1.0h-1.0zM463.7 90.5h1.0v1.0h-1.0zM459.8 90.6h1.0v1.0h-1.0zM459.9 81.3h1.0v1.0h-1.0zM458.4 88.0h1.0v1.0h-1.0zM459.9 84.0h1.0v1.0h-1.0zM459.4 84.7h1.0v1.0h-1.0zM457.3 85.2h1.0v1.0h-1.0zM458.2 94.0h1.0v1.0h-1.0zM462.0 92.4h1.0v1.0h-1.0zM459.2 85.8h1.0v1.0h-1.0zM456.8 85.9h1.0v1.0h-1.0zM462.4 95.8h1.0v1.0h-1.0zM460.0 87.6h1.0v1.0h-1.0zM459.6 91.5h1.0v1.0h-1.0zM459.6 91.5h1.0v1.0h-1.0zM458.2 89.3h1.0v1.0h-1.0zM459.0 95.3h1.0v1.0h-1.0zM457.4 96.6h1.0v1.0h-1.0zM459.4 86.1h1.0v1.0h-1.0zM459.6 89.8h1.0v1.0h-1.0zM459.2 91.5h1.0v1.0h-1.0zM458.6 79.1h1.0v1.0h-1.0zM460.8 88.9h1.0v1.0h-1.0zM462.5 91.3h1.0v1.0h-1.0zM456.1 96.3h1.0v1.0h-1.0zM458.4 92.2h1.0v1.0h-1.0zM463.5 95.4h1.0v1.0h-1.0zM457.7 88.5h1.0v1.0h-1.0zM456.8 93.0h1.0v1.0h-1.0zM460.6 83.0h1.0v1.0h-1.0zM460.4 94.5h1.0v1.0h-1.0zM461.0 85.1h1.0v1.0h-1.0zM458.4 82.5h1.0v1.0h-1.0zM457.3 90.9h1.0v1.0h-1.0zM459.7 96.7h1.0v1.0h-1.0zM460.1 87.2h1.0v1.0h-1.0zM457.1 98.1h1.0v1.0h-1.0zM459.9 88.9h1.0v1.0h-1.0zM457.8 82.9h1.0v1.0h-1.0zM460.7 83.4h1.0v1.0h-1.0zM460.6 92.7h1.0v1.0h-1.0zM458.9 79.6h1.0v1.0h-1.0zM460.3 97.3h1.0v1.0h-1.0zM458.1 81.7h1.0v1.0h-1.0zM461.5 89.9h1.0v1.0h-1.0zM458.5 96.2h1.0v1.0h-1.0zM459.1 91.7h1.0v1.0h-1.0zM458.9 84.7h1.0v1.0h-1.0zM460.0 84.0h1.0v1.0h-1.0zM456.5 85.9h1.0v1.0h-1.0zM461.8 95.5h1.0v1.0h-1.0zM463.4 94.8h1.0v1.0h-1.0zM462.5 90.5h1.0v1.0h-1.0zM458.8 91.8h1.0v1.0h-1.0zM457.9 93.3h1.0v1.0h-1.0zM458.8 90.6h1.0v1.0h-1.0zM458.1 88.3h1.0v1.0h-1.0zM461.3 87.8h1.0v1.0h-1.0zM458.4 90.7h1.0v1.0h-1.0zM461.2 88.0h1.0v1.0h-1.0zM457.5 80.0h1.0v1.0h-1.0zM457.2 95.3h1.0v1.0h-1.0zM459.4 91.8h1.0v1.0h-1.0zM461.5 90.7h1.0v1.0h-1.0zM460.5 86.1h1.0v1.0h-1.0zM456.8 92.7h1.0v1.0h-1.0zM459.4 92.4h1.0v1.0h-1.0zM457.7 88.2h1.0v1.0h-1.0zM463.2 84.2h1.0v1.0h-1.0zM459.8 96.7h1.0v1.0h-1.0zM459.2 89.8h1.0v1.0h-1.0zM455.8 93.6h1.0v1.0h-1.0zM458.8 96.5h1.0v1.0h-1.0zM459.4 86.9h1.0v1.0h-1.0zM460.4 87.7h1.0v1.0h-1.0zM458.7 98.0h1.0v1.0h-1.0zM461.3 89.7h1.0v1.0h-1.0zM461.0 93.9h1.0v1.0h-1.0zM460.6 89.3h1.0v1.0h-1.0zM459.7 91.4h1.0v1.0h-1.0zM460.6 91.1h1.0v1.0h-1.0zM458.6 88.6h1.0v1.0h-1.0zM460.4 83.4h1.0v1.0h-1.0zM459.6 93.5h1.0v1.0h-1.0zM459.9 87.4h1.0v1.0h-1.0zM459.6 86.3h1.0v1.0h-1.0zM461.3 86.9h1.0v1.0h-1.0zM456.7 82.1h1.0v1.0h-1.0zM460.1 90.3h1.0v1.0h-1.0zM458.8 81.5h1.0v1.0h-1.0zM459.3 84.2h1.0v1.0h-1.0zM458.4 89.1h1.0v1.0h-1.0zM458.2 90.9h1.0v1.0h-1.0zM458.3 86.4h1.0v1.0h-1.0zM459.2 97.5h1.0v1.0h-1.0zM462.4 94.5h1.0v1.0h-1.0zM458.3 89.1h1.0v1.0h-1.0zM461.2 93.7h1.0v1.0h-1.0zM456.7 88.8h1.0v1.0h-1.0zM458.3 93.4h1.0v1.0h-1.0zM460.7 86.0h1.0v1.0h-1.0zM463.4 87.5h1.0v1.0h-1.0zM463.9 88.1h1.0v1.0h-1.0zM459.5 100.0h1.0v1.0h-1.0zM458.7 86.4h1.0v1.0h-1.0zM462.2 88.9h1.0v1.0h-1.0zM460.4 81.9h1.0v1.0h-1.0zM462.8 94.7h1.0v1.0h-1.0zM460.2 93.1h1.0v1.0h-1.0zM458.7 86.4h1.0v1.0h-1.0zM456.8 91.2h1.0v1.0h-1.0zM461.8 94.0h1.0v1.0h-1.0zM461.2 93.2h1.0v1.0h-1.0zM458.0 81.6h1.0v1.0h-1.0zM460.7 90.0h1.0v1.0h-1.0zM461.3 87.5h1.0v1.0h-1.0zM458.0 91.6h1.0v1.0h-1.0zM458.6 79.7h1.0v1.0h-1.0zM458.5 84.1h1.0v1.0h-1.0zM457.6 85.9h1.0v1.0h-1.0zM461.3 102.6h1.0v1.0h-1.0zM462.6 86.7h1.0v1.0h-1.0zM461.6 88.7h1.0v1.0h-1.0zM460.3 85.2h1.0v1.0h-1.0zM459.5 79.5h1.0v1.0h-1.0zM462.8 84.7h1.0v1.0h-1.0zM460.6 85.7h1.0v1.0h-1.0zM460.1 82.4h1.0v1.0h-1.0zM458.9 94.3h1.0v1.0h-1.0zM460.6 78.0h1.0v1.0h-1.0zM461.1 81.6h1.0v1.0h-1.0zM460.1 92.1h1.0v1.0h-1.0zM458.5 87.3h1.0v1.0h-1.0zM459.2 91.4h1.0v1.0h-1.0zM461.2 96.9h1.0v1.0h-1.0zM460.2 100.5h1.0v1.0h-1.0zM457.9 99.3h1.0v1.0h-1.0zM459.1 93.5h1.0v1.0h-1.0zM459.4 89.6h1.0v1.0h-1.0zM458.0 91.3h1.0v1.0h-1.0zM463.2 89.9h1.0v1.0h-1.0zM459.6 89.1h1.0v1.0h-1.0zM460.9 87.9h1.0v1.0h-1.0zM459.6 90.3h1.0v1.0h-1.0zM461.9 94.5h1.0v1.0h-1.0zM457.7 85.5h1.0v1.0h-1.0zM459.6 93.9h1.0v1.0h-1.0zM461.3 87.9h1.0v1.0h-1.0zM463.3 88.2h1.0v1.0h-1.0zM462.1 97.2h1.0v1.0h-1.0zM462.4 90.2h1.0v1.0h-1.0zM460.6 80.4h1.0v1.0h-1.0zM456.5 85.6h1.0v1.0h-1.0zM460.9 95.2h1.0v1.0h-1.0zM459.4 95.0h1.0v1.0h-1.0zM460.6 97.8h1.0v1.0h-1.0zM456.8 84.4h1.0v1.0h-1.0zM457.9 83.1h1.0v1.0h-1.0zM462.5 83.8h1.0v1.0h-1.0zM458.1 86.8h1.0v1.0h-1.0zM461.2 86.5h1.0v1.0h-1.0zM460.9 92.2h1.0v1.0h-1.0zM458.5 75.6h1.0v1.0h-1.0zM458.0 82.0h1.0v1.0h-1.0zM462.5 85.0h1.0v1.0h-1.0zM457.7 91.2h1.0v1.0h-1.0zM459.7 83.8h1.0v1.0h-1.0zM461.5 94.3h1.0v1.0h-1.0zM460.1 84.8h1.0v1.0h-1.0zM458.1 77.4h1.0v1.0h-1.0zM460.3 91.3h1.0v1.0h-1.0zM458.0 89.2h1.0v1.0h-1.0zM465.4 82.7h1.0v1.0h-1.0zM456.6 92.6h1.0v1.0h-1.0zM458.8 86.3h1.0v1.0h-1.0zM460.7 88.3h1.0v1.0h-1.0zM461.4 92.0h1.0v1.0h-1.0zM461.6 89.8h1.0v1.0h-1.0zM455.8 96.8h1.0v1.0h-1.0zM456.6 95.0h1.0v1.0h-1.0zM460.0 81.2h1.0v1.0h-1.0zM459.7 94.1h1.0v1.0h-1.0zM457.8 89.3h1.0v1.0h-1.0zM458.3 83.4h1.0v1.0h-1.0zM458.5 96.4h1.0v1.0h-1.0zM460.8 88.9h1.0v1.0h-1.0zM459.5 89.8h1.0v1.0h-1.0zM460.1 90.1h1.0v1.0h-1.0zM456.6 94.3h1.0v1.0h-1.0zM458.1 74.2h1.0v1.0h-1.0zM460.8 82.2h1.0v1.0h-1.0zM459.3 88.5h1.0v1.0h-1.0zM458.6 92.1h1.0v1.0h-1.0zM459.1 87.5h1.0v1.0h-1.0zM457.9 87.5h1.0v1.0h-1.0zM457.8 89.3h1.0v1.0h-1.0zM461.9 94.8h1.0v1.0h-1.0zM460.4 81.3h1.0v1.0h-1.0zM461.4 94.4h1.0v1.0h-1.0zM463.2 76.2h1.0v1.0h-1.0zM459.6 87.2h1.0v1.0h-1.0zM461.5 82.9h1.0v1.0h-1.0zM458.9 102.3h1.0v1.0h-1.0zM461.4 77.7h1.0v1.0h-1.0zM459.6 96.9h1.0v1.0h-1.0zM458.5 92.5h1.0v1.0h-1.0zM459.8 80.7h1.0v1.0h-1.0zM458.5 95.5h1.0v1.0h-1.0zM461.7 85.6h1.0v1.0h-1.0zM461.6 85.0h1.0v1.0h-1.0zM460.0 88.9h1.0v1.0h-1.0zM457.4 90.9h1.0v1.0h-1.0zM458.9 73.4h1.0v1.0h-1.0zM458.1 84.2h1.0v1.0h-1.0zM458.1 83.5h1.0v1.0h-1.0zM458.4 75.0h1.0v1.0h-1.0zM461.2 89.5h1.0v1.0h-1.0zM460.1 87.5h1.0v1.0h-1.0zM459.7 87.5h1.0v1.0h-1.0zM457.7 80.4h1.0v1.0h-1.0zM459.7 94.9h1.0v1.0h-1.0zM460.0 98.3h1.0v1.0h-1.0zM457.2 87.5h1.0v1.0h-1.0zM458.5 96.1h1.0v1.0h-1.0zM462.6 86.1h1.0v1.0h-1.0zM460.9 87.7h1.0v1.0h-1.0zM457.8 88.4h1.0v1.0h-1.0zM457.8 97.9h1.0v1.0h-1.0zM460.6 95.8h1.0v1.0h-1.0zM460.2 75.1h1.0v1.0h-1.0zM461.0 89.6h1.0v1.0h-1.0zM455.4 89.6h1.0v1.0h-1.0zM461.4 98.8h1.0v1.0h-1.0zM457.8 93.6h1.0v1.0h-1.0zM460.2 88.0h1.0v1.0h-1.0zM459.1 92.1h1.0v1.0h-1.0zM460.6 92.8h1.0v1.0h-1.0zM458.9 81.5h1.0v1.0h-1.0zM461.9 96.5h1.0v1.0h-1.0zM458.6 88.8h1.0v1.0h-1.0zM461.0 78.9h1.0v1.0h-1.0zM460.5 102.9h1.0v1.0h-1.0zM460.1 85.0h1.0v1.0h-1.0zM463.2 89.1h1.0v1.0h-1.0zM460.0 86.6h1.0v1.0h-1.0zM459.9 78.7h1.0v1.0h-1.0zM457.3 80.6h1.0v1.0h-1.0zM461.2 88.5h1.0v1.0h-1.0zM461.6 77.3h1.0v1.0h-1.0zM458.5 97.4h1.0v1.0h-1.0zM458.2 78.3h1.0v1.0h-1.0zM458.3 87.0h1.0v1.0h-1.0zM459.6 96.5h1.0v1.0h-1.0zM462.0 97.9h1.0v1.0h-1.0zM460.6 86.1h1.0v1.0h-1.0zM458.7 80.5h1.0v1.0h-1.0zM461.9 96.2h1.0v1.0h-1.0zM459.8 83.9h1.0v1.0h-1.0zM460.8 91.8h1.0v1.0h-1.0zM459.9 82.3h1.0v1.0h-1.0zM460.0 85.8h1.0v1.0h-1.0zM460.9 92.4h1.0v1.0h-1.0zM460.4 86.6h1.0v1.0h-1.0zM462.3 93.5h1.0v1.0h-1.0zM461.8 93.8h1.0v1.0h-1.0zM460.8 91.3h1.0v1.0h-1.0zM457.7 78.6h1.0v1.0h-1.0zM457.9 92.5h1.0v1.0h-1.0zM461.2 90.1h1.0v1.0h-1.0zM459.8 99.6h1.0v1.0h-1.0zM458.9 78.8h1.0v1.0h-1.0zM456.9 87.2h1.0v1.0h-1.0zM460.8 93.2h1.0v1.0h-1.0zM459.2 93.7h1.0v1.0h-1.0zM459.5 84.8h1.0v1.0h-1.0zM458.9 93.4h1.0v1.0h-1.0zM461.3 82.5h1.0v1.0h-1.0zM457.9 89.7h1.0v1.0h-1.0zM463.4 82.3h1.0v1.0h-1.0zM457.4 91.4h1.0v1.0h-1.0zM460.5 85.5h1.0v1.0h-1.0zM459.6 91.8h1.0v1.0h-1.0zM456.5 88.9h1.0v1.0h-1.0zM460.7 94.3h1.0v1.0h-1.0zM461.7 88.6h1.0v1.0h-1.0zM457.1 96.7h1.0v1.0h-1.0zM461.0 85.3h1.0v1.0h-1.0zM461.4 95.0h1.0v1.0h-1.0zM459.4 75.4h1.0v1.0h-1.0zM458.8 84.7h1.0v1.0h-1.0zM458.1 88.5h1.0v1.0h-1.0zM457.7 91.2h1.0v1.0h-1.0zM462.9 82.2h1.0v1.0h-1.0zM461.4 85.9h1.0v1.0h-1.0zM460.6 88.3h1.0v1.0h-1.0zM461.9 84.9h1.0v1.0h-1.0zM460.9 84.5h1.0v1.0h-1.0zM460.0 88.9h1.0v1.0h-1.0zM461.5 79.9h1.0v1.0h-1.0zM457.2 97.0h1.0v1.0h-1.0zM460.3 98.8h1.0v1.0h-1.0zM457.8 90.2h1.0v1.0h-1.0zM460.7 99.2h1.0v1.0h-1.0zM459.5 86.4h1.0v1.0h-1.0zM460.9 88.4h1.0v1.0h-1.0zM458.3 93.4h1.0v1.0h-1.0zM456.2 83.2h1.0v1.0h-1.0zM462.0 86.1h1.0v1.0h-1.0z" fill="#2848b0" fill-opacity="0.55"/>
<path d="M457.4 82.1h1.0v1.0h-1.0zM464.5 83.0h1.0v1.0h-1.0zM454.3 76.7h1.0v1.0h-1.0zM464.1 79.3h1.0v1.0h-1.0zM455.9 85.0h1.0v1.0h-1.0zM464.6 92.5h1.0v1.0h-1.0zM453.7 75.9h1.0v1.0h-1.0zM455.6 82.0h1.0v1.0h-1.0zM456.7 86.4h1.0v1.0h-1.0zM445.9 85.5h1.0v1.0h-1.0zM455.9 78.4h1.0v1.0h-1.0zM461.8 81.2h1.0v1.0h-1.0zM454.1 88.6h1.0v1.0h-1.0zM461.8 77.2h1.0v1.0h-1.0zM460.0 73.6h1.0v1.0h-1.0zM453.0 78.3h1.0v1.0h-1.0zM460.8 80.6h1.0v1.0h-1.0zM455.2 72.0h1.0v1.0h-1.0zM450.8 89.2h1.0v1.0h-1.0zM460.8 75.4h1.0v1.0h-1.0zM464.8 83.1h1.0v1.0h-1.0zM457.0 76.5h1.0v1.0h-1.0zM464.6 81.9h1.0v1.0h-1.0zM467.0 82.1h1.0v1.0h-1.0zM456.1 76.6h1.0v1.0h-1.0zM455.6 81.5h1.0v1.0h-1.0zM460.2 83.5h1.0v1.0h-1.0zM461.2 74.0h1.0v1.0h-1.0zM458.0 74.6h1.0v1.0h-1.0zM461.4 72.4h1.0v1.0h-1.0zM456.2 75.1h1.0v1.0h-1.0zM456.0 78.5h1.0v1.0h-1.0zM466.4 78.5h1.0v1.0h-1.0zM452.0 78.3h1.0v1.0h-1.0zM462.6 83.2h1.0v1.0h-1.0zM460.2 91.5h1.0v1.0h-1.0zM464.4 80.5h1.0v1.0h-1.0zM464.9 72.3h1.0v1.0h-1.0zM458.2 75.0h1.0v1.0h-1.0zM459.9 89.3h1.0v1.0h-1.0zM456.6 89.2h1.0v1.0h-1.0zM454.0 88.2h1.0v1.0h-1.0zM450.8 75.1h1.0v1.0h-1.0zM463.9 79.5h1.0v1.0h-1.0zM459.7 79.9h1.0v1.0h-1.0zM459.9 79.0h1.0v1.0h-1.0zM454.2 78.3h1.0v1.0h-1.0zM459.5 74.8h1.0v1.0h-1.0zM461.3 90.1h1.0v1.0h-1.0zM451.0 76.9h1.0v1.0h-1.0zM457.6 80.1h1.0v1.0h-1.0zM459.5 75.8h1.0v1.0h-1.0zM458.8 80.0h1.0v1.0h-1.0zM458.6 88.9h1.0v1.0h-1.0zM459.6 71.5h1.0v1.0h-1.0zM451.4 83.4h1.0v1.0h-1.0zM457.3 76.4h1.0v1.0h-1.0zM452.4 78.2h1.0v1.0h-1.0zM458.6 76.1h1.0v1.0h-1.0zM457.3 85.1h1.0v1.0h-1.0zM462.8 83.1h1.0v1.0h-1.0zM458.2 72.2h1.0v1.0h-1.0zM462.8 88.6h1.0v1.0h-1.0zM465.2 86.7h1.0v1.0h-1.0zM460.3 82.2h1.0v1.0h-1.0zM458.9 87.2h1.0v1.0h-1.0zM457.7 92.4h1.0v1.0h-1.0zM462.8 78.2h1.0v1.0h-1.0zM459.0 70.7h1.0v1.0h-1.0zM455.4 78.3h1.0v1.0h-1.0zM470.9 75.3h1.0v1.0h-1.0zM463.5 80.4h1.0v1.0h-1.0zM457.6 83.6h1.0v1.0h-1.0zM449.3 85.4h1.0v1.0h-1.0zM468.4 81.7h1.0v1.0h-1.0zM458.7 80.9h1.0v1.0h-1.0zM462.2 77.2h1.0v1.0h-1.0zM459.6 82.9h1.0v1.0h-1.0zM457.3 82.2h1.0v1.0h-1.0zM460.6 84.1h1.0v1.0h-1.0zM454.2 76.9h1.0v1.0h-1.0zM456.9 86.9h1.0v1.0h-1.0zM460.2 70.5h1.0v1.0h-1.0zM452.8 91.2h1.0v1.0h-1.0zM460.6 72.6h1.0v1.0h-1.0zM454.6 80.8h1.0v1.0h-1.0zM465.9 89.3h1.0v1.0h-1.0zM457.2 78.3h1.0v1.0h-1.0zM468.3 74.3h1.0v1.0h-1.0zM466.6 82.0h1.0v1.0h-1.0zM459.5 87.4h1.0v1.0h-1.0zM461.3 75.2h1.0v1.0h-1.0zM451.6 80.1h1.0v1.0h-1.0zM461.5 87.9h1.0v1.0h-1.0zM446.3 87.7h1.0v1.0h-1.0zM462.0 88.7h1.0v1.0h-1.0zM462.9 81.2h1.0v1.0h-1.0zM461.1 82.3h1.0v1.0h-1.0zM456.0 79.3h1.0v1.0h-1.0zM459.6 77.4h1.0v1.0h-1.0zM451.9 71.7h1.0v1.0h-1.0zM461.5 83.0h1.0v1.0h-1.0zM459.5 73.3h1.0v1.0h-1.0zM463.1 77.7h1.0v1.0h-1.0zM448.9 89.0h1.0v1.0h-1.0zM451.8 93.0h1.0v1.0h-1.0zM461.6 77.5h1.0v1.0h-1.0zM447.6 75.9h1.0v1.0h-1.0zM466.2 87.8h1.0v1.0h-1.0zM460.3 70.1h1.0v1.0h-1.0zM457.2 78.4h1.0v1.0h-1.0zM461.2 79.3h1.0v1.0h-1.0zM460.7 70.6h1.0v1.0h-1.0zM455.9 88.3h1.0v1.0h-1.0zM451.9 85.3h1.0v1.0h-1.0zM470.2 83.8h1.0v1.0h-1.0zM452.3 87.2h1.0v1.0h-1.0zM450.0 81.9h1.0v1.0h-1.0zM457.0 87.1h1.0v1.0h-1.0zM464.7 81.1h1.0v1.0h-1.0zM467.7 85.7h1.0v1.0h-1.0zM456.7 74.3h1.0v1.0h-1.0zM471.0 77.7h1.0v1.0h-1.0zM461.0 79.3h1.0v1.0h-1.0zM456.7 70.7h1.0v1.0h-1.0zM458.3 79.3h1.0v1.0h-1.0zM463.8 77.0h1.0v1.0h-1.0zM451.4 73.8h1.0v1.0h-1.0zM458.8 81.4h1.0v1.0h-1.0zM462.5 77.8h1.0v1.0h-1.0z" fill="#3050b8" fill-opacity="0.3"/>
<path d="M479.9 96.8h1.0v1.0h-1.0zM482.8 95.7h1.0v1.0h-1.0zM478.9 99.0h1.0v1.0h-1.0zM481.6 91.1h1.0v1.0h-1.0zM477.3 94.5h1.0v1.0h-1.0zM473.1 102.9h1.0v1.0h-1.0zM481.2 96.1h1.0v1.0h-1.0zM487.0 102.7h1.0v1.0h-1.0zM483.6 104.3h1.0v1.0h-1.0zM480.8 88.5h1.0v1.0h-1.0zM482.4 98.2h1.0v1.0h-1.0zM475.5 96.3h1.0v1.0h-1.0zM480.4 101.2h1.0v1.0h-1.0zM478.9 93.2h1.0v1.0h-1.0zM480.4 92.0h1.0v1.0h-1.0zM478.3 100.0h1.0v1.0h-1.0zM474.9 98.0h1.0v1.0h-1.0zM473.6 91.1h1.0v1.0h-1.0zM475.4 95.5h1.0v1.0h-1.0zM480.3 95.7h1.0v1.0h-1.0zM480.8 96.5h1.0v1.0h-1.0zM478.0 98.6h1.0v1.0h-1.0zM477.9 96.7h1.0v1.0h-1.0zM481.1 93.0h1.0v1.0h-1.0zM481.4 90.1h1.0v1.0h-1.0zM477.9 86.8h1.0v1.0h-1.0zM477.2 104.4h1.0v1.0h-1.0zM479.4 102.7h1.0v1.0h-1.0zM474.8 90.6h1.0v1.0h-1.0zM479.7 100.4h1.0v1.0h-1.0zM480.6 87.1h1.0v1.0h-1.0zM479.8 95.6h1.0v1.0h-1.0zM478.8 98.5h1.0v1.0h-1.0zM477.8 87.0h1.0v1.0h-1.0zM475.8 88.3h1.0v1.0h-1.0zM475.2 95.3h1.0v1.0h-1.0zM481.8 92.2h1.0v1.0h-1.0zM476.6 89.9h1.0v1.0h-1.0zM474.1 96.4h1.0v1.0h-1.0zM477.3 94.7h1.0v1.0h-1.0z" fill="#4060c0" fill-opacity="0.28"/>
<ellipse cx="459.7" cy="76.6" rx="5.6" ry="6.2" fill="url(#hotC)"/>
</g>
<line x1="348.8" y1="54.273" x2="350.8" y2="54.273" stroke="#111" stroke-width="0.6"/>
<line x1="348.8" y1="56.464" x2="350.8" y2="56.464" stroke="#111" stroke-width="0.6"/>
<line x1="348.8" y1="58.655" x2="350.8" y2="58.655" stroke="#111" stroke-width="0.6"/>
<line x1="348.8" y1="60.846000000000004" x2="350.8" y2="60.846000000000004" stroke="#111" stroke-width="0.6"/>
<line x1="348.8" y1="63.35" x2="350.8" y2="63.35" stroke="#111" stroke-width="0.6"/>
<line x1="348.8" y1="65.854" x2="350.8" y2="65.854" stroke="#111" stroke-width="0.6"/>
<line x1="348.8" y1="68.671" x2="350.8" y2="68.671" stroke="#111" stroke-width="0.6"/>
<line x1="348.8" y1="71.488" x2="350.8" y2="71.488" stroke="#111" stroke-width="0.6"/>
<line x1="348.8" y1="74.618" x2="350.8" y2="74.618" stroke="#111" stroke-width="0.6"/>
<line x1="348.8" y1="78.374" x2="350.8" y2="78.374" stroke="#111" stroke-width="0.6"/>
<line x1="348.8" y1="82.13" x2="350.8" y2="82.13" stroke="#111" stroke-width="0.6"/>
<line x1="348.8" y1="85.886" x2="350.8" y2="85.886" stroke="#111" stroke-width="0.6"/>
<line x1="348.8" y1="89.01599999999999" x2="350.8" y2="89.01599999999999" stroke="#111" stroke-width="0.6"/>
<line x1="348.8" y1="92.77199999999999" x2="350.8" y2="92.77199999999999" stroke="#111" stroke-width="0.6"/>
<line x1="348.8" y1="97.154" x2="350.8" y2="97.154" stroke="#111" stroke-width="0.6"/>
<line x1="348.8" y1="101.536" x2="350.8" y2="101.536" stroke="#111" stroke-width="0.6"/>
<line x1="348.8" y1="104.666" x2="350.8" y2="104.666" stroke="#111" stroke-width="0.6"/>
<line x1="348.8" y1="107.9212" x2="350.8" y2="107.9212" stroke="#111" stroke-width="0.6"/>
<line x1="347.8" y1="54.273" x2="350.8" y2="54.273" stroke="#111" stroke-width="1.0"/>
<text x="345.0" y="56.773" font-size="8.2" text-anchor="end">10<tspan font-size="5.8" dy="-3.4">5</tspan></text>
<line x1="347.8" y1="68.671" x2="350.8" y2="68.671" stroke="#111" stroke-width="1.0"/>
<text x="345.0" y="71.171" font-size="8.2" text-anchor="end">10<tspan font-size="5.8" dy="-3.4">4</tspan></text>
<line x1="347.8" y1="85.886" x2="350.8" y2="85.886" stroke="#111" stroke-width="1.0"/>
<text x="345.0" y="88.386" font-size="8.2" text-anchor="end">10<tspan font-size="5.8" dy="-3.4">3</tspan></text>
<line x1="347.8" y1="97.154" x2="350.8" y2="97.154" stroke="#111" stroke-width="1.0"/>
<text x="345.2" y="100.054" font-size="8.2" text-anchor="end">0</text>
<line x1="347.8" y1="107.9212" x2="350.8" y2="107.9212" stroke="#111" stroke-width="1.0"/>
<text x="345.0" y="110.4212" font-size="8.2" text-anchor="end">−10<tspan font-size="5.8" dy="-3.4">3</tspan></text>
<rect x="348.0" y="95.75399999999999" width="2.8" height="2.8" fill="#111"/>
<line x1="353.935" y1="110.3" x2="353.935" y2="112.3" stroke="#111" stroke-width="0.6"/>
<line x1="358.951" y1="110.3" x2="358.951" y2="112.3" stroke="#111" stroke-width="0.6"/>
<line x1="364.2805" y1="110.3" x2="364.2805" y2="112.3" stroke="#111" stroke-width="0.6"/>
<line x1="368.983" y1="110.3" x2="368.983" y2="112.3" stroke="#111" stroke-width="0.6"/>
<line x1="372.118" y1="110.3" x2="372.118" y2="112.3" stroke="#111" stroke-width="0.6"/>
<line x1="375.88" y1="110.3" x2="375.88" y2="112.3" stroke="#111" stroke-width="0.6"/>
<line x1="379.015" y1="110.3" x2="379.015" y2="112.3" stroke="#111" stroke-width="0.6"/>
<line x1="382.777" y1="110.3" x2="382.777" y2="112.3" stroke="#111" stroke-width="0.6"/>
<line x1="386.539" y1="110.3" x2="386.539" y2="112.3" stroke="#111" stroke-width="0.6"/>
<line x1="389.674" y1="110.3" x2="389.674" y2="112.3" stroke="#111" stroke-width="0.6"/>
<line x1="392.809" y1="110.3" x2="392.809" y2="112.3" stroke="#111" stroke-width="0.6"/>
<line x1="395.944" y1="110.3" x2="395.944" y2="112.3" stroke="#111" stroke-width="0.6"/>
<line x1="399.706" y1="110.3" x2="399.706" y2="112.3" stroke="#111" stroke-width="0.6"/>
<line x1="402.841" y1="110.3" x2="402.841" y2="112.3" stroke="#111" stroke-width="0.6"/>
<line x1="406.9165" y1="110.3" x2="406.9165" y2="112.3" stroke="#111" stroke-width="0.6"/>
<line x1="409.738" y1="110.3" x2="409.738" y2="112.3" stroke="#111" stroke-width="0.6"/>
<line x1="353.935" y1="110.3" x2="353.935" y2="113.3" stroke="#111" stroke-width="1.0"/>
<text x="358.535" y="123.7" font-size="8.2" text-anchor="end">−10<tspan font-size="5.8" dy="-3.4">3</tspan></text>
<line x1="364.2805" y1="110.3" x2="364.2805" y2="113.3" stroke="#111" stroke-width="1.0"/>
<text x="364.2805" y="123.7" font-size="8.2" text-anchor="middle">0</text>
<line x1="375.88" y1="110.3" x2="375.88" y2="113.3" stroke="#111" stroke-width="1.0"/>
<text x="370.28" y="123.7" font-size="8.2">10<tspan font-size="5.8" dy="-3.4">3</tspan></text>
<line x1="392.809" y1="110.3" x2="392.809" y2="113.3" stroke="#111" stroke-width="1.0"/>
<text x="387.209" y="123.7" font-size="8.2">10<tspan font-size="5.8" dy="-3.4">4</tspan></text>
<line x1="406.9165" y1="110.3" x2="406.9165" y2="113.3" stroke="#111" stroke-width="1.0"/>
<text x="401.31649999999996" y="123.7" font-size="8.2">10<tspan font-size="5.8" dy="-3.4">5</tspan></text>
<rect x="362.88050000000004" y="110.3" width="2.8" height="2.8" fill="#111"/>
<rect x="350.8" y="47.7" width="62.69999999999999" height="62.599999999999994" fill="none" stroke="#111" stroke-width="1.1"/>
<line x1="443.0" y1="54.273" x2="445.0" y2="54.273" stroke="#111" stroke-width="0.6"/>
<line x1="443.0" y1="56.464" x2="445.0" y2="56.464" stroke="#111" stroke-width="0.6"/>
<line x1="443.0" y1="58.655" x2="445.0" y2="58.655" stroke="#111" stroke-width="0.6"/>
<line x1="443.0" y1="60.846000000000004" x2="445.0" y2="60.846000000000004" stroke="#111" stroke-width="0.6"/>
<line x1="443.0" y1="63.35" x2="445.0" y2="63.35" stroke="#111" stroke-width="0.6"/>
<line x1="443.0" y1="65.854" x2="445.0" y2="65.854" stroke="#111" stroke-width="0.6"/>
<line x1="443.0" y1="68.671" x2="445.0" y2="68.671" stroke="#111" stroke-width="0.6"/>
<line x1="443.0" y1="71.488" x2="445.0" y2="71.488" stroke="#111" stroke-width="0.6"/>
<line x1="443.0" y1="74.618" x2="445.0" y2="74.618" stroke="#111" stroke-width="0.6"/>
<line x1="443.0" y1="78.374" x2="445.0" y2="78.374" stroke="#111" stroke-width="0.6"/>
<line x1="443.0" y1="82.13" x2="445.0" y2="82.13" stroke="#111" stroke-width="0.6"/>
<line x1="443.0" y1="85.886" x2="445.0" y2="85.886" stroke="#111" stroke-width="0.6"/>
<line x1="443.0" y1="89.01599999999999" x2="445.0" y2="89.01599999999999" stroke="#111" stroke-width="0.6"/>
<line x1="443.0" y1="92.77199999999999" x2="445.0" y2="92.77199999999999" stroke="#111" stroke-width="0.6"/>
<line x1="443.0" y1="97.154" x2="445.0" y2="97.154" stroke="#111" stroke-width="0.6"/>
<line x1="443.0" y1="101.536" x2="445.0" y2="101.536" stroke="#111" stroke-width="0.6"/>
<line x1="443.0" y1="104.666" x2="445.0" y2="104.666" stroke="#111" stroke-width="0.6"/>
<line x1="443.0" y1="107.9212" x2="445.0" y2="107.9212" stroke="#111" stroke-width="0.6"/>
<line x1="442.0" y1="54.273" x2="445.0" y2="54.273" stroke="#111" stroke-width="1.0"/>
<text x="439.2" y="56.773" font-size="8.2" text-anchor="end">10<tspan font-size="5.8" dy="-3.4">5</tspan></text>
<line x1="442.0" y1="68.671" x2="445.0" y2="68.671" stroke="#111" stroke-width="1.0"/>
<text x="439.2" y="71.171" font-size="8.2" text-anchor="end">10<tspan font-size="5.8" dy="-3.4">4</tspan></text>
<line x1="442.0" y1="85.886" x2="445.0" y2="85.886" stroke="#111" stroke-width="1.0"/>
<text x="439.2" y="88.386" font-size="8.2" text-anchor="end">10<tspan font-size="5.8" dy="-3.4">3</tspan></text>
<line x1="442.0" y1="97.154" x2="445.0" y2="97.154" stroke="#111" stroke-width="1.0"/>
<text x="439.4" y="100.054" font-size="8.2" text-anchor="end">0</text>
<line x1="442.0" y1="107.9212" x2="445.0" y2="107.9212" stroke="#111" stroke-width="1.0"/>
<text x="439.2" y="110.4212" font-size="8.2" text-anchor="end">−10<tspan font-size="5.8" dy="-3.4">3</tspan></text>
<rect x="442.2" y="95.75399999999999" width="2.8" height="2.8" fill="#111"/>
<line x1="448.175" y1="110.3" x2="448.175" y2="112.3" stroke="#111" stroke-width="0.6"/>
<line x1="453.255" y1="110.3" x2="453.255" y2="112.3" stroke="#111" stroke-width="0.6"/>
<line x1="458.6525" y1="110.3" x2="458.6525" y2="112.3" stroke="#111" stroke-width="0.6"/>
<line x1="463.415" y1="110.3" x2="463.415" y2="112.3" stroke="#111" stroke-width="0.6"/>
<line x1="466.59" y1="110.3" x2="466.59" y2="112.3" stroke="#111" stroke-width="0.6"/>
<line x1="470.4" y1="110.3" x2="470.4" y2="112.3" stroke="#111" stroke-width="0.6"/>
<line x1="473.575" y1="110.3" x2="473.575" y2="112.3" stroke="#111" stroke-width="0.6"/>
<line x1="477.385" y1="110.3" x2="477.385" y2="112.3" stroke="#111" stroke-width="0.6"/>
<line x1="481.195" y1="110.3" x2="481.195" y2="112.3" stroke="#111" stroke-width="0.6"/>
<line x1="484.37" y1="110.3" x2="484.37" y2="112.3" stroke="#111" stroke-width="0.6"/>
<line x1="487.545" y1="110.3" x2="487.545" y2="112.3" stroke="#111" stroke-width="0.6"/>
<line x1="490.72" y1="110.3" x2="490.72" y2="112.3" stroke="#111" stroke-width="0.6"/>
<line x1="494.53" y1="110.3" x2="494.53" y2="112.3" stroke="#111" stroke-width="0.6"/>
<line x1="497.705" y1="110.3" x2="497.705" y2="112.3" stroke="#111" stroke-width="0.6"/>
<line x1="501.8325" y1="110.3" x2="501.8325" y2="112.3" stroke="#111" stroke-width="0.6"/>
<line x1="504.69" y1="110.3" x2="504.69" y2="112.3" stroke="#111" stroke-width="0.6"/>
<line x1="448.175" y1="110.3" x2="448.175" y2="113.3" stroke="#111" stroke-width="1.0"/>
<text x="452.77500000000003" y="123.7" font-size="8.2" text-anchor="end">−10<tspan font-size="5.8" dy="-3.4">3</tspan></text>
<line x1="458.6525" y1="110.3" x2="458.6525" y2="113.3" stroke="#111" stroke-width="1.0"/>
<text x="458.6525" y="123.7" font-size="8.2" text-anchor="middle">0</text>
<line x1="470.4" y1="110.3" x2="470.4" y2="113.3" stroke="#111" stroke-width="1.0"/>
<text x="464.79999999999995" y="123.7" font-size="8.2">10<tspan font-size="5.8" dy="-3.4">3</tspan></text>
<line x1="487.545" y1="110.3" x2="487.545" y2="113.3" stroke="#111" stroke-width="1.0"/>
<text x="481.945" y="123.7" font-size="8.2">10<tspan font-size="5.8" dy="-3.4">4</tspan></text>
<line x1="501.8325" y1="110.3" x2="501.8325" y2="113.3" stroke="#111" stroke-width="1.0"/>
<text x="496.23249999999996" y="123.7" font-size="8.2">10<tspan font-size="5.8" dy="-3.4">5</tspan></text>
<rect x="457.2525" y="110.3" width="2.8" height="2.8" fill="#111"/>
<rect x="445.0" y="47.7" width="63.5" height="62.599999999999994" fill="none" stroke="#111" stroke-width="1.1"/>
<g fill="none" stroke="#222" stroke-width="1.0">
<rect x="358.8" y="66.5" width="13.5" height="17.9"/>
<rect x="374.9" y="81.2" width="23" height="25.9"/>
<rect x="453.3" y="66.2" width="13.6" height="17.2"/>
<rect x="469.4" y="81.4" width="23" height="24.8"/>
</g>
<text x="355.8" y="56.7" font-size="8.0" fill="#d02448" textLength="28.2" lengthAdjust="spacingAndGlyphs" stroke="#d02448" stroke-width="0.12">16.9±2.3</text>
<text x="377.7" y="74.6" font-size="8.0" fill="#d02448" textLength="28.7" lengthAdjust="spacingAndGlyphs" stroke="#d02448" stroke-width="0.12">75.1±2.3</text>
<text x="450.2" y="56.7" font-size="8.0" fill="#d02448" textLength="28.8" lengthAdjust="spacingAndGlyphs" stroke="#d02448" stroke-width="0.12">91.2±0.4</text>
<text x="474.8" y="74.6" font-size="8.0" fill="#d02448" textLength="23.9" lengthAdjust="spacingAndGlyphs" stroke="#d02448" stroke-width="0.12">0.3±0.1</text>
<line x1="324.9" y1="44.5" x2="324.9" y2="128.9" stroke="#111" stroke-width="1.35"/>
<path d="M322.6 45.2 L327.2 45.2 L324.9 40.6 Z" fill="#111"/>
<line x1="324.3" y1="128.2" x2="509.5" y2="128.2" stroke="#111" stroke-width="1.35"/>
<path d="M509 125.9 L509 130.5 L513.6 128.2 Z" fill="#111"/>
<text x="319.3" y="83.8" font-size="8.6" text-anchor="middle" textLength="24.7" lengthAdjust="spacingAndGlyphs" transform="rotate(-90 319.3 83.8)">CD45.1</text>
<text x="418.7" y="140.8" font-size="8.4" text-anchor="middle" textLength="24.5" lengthAdjust="spacingAndGlyphs">CD45.2</text>
<text x="7.3" y="164" font-size="11" font-weight="bold" fill="#111" textLength="7.7" lengthAdjust="spacingAndGlyphs" stroke="#111" stroke-width="0.35">D</text>
<text x="95.5" y="171.0" font-size="9.2" textLength="80.5" lengthAdjust="spacingAndGlyphs">Gated on HSC<tspan font-size="6.8" dy="-3.4">SLAM</tspan></text>
<text x="65.7" y="185.2" font-size="7.8" font-style="italic" textLength="52.3" lengthAdjust="spacingAndGlyphs">Hbo1<tspan font-size="4.84" dy="-2.96">fl/+</tspan><tspan dy="2.96">;CreER</tspan></text>
<text x="163.3" y="185.3" font-size="7.8" font-style="italic" textLength="51.9" lengthAdjust="spacingAndGlyphs">Hbo1<tspan font-size="4.84" dy="-2.96">fl/fl</tspan><tspan dy="2.96">;CreER</tspan></text>
<text x="94.4" y="280.7" font-size="9.4" textLength="82" lengthAdjust="spacingAndGlyphs">Gate on progenitor</text>
<defs>
<radialGradient id="blobA" cx="50%" cy="50%" r="50%">
<stop offset="0" stop-color="#fff"/><stop offset="0.06" stop-color="#999"/><stop offset="0.16" stop-color="#111"/><stop offset="0.45" stop-color="#1c1c1c"/>
<stop offset="0.65" stop-color="#444"/><stop offset="0.82" stop-color="#777"/><stop offset="0.95" stop-color="#aaa"/><stop offset="1" stop-color="#ccc" stop-opacity="0"/>
</radialGradient>
<radialGradient id="blobB" cx="50%" cy="50%" r="50%">
<stop offset="0" stop-color="#fff"/><stop offset="0.08" stop-color="#666"/><stop offset="0.2" stop-color="#0a0a0a"/><stop offset="0.62" stop-color="#111"/>
<stop offset="0.8" stop-color="#444"/><stop offset="0.92" stop-color="#888"/><stop offset="1" stop-color="#bbb" stop-opacity="0.3"/>
</radialGradient>
<linearGradient id="tearG" x1="0" y1="0.25" x2="1" y2="0.75">
<stop offset="0" stop-color="#050505"/><stop offset="0.35" stop-color="#111"/><stop offset="0.6" stop-color="#444"/><stop offset="0.85" stop-color="#888"/><stop offset="1" stop-color="#bbb"/>
</linearGradient>
<radialGradient id="blobC" cx="50%" cy="50%" r="50%">
<stop offset="0" stop-color="#fff" stop-opacity="0.9"/><stop offset="0.1" stop-color="#666" stop-opacity="0.7"/><stop offset="0.25" stop-color="#111" stop-opacity="0.85"/><stop offset="0.55" stop-color="#222" stop-opacity="0.6"/><stop offset="1" stop-color="#444" stop-opacity="0"/>
</radialGradient>
<clipPath id="cd1"><rect x="60.9" y="190.3" width="61.5" height="61.7"/></clipPath>
<clipPath id="cd3"><rect x="60.9" y="289" width="61.5" height="61.3"/></clipPath>
</defs>
<g fill="none" stroke="#777" stroke-width="0.6"><path d="M74 207.3 C74 204.6 77 203 80.5 203 C84.5 203 87.5 204.8 89.4 207.3 C87.5 209.8 84.5 211.7 80.5 211.7 C77 211.7 74 210 74 207.3 Z"/><ellipse cx="80.2" cy="207" rx="5.0" ry="3.3"/><ellipse cx="79.3" cy="206.8" rx="3.2" ry="2.3"/><ellipse cx="78.9" cy="206.6" rx="1.5" ry="1.1"/></g>
<g clip-path="url(#cd1)">
<ellipse cx="104.4" cy="233" rx="6.8" ry="16" fill="url(#blobA)"/>
<g fill="none" stroke="#000" stroke-width="0.4" stroke-opacity="0.55"><ellipse cx="104.40" cy="233.00" rx="6.60" ry="15.60"/><ellipse cx="104.41" cy="233.00" rx="6.06" ry="14.34"/><ellipse cx="104.42" cy="233.00" rx="5.52" ry="13.08"/><ellipse cx="104.43" cy="233.00" rx="4.98" ry="11.82"/><ellipse cx="104.44" cy="233.00" rx="4.44" ry="10.56"/><ellipse cx="104.45" cy="233.00" rx="3.90" ry="9.30"/><ellipse cx="104.46" cy="233.00" rx="3.36" ry="8.04"/><ellipse cx="104.47" cy="233.00" rx="2.82" ry="6.78"/><ellipse cx="104.48" cy="233.00" rx="2.28" ry="5.52"/><ellipse cx="104.49" cy="233.00" rx="1.74" ry="4.26"/><ellipse cx="104.50" cy="233.00" rx="1.20" ry="3.00"/></g>
<ellipse cx="104.6" cy="233" rx="0.5" ry="3" fill="#fff" fill-opacity="0.8"/>
</g>
<polygon points="65.7,203.3 76.6,200.4 94.5,201.3 96.4,211.7 93.8,213.9 66.8,215" fill="none" stroke="#1a1a1a" stroke-width="1.0" stroke-linejoin="round"/>
<polygon points="98.2,216.6 104.3,211.4 109.8,217.2 111,245 108.5,252.5 100,252.5 97.2,232" fill="none" stroke="#1a1a1a" stroke-width="1.0" stroke-linejoin="round"/>
<ellipse cx="174.6" cy="210.4" rx="7.6" ry="6.6" fill="url(#blobB)"/>
<g fill="none" stroke="#000" stroke-width="0.3" stroke-opacity="0.35"><ellipse cx="175.20" cy="210.40" rx="7.40" ry="6.40"/><ellipse cx="174.96" cy="210.41" rx="6.60" ry="5.73"/><ellipse cx="174.72" cy="210.43" rx="5.80" ry="5.05"/><ellipse cx="174.49" cy="210.44" rx="5.00" ry="4.38"/><ellipse cx="174.25" cy="210.45" rx="4.20" ry="3.70"/><ellipse cx="174.01" cy="210.46" rx="3.40" ry="3.03"/><ellipse cx="173.78" cy="210.47" rx="2.60" ry="2.35"/><ellipse cx="173.54" cy="210.49" rx="1.80" ry="1.67"/><ellipse cx="173.30" cy="210.50" rx="1.00" ry="1.00"/></g>
<circle cx="173.3" cy="210.6" r="0.7" fill="#fff"/>
<polygon points="159.7,204.9 171.2,202 188.8,203 190.5,213.2 188.1,215 160.4,216.7" fill="none" stroke="#1a1a1a" stroke-width="1.0" stroke-linejoin="round"/>
<polygon points="195.8,215.8 201,211.9 206.7,216.7 207.7,248.5 203,252.5 197,251.5 195.2,223.5" fill="none" stroke="#1a1a1a" stroke-width="1.0" stroke-linejoin="round"/>
<g fill="none" stroke="#555" stroke-width="0.6"><path d="M73.5 306.6 C73.5 303.8 76 302 79.5 302 C83.5 302 86.9 304 86.9 306.6 C86.9 309.2 83.5 311.1 79.5 311.1 C76 311.1 73.5 309.4 73.5 306.6 Z"/><ellipse cx="79.0" cy="306.6" rx="4.7" ry="3.4"/><ellipse cx="78.4" cy="306.6" rx="3.2" ry="2.5"/><ellipse cx="78.0" cy="306.6" rx="1.9" ry="1.6"/><ellipse cx="77.8" cy="306.6" rx="0.8" ry="0.8"/></g>
<g clip-path="url(#cd3)">
<g fill="none" stroke="#2a2a2a" stroke-width="0.5"><rect x="87.20" y="318.80" width="22.80" height="29.20" rx="8.55" ry="8.76"/><rect x="88.40" y="319.68" width="21.26" height="27.60" rx="7.97" ry="8.28"/><rect x="89.60" y="320.55" width="19.72" height="26.00" rx="7.40" ry="7.80"/><rect x="90.80" y="321.43" width="18.18" height="24.40" rx="6.82" ry="7.32"/><rect x="92.00" y="322.31" width="16.65" height="22.80" rx="6.24" ry="6.84"/><rect x="93.20" y="323.18" width="15.11" height="21.20" rx="5.67" ry="6.36"/><rect x="94.40" y="324.06" width="13.57" height="19.60" rx="5.09" ry="5.88"/><rect x="95.60" y="324.94" width="12.03" height="18.00" rx="4.51" ry="5.40"/><rect x="96.80" y="325.82" width="10.49" height="16.40" rx="3.93" ry="4.92"/><rect x="98.00" y="326.69" width="8.95" height="14.80" rx="3.36" ry="4.44"/><rect x="99.20" y="327.57" width="7.42" height="13.20" rx="2.78" ry="3.96"/><rect x="100.40" y="328.45" width="5.88" height="11.60" rx="2.20" ry="3.48"/><rect x="101.60" y="329.32" width="4.34" height="10.00" rx="1.63" ry="3.00"/><rect x="102.80" y="330.20" width="2.80" height="8.40" rx="1.05" ry="2.52"/></g>
<ellipse cx="103.8" cy="334.4" rx="6.5" ry="12.5" fill="url(#blobC)"/>
<ellipse cx="103.8" cy="334.3" rx="0.55" ry="3.0" fill="#fff" fill-opacity="0.9"/>
</g>
<polygon points="69.4,294.5 81.9,289.2 96.3,299.3 97.7,311.5 90.2,323.2 73.3,323.4" fill="none" stroke="#1a1a1a" stroke-width="1.0" stroke-linejoin="round"/>
<polygon points="85.8,330 95.5,315 104.4,315 111.9,319 110.7,345 106.5,351 89,348 86.2,341.6" fill="none" stroke="#1a1a1a" stroke-width="1.0" stroke-linejoin="round"/>
<path d="M176.5 300.2 C180.5 300 182 302 181.2 305.5 C180.5 310 178.6 316 177.6 321 C177 324.5 175.6 326.4 174.3 326.2 C172.6 325.6 171.6 322 171.1 317 C170.4 311 170.3 305.5 171 303 C172 301 174 300.3 176.5 300.2 Z" fill="url(#tearG)"/>
<g fill="none" stroke="#000" stroke-width="0.35" stroke-opacity="0.5"><path d="M176.4 302 C179.2 301.9 180 303.5 179.4 306 C178.8 310 177.4 315 176.4 319.5 C175.8 322 174.8 323.5 174.2 323.2 C173.2 322.5 172.8 319 172.6 315.5 C172.2 310.5 172.2 306 172.8 304 C173.5 302.6 174.7 302.1 176.4 302 Z"/></g>
<ellipse cx="174.6" cy="311.5" rx="0.45" ry="5.5" fill="#fff" fill-opacity="0.45"/>
<circle cx="173.9" cy="327.8" r="1.3" fill="none" stroke="#555" stroke-width="0.55"/>
<polygon points="165.2,296.2 178.4,291.1 192.5,299.6 192.7,312.6 185.1,326.1 168.2,324.4" fill="none" stroke="#1a1a1a" stroke-width="1.0" stroke-linejoin="round"/>
<polygon points="184.6,326.3 192.3,315.3 203.8,315.3 208.7,319.5 209.6,342.6 205.8,349.3 201.9,350.5 184.6,345.5 183.1,329.2" fill="none" stroke="#1a1a1a" stroke-width="1.0" stroke-linejoin="round"/>
<line x1="58.4" y1="196.3835" x2="60.4" y2="196.3835" stroke="#111" stroke-width="0.6"/>
<line x1="58.4" y1="198.578" x2="60.4" y2="198.578" stroke="#111" stroke-width="0.6"/>
<line x1="58.4" y1="200.7725" x2="60.4" y2="200.7725" stroke="#111" stroke-width="0.6"/>
<line x1="58.4" y1="202.967" x2="60.4" y2="202.967" stroke="#111" stroke-width="0.6"/>
<line x1="58.4" y1="205.47500000000002" x2="60.4" y2="205.47500000000002" stroke="#111" stroke-width="0.6"/>
<line x1="58.4" y1="207.983" x2="60.4" y2="207.983" stroke="#111" stroke-width="0.6"/>
<line x1="58.4" y1="210.80450000000002" x2="60.4" y2="210.80450000000002" stroke="#111" stroke-width="0.6"/>
<line x1="58.4" y1="213.626" x2="60.4" y2="213.626" stroke="#111" stroke-width="0.6"/>
<line x1="58.4" y1="216.761" x2="60.4" y2="216.761" stroke="#111" stroke-width="0.6"/>
<line x1="58.4" y1="220.523" x2="60.4" y2="220.523" stroke="#111" stroke-width="0.6"/>
<line x1="58.4" y1="224.28500000000003" x2="60.4" y2="224.28500000000003" stroke="#111" stroke-width="0.6"/>
<line x1="58.4" y1="228.047" x2="60.4" y2="228.047" stroke="#111" stroke-width="0.6"/>
<line x1="58.4" y1="231.18200000000002" x2="60.4" y2="231.18200000000002" stroke="#111" stroke-width="0.6"/>
<line x1="58.4" y1="234.94400000000002" x2="60.4" y2="234.94400000000002" stroke="#111" stroke-width="0.6"/>
<line x1="58.4" y1="239.333" x2="60.4" y2="239.333" stroke="#111" stroke-width="0.6"/>
<line x1="58.4" y1="243.722" x2="60.4" y2="243.722" stroke="#111" stroke-width="0.6"/>
<line x1="58.4" y1="246.857" x2="60.4" y2="246.857" stroke="#111" stroke-width="0.6"/>
<line x1="58.4" y1="250.1174" x2="60.4" y2="250.1174" stroke="#111" stroke-width="0.6"/>
<line x1="57.4" y1="196.3835" x2="60.4" y2="196.3835" stroke="#111" stroke-width="1.0"/>
<text x="54.6" y="198.8835" font-size="8.2" text-anchor="end">10<tspan font-size="5.8" dy="-3.4">5</tspan></text>
<line x1="57.4" y1="210.80450000000002" x2="60.4" y2="210.80450000000002" stroke="#111" stroke-width="1.0"/>
<text x="54.6" y="213.30450000000002" font-size="8.2" text-anchor="end">10<tspan font-size="5.8" dy="-3.4">4</tspan></text>
<line x1="57.4" y1="228.047" x2="60.4" y2="228.047" stroke="#111" stroke-width="1.0"/>
<text x="54.6" y="230.547" font-size="8.2" text-anchor="end">10<tspan font-size="5.8" dy="-3.4">3</tspan></text>
<line x1="57.4" y1="239.333" x2="60.4" y2="239.333" stroke="#111" stroke-width="1.0"/>
<text x="54.8" y="242.233" font-size="8.2" text-anchor="end">0</text>
<line x1="57.4" y1="250.1174" x2="60.4" y2="250.1174" stroke="#111" stroke-width="1.0"/>
<text x="54.6" y="252.6174" font-size="8.2" text-anchor="end">−10<tspan font-size="5.8" dy="-3.4">3</tspan></text>
<rect x="57.6" y="237.933" width="2.8" height="2.8" fill="#111"/>
<line x1="63.525" y1="252.5" x2="63.525" y2="254.5" stroke="#111" stroke-width="0.6"/>
<line x1="68.525" y1="252.5" x2="68.525" y2="254.5" stroke="#111" stroke-width="0.6"/>
<line x1="73.8375" y1="252.5" x2="73.8375" y2="254.5" stroke="#111" stroke-width="0.6"/>
<line x1="78.525" y1="252.5" x2="78.525" y2="254.5" stroke="#111" stroke-width="0.6"/>
<line x1="81.65" y1="252.5" x2="81.65" y2="254.5" stroke="#111" stroke-width="0.6"/>
<line x1="85.4" y1="252.5" x2="85.4" y2="254.5" stroke="#111" stroke-width="0.6"/>
<line x1="88.525" y1="252.5" x2="88.525" y2="254.5" stroke="#111" stroke-width="0.6"/>
<line x1="92.275" y1="252.5" x2="92.275" y2="254.5" stroke="#111" stroke-width="0.6"/>
<line x1="96.025" y1="252.5" x2="96.025" y2="254.5" stroke="#111" stroke-width="0.6"/>
<line x1="99.15" y1="252.5" x2="99.15" y2="254.5" stroke="#111" stroke-width="0.6"/>
<line x1="102.275" y1="252.5" x2="102.275" y2="254.5" stroke="#111" stroke-width="0.6"/>
<line x1="105.4" y1="252.5" x2="105.4" y2="254.5" stroke="#111" stroke-width="0.6"/>
<line x1="109.15" y1="252.5" x2="109.15" y2="254.5" stroke="#111" stroke-width="0.6"/>
<line x1="112.275" y1="252.5" x2="112.275" y2="254.5" stroke="#111" stroke-width="0.6"/>
<line x1="116.3375" y1="252.5" x2="116.3375" y2="254.5" stroke="#111" stroke-width="0.6"/>
<line x1="119.15" y1="252.5" x2="119.15" y2="254.5" stroke="#111" stroke-width="0.6"/>
<line x1="63.525" y1="252.5" x2="63.525" y2="255.5" stroke="#111" stroke-width="1.0"/>
<text x="70.325" y="265.9" font-size="8.2" text-anchor="end">−10<tspan font-size="5.8" dy="-3.4">3</tspan></text>
<line x1="73.8375" y1="252.5" x2="73.8375" y2="255.5" stroke="#111" stroke-width="1.0"/>
<text x="73.8375" y="265.9" font-size="8.2" text-anchor="middle">0</text>
<line x1="85.4" y1="252.5" x2="85.4" y2="255.5" stroke="#111" stroke-width="1.0"/>
<text x="80.5" y="265.9" font-size="8.2">10<tspan font-size="5.8" dy="-3.4">3</tspan></text>
<line x1="102.275" y1="252.5" x2="102.275" y2="255.5" stroke="#111" stroke-width="1.0"/>
<text x="97.375" y="265.9" font-size="8.2">10<tspan font-size="5.8" dy="-3.4">4</tspan></text>
<line x1="116.3375" y1="252.5" x2="116.3375" y2="255.5" stroke="#111" stroke-width="1.0"/>
<text x="111.4375" y="265.9" font-size="8.2">10<tspan font-size="5.8" dy="-3.4">5</tspan></text>
<rect x="72.4375" y="252.5" width="2.8" height="2.8" fill="#111"/>
<rect x="60.4" y="189.8" width="62.50000000000001" height="62.69999999999999" fill="none" stroke="#111" stroke-width="1.1"/>
<line x1="155.4" y1="196.3835" x2="157.4" y2="196.3835" stroke="#111" stroke-width="0.6"/>
<line x1="155.4" y1="198.578" x2="157.4" y2="198.578" stroke="#111" stroke-width="0.6"/>
<line x1="155.4" y1="200.7725" x2="157.4" y2="200.7725" stroke="#111" stroke-width="0.6"/>
<line x1="155.4" y1="202.967" x2="157.4" y2="202.967" stroke="#111" stroke-width="0.6"/>
<line x1="155.4" y1="205.47500000000002" x2="157.4" y2="205.47500000000002" stroke="#111" stroke-width="0.6"/>
<line x1="155.4" y1="207.983" x2="157.4" y2="207.983" stroke="#111" stroke-width="0.6"/>
<line x1="155.4" y1="210.80450000000002" x2="157.4" y2="210.80450000000002" stroke="#111" stroke-width="0.6"/>
<line x1="155.4" y1="213.626" x2="157.4" y2="213.626" stroke="#111" stroke-width="0.6"/>
<line x1="155.4" y1="216.761" x2="157.4" y2="216.761" stroke="#111" stroke-width="0.6"/>
<line x1="155.4" y1="220.523" x2="157.4" y2="220.523" stroke="#111" stroke-width="0.6"/>
<line x1="155.4" y1="224.28500000000003" x2="157.4" y2="224.28500000000003" stroke="#111" stroke-width="0.6"/>
<line x1="155.4" y1="228.047" x2="157.4" y2="228.047" stroke="#111" stroke-width="0.6"/>
<line x1="155.4" y1="231.18200000000002" x2="157.4" y2="231.18200000000002" stroke="#111" stroke-width="0.6"/>
<line x1="155.4" y1="234.94400000000002" x2="157.4" y2="234.94400000000002" stroke="#111" stroke-width="0.6"/>
<line x1="155.4" y1="239.333" x2="157.4" y2="239.333" stroke="#111" stroke-width="0.6"/>
<line x1="155.4" y1="243.722" x2="157.4" y2="243.722" stroke="#111" stroke-width="0.6"/>
<line x1="155.4" y1="246.857" x2="157.4" y2="246.857" stroke="#111" stroke-width="0.6"/>
<line x1="155.4" y1="250.1174" x2="157.4" y2="250.1174" stroke="#111" stroke-width="0.6"/>
<line x1="154.4" y1="196.3835" x2="157.4" y2="196.3835" stroke="#111" stroke-width="1.0"/>
<text x="151.6" y="198.8835" font-size="8.2" text-anchor="end">10<tspan font-size="5.8" dy="-3.4">5</tspan></text>
<line x1="154.4" y1="210.80450000000002" x2="157.4" y2="210.80450000000002" stroke="#111" stroke-width="1.0"/>
<text x="151.6" y="213.30450000000002" font-size="8.2" text-anchor="end">10<tspan font-size="5.8" dy="-3.4">4</tspan></text>
<line x1="154.4" y1="228.047" x2="157.4" y2="228.047" stroke="#111" stroke-width="1.0"/>
<text x="151.6" y="230.547" font-size="8.2" text-anchor="end">10<tspan font-size="5.8" dy="-3.4">3</tspan></text>
<line x1="154.4" y1="239.333" x2="157.4" y2="239.333" stroke="#111" stroke-width="1.0"/>
<text x="151.8" y="242.233" font-size="8.2" text-anchor="end">0</text>
<line x1="154.4" y1="250.1174" x2="157.4" y2="250.1174" stroke="#111" stroke-width="1.0"/>
<text x="151.6" y="252.6174" font-size="8.2" text-anchor="end">−10<tspan font-size="5.8" dy="-3.4">3</tspan></text>
<rect x="154.6" y="237.933" width="2.8" height="2.8" fill="#111"/>
<line x1="160.47" y1="252.5" x2="160.47" y2="254.5" stroke="#111" stroke-width="0.6"/>
<line x1="165.382" y1="252.5" x2="165.382" y2="254.5" stroke="#111" stroke-width="0.6"/>
<line x1="170.601" y1="252.5" x2="170.601" y2="254.5" stroke="#111" stroke-width="0.6"/>
<line x1="175.20600000000002" y1="252.5" x2="175.20600000000002" y2="254.5" stroke="#111" stroke-width="0.6"/>
<line x1="178.276" y1="252.5" x2="178.276" y2="254.5" stroke="#111" stroke-width="0.6"/>
<line x1="181.96" y1="252.5" x2="181.96" y2="254.5" stroke="#111" stroke-width="0.6"/>
<line x1="185.03" y1="252.5" x2="185.03" y2="254.5" stroke="#111" stroke-width="0.6"/>
<line x1="188.714" y1="252.5" x2="188.714" y2="254.5" stroke="#111" stroke-width="0.6"/>
<line x1="192.398" y1="252.5" x2="192.398" y2="254.5" stroke="#111" stroke-width="0.6"/>
<line x1="195.46800000000002" y1="252.5" x2="195.46800000000002" y2="254.5" stroke="#111" stroke-width="0.6"/>
<line x1="198.538" y1="252.5" x2="198.538" y2="254.5" stroke="#111" stroke-width="0.6"/>
<line x1="201.608" y1="252.5" x2="201.608" y2="254.5" stroke="#111" stroke-width="0.6"/>
<line x1="205.292" y1="252.5" x2="205.292" y2="254.5" stroke="#111" stroke-width="0.6"/>
<line x1="208.36200000000002" y1="252.5" x2="208.36200000000002" y2="254.5" stroke="#111" stroke-width="0.6"/>
<line x1="212.353" y1="252.5" x2="212.353" y2="254.5" stroke="#111" stroke-width="0.6"/>
<line x1="215.116" y1="252.5" x2="215.116" y2="254.5" stroke="#111" stroke-width="0.6"/>
<line x1="160.47" y1="252.5" x2="160.47" y2="255.5" stroke="#111" stroke-width="1.0"/>
<text x="167.27" y="265.9" font-size="8.2" text-anchor="end">−10<tspan font-size="5.8" dy="-3.4">3</tspan></text>
<line x1="170.601" y1="252.5" x2="170.601" y2="255.5" stroke="#111" stroke-width="1.0"/>
<text x="170.601" y="265.9" font-size="8.2" text-anchor="middle">0</text>
<line x1="181.96" y1="252.5" x2="181.96" y2="255.5" stroke="#111" stroke-width="1.0"/>
<text x="177.06" y="265.9" font-size="8.2">10<tspan font-size="5.8" dy="-3.4">3</tspan></text>
<line x1="198.538" y1="252.5" x2="198.538" y2="255.5" stroke="#111" stroke-width="1.0"/>
<text x="193.638" y="265.9" font-size="8.2">10<tspan font-size="5.8" dy="-3.4">4</tspan></text>
<line x1="212.353" y1="252.5" x2="212.353" y2="255.5" stroke="#111" stroke-width="1.0"/>
<text x="207.453" y="265.9" font-size="8.2">10<tspan font-size="5.8" dy="-3.4">5</tspan></text>
<rect x="169.201" y="252.5" width="2.8" height="2.8" fill="#111"/>
<rect x="157.4" y="189.8" width="61.400000000000006" height="62.69999999999999" fill="none" stroke="#111" stroke-width="1.1"/>
<line x1="58.4" y1="295.094" x2="60.4" y2="295.094" stroke="#111" stroke-width="0.6"/>
<line x1="58.4" y1="297.29200000000003" x2="60.4" y2="297.29200000000003" stroke="#111" stroke-width="0.6"/>
<line x1="58.4" y1="299.49" x2="60.4" y2="299.49" stroke="#111" stroke-width="0.6"/>
<line x1="58.4" y1="301.688" x2="60.4" y2="301.688" stroke="#111" stroke-width="0.6"/>
<line x1="58.4" y1="304.2" x2="60.4" y2="304.2" stroke="#111" stroke-width="0.6"/>
<line x1="58.4" y1="306.712" x2="60.4" y2="306.712" stroke="#111" stroke-width="0.6"/>
<line x1="58.4" y1="309.538" x2="60.4" y2="309.538" stroke="#111" stroke-width="0.6"/>
<line x1="58.4" y1="312.36400000000003" x2="60.4" y2="312.36400000000003" stroke="#111" stroke-width="0.6"/>
<line x1="58.4" y1="315.504" x2="60.4" y2="315.504" stroke="#111" stroke-width="0.6"/>
<line x1="58.4" y1="319.272" x2="60.4" y2="319.272" stroke="#111" stroke-width="0.6"/>
<line x1="58.4" y1="323.04" x2="60.4" y2="323.04" stroke="#111" stroke-width="0.6"/>
<line x1="58.4" y1="326.808" x2="60.4" y2="326.808" stroke="#111" stroke-width="0.6"/>
<line x1="58.4" y1="329.948" x2="60.4" y2="329.948" stroke="#111" stroke-width="0.6"/>
<line x1="58.4" y1="333.716" x2="60.4" y2="333.716" stroke="#111" stroke-width="0.6"/>
<line x1="58.4" y1="338.112" x2="60.4" y2="338.112" stroke="#111" stroke-width="0.6"/>
<line x1="58.4" y1="342.50800000000004" x2="60.4" y2="342.50800000000004" stroke="#111" stroke-width="0.6"/>
<line x1="58.4" y1="345.648" x2="60.4" y2="345.648" stroke="#111" stroke-width="0.6"/>
<line x1="58.4" y1="348.91360000000003" x2="60.4" y2="348.91360000000003" stroke="#111" stroke-width="0.6"/>
<line x1="57.4" y1="295.094" x2="60.4" y2="295.094" stroke="#111" stroke-width="1.0"/>
<text x="54.6" y="297.594" font-size="8.2" text-anchor="end">10<tspan font-size="5.8" dy="-3.4">5</tspan></text>
<line x1="57.4" y1="309.538" x2="60.4" y2="309.538" stroke="#111" stroke-width="1.0"/>
<text x="54.6" y="312.038" font-size="8.2" text-anchor="end">10<tspan font-size="5.8" dy="-3.4">4</tspan></text>
<line x1="57.4" y1="326.808" x2="60.4" y2="326.808" stroke="#111" stroke-width="1.0"/>
<text x="54.6" y="329.308" font-size="8.2" text-anchor="end">10<tspan font-size="5.8" dy="-3.4">3</tspan></text>
<line x1="57.4" y1="338.112" x2="60.4" y2="338.112" stroke="#111" stroke-width="1.0"/>
<text x="54.8" y="341.012" font-size="8.2" text-anchor="end">0</text>
<line x1="57.4" y1="348.91360000000003" x2="60.4" y2="348.91360000000003" stroke="#111" stroke-width="1.0"/>
<text x="54.6" y="351.41360000000003" font-size="8.2" text-anchor="end">−10<tspan font-size="5.8" dy="-3.4">3</tspan></text>
<rect x="57.6" y="336.71200000000005" width="2.8" height="2.8" fill="#111"/>
<line x1="63.525" y1="351.3" x2="63.525" y2="353.3" stroke="#111" stroke-width="0.6"/>
<line x1="68.525" y1="351.3" x2="68.525" y2="353.3" stroke="#111" stroke-width="0.6"/>
<line x1="73.8375" y1="351.3" x2="73.8375" y2="353.3" stroke="#111" stroke-width="0.6"/>
<line x1="78.525" y1="351.3" x2="78.525" y2="353.3" stroke="#111" stroke-width="0.6"/>
<line x1="81.65" y1="351.3" x2="81.65" y2="353.3" stroke="#111" stroke-width="0.6"/>
<line x1="85.4" y1="351.3" x2="85.4" y2="353.3" stroke="#111" stroke-width="0.6"/>
<line x1="88.525" y1="351.3" x2="88.525" y2="353.3" stroke="#111" stroke-width="0.6"/>
<line x1="92.275" y1="351.3" x2="92.275" y2="353.3" stroke="#111" stroke-width="0.6"/>
<line x1="96.025" y1="351.3" x2="96.025" y2="353.3" stroke="#111" stroke-width="0.6"/>
<line x1="99.15" y1="351.3" x2="99.15" y2="353.3" stroke="#111" stroke-width="0.6"/>
<line x1="102.275" y1="351.3" x2="102.275" y2="353.3" stroke="#111" stroke-width="0.6"/>
<line x1="105.4" y1="351.3" x2="105.4" y2="353.3" stroke="#111" stroke-width="0.6"/>
<line x1="109.15" y1="351.3" x2="109.15" y2="353.3" stroke="#111" stroke-width="0.6"/>
<line x1="112.275" y1="351.3" x2="112.275" y2="353.3" stroke="#111" stroke-width="0.6"/>
<line x1="116.3375" y1="351.3" x2="116.3375" y2="353.3" stroke="#111" stroke-width="0.6"/>
<line x1="119.15" y1="351.3" x2="119.15" y2="353.3" stroke="#111" stroke-width="0.6"/>
<line x1="63.525" y1="351.3" x2="63.525" y2="354.3" stroke="#111" stroke-width="1.0"/>
<text x="70.325" y="364.7" font-size="8.2" text-anchor="end">−10<tspan font-size="5.8" dy="-3.4">3</tspan></text>
<line x1="73.8375" y1="351.3" x2="73.8375" y2="354.3" stroke="#111" stroke-width="1.0"/>
<text x="73.8375" y="364.7" font-size="8.2" text-anchor="middle">0</text>
<line x1="85.4" y1="351.3" x2="85.4" y2="354.3" stroke="#111" stroke-width="1.0"/>
<text x="80.5" y="364.7" font-size="8.2">10<tspan font-size="5.8" dy="-3.4">3</tspan></text>
<line x1="102.275" y1="351.3" x2="102.275" y2="354.3" stroke="#111" stroke-width="1.0"/>
<text x="97.375" y="364.7" font-size="8.2">10<tspan font-size="5.8" dy="-3.4">4</tspan></text>
<line x1="116.3375" y1="351.3" x2="116.3375" y2="354.3" stroke="#111" stroke-width="1.0"/>
<text x="111.4375" y="364.7" font-size="8.2">10<tspan font-size="5.8" dy="-3.4">5</tspan></text>
<rect x="72.4375" y="351.3" width="2.8" height="2.8" fill="#111"/>
<rect x="60.4" y="288.5" width="62.50000000000001" height="62.80000000000001" fill="none" stroke="#111" stroke-width="1.1"/>
<line x1="156.0" y1="295.27299999999997" x2="158.0" y2="295.27299999999997" stroke="#111" stroke-width="0.6"/>
<line x1="156.0" y1="297.464" x2="158.0" y2="297.464" stroke="#111" stroke-width="0.6"/>
<line x1="156.0" y1="299.655" x2="158.0" y2="299.655" stroke="#111" stroke-width="0.6"/>
<line x1="156.0" y1="301.846" x2="158.0" y2="301.846" stroke="#111" stroke-width="0.6"/>
<line x1="156.0" y1="304.35" x2="158.0" y2="304.35" stroke="#111" stroke-width="0.6"/>
<line x1="156.0" y1="306.854" x2="158.0" y2="306.854" stroke="#111" stroke-width="0.6"/>
<line x1="156.0" y1="309.671" x2="158.0" y2="309.671" stroke="#111" stroke-width="0.6"/>
<line x1="156.0" y1="312.488" x2="158.0" y2="312.488" stroke="#111" stroke-width="0.6"/>
<line x1="156.0" y1="315.618" x2="158.0" y2="315.618" stroke="#111" stroke-width="0.6"/>
<line x1="156.0" y1="319.374" x2="158.0" y2="319.374" stroke="#111" stroke-width="0.6"/>
<line x1="156.0" y1="323.13" x2="158.0" y2="323.13" stroke="#111" stroke-width="0.6"/>
<line x1="156.0" y1="326.886" x2="158.0" y2="326.886" stroke="#111" stroke-width="0.6"/>
<line x1="156.0" y1="330.016" x2="158.0" y2="330.016" stroke="#111" stroke-width="0.6"/>
<line x1="156.0" y1="333.772" x2="158.0" y2="333.772" stroke="#111" stroke-width="0.6"/>
<line x1="156.0" y1="338.154" x2="158.0" y2="338.154" stroke="#111" stroke-width="0.6"/>
<line x1="156.0" y1="342.536" x2="158.0" y2="342.536" stroke="#111" stroke-width="0.6"/>
<line x1="156.0" y1="345.666" x2="158.0" y2="345.666" stroke="#111" stroke-width="0.6"/>
<line x1="156.0" y1="348.9212" x2="158.0" y2="348.9212" stroke="#111" stroke-width="0.6"/>
<line x1="155.0" y1="295.27299999999997" x2="158.0" y2="295.27299999999997" stroke="#111" stroke-width="1.0"/>
<text x="152.2" y="297.77299999999997" font-size="8.2" text-anchor="end">10<tspan font-size="5.8" dy="-3.4">5</tspan></text>
<line x1="155.0" y1="309.671" x2="158.0" y2="309.671" stroke="#111" stroke-width="1.0"/>
<text x="152.2" y="312.171" font-size="8.2" text-anchor="end">10<tspan font-size="5.8" dy="-3.4">4</tspan></text>
<line x1="155.0" y1="326.886" x2="158.0" y2="326.886" stroke="#111" stroke-width="1.0"/>
<text x="152.2" y="329.386" font-size="8.2" text-anchor="end">10<tspan font-size="5.8" dy="-3.4">3</tspan></text>
<line x1="155.0" y1="338.154" x2="158.0" y2="338.154" stroke="#111" stroke-width="1.0"/>
<text x="152.4" y="341.054" font-size="8.2" text-anchor="end">0</text>
<line x1="155.0" y1="348.9212" x2="158.0" y2="348.9212" stroke="#111" stroke-width="1.0"/>
<text x="152.2" y="351.4212" font-size="8.2" text-anchor="end">−10<tspan font-size="5.8" dy="-3.4">3</tspan></text>
<rect x="155.2" y="336.754" width="2.8" height="2.8" fill="#111"/>
<line x1="161.07" y1="351.3" x2="161.07" y2="353.3" stroke="#111" stroke-width="0.6"/>
<line x1="165.982" y1="351.3" x2="165.982" y2="353.3" stroke="#111" stroke-width="0.6"/>
<line x1="171.201" y1="351.3" x2="171.201" y2="353.3" stroke="#111" stroke-width="0.6"/>
<line x1="175.806" y1="351.3" x2="175.806" y2="353.3" stroke="#111" stroke-width="0.6"/>
<line x1="178.876" y1="351.3" x2="178.876" y2="353.3" stroke="#111" stroke-width="0.6"/>
<line x1="182.56" y1="351.3" x2="182.56" y2="353.3" stroke="#111" stroke-width="0.6"/>
<line x1="185.63" y1="351.3" x2="185.63" y2="353.3" stroke="#111" stroke-width="0.6"/>
<line x1="189.314" y1="351.3" x2="189.314" y2="353.3" stroke="#111" stroke-width="0.6"/>
<line x1="192.998" y1="351.3" x2="192.998" y2="353.3" stroke="#111" stroke-width="0.6"/>
<line x1="196.068" y1="351.3" x2="196.068" y2="353.3" stroke="#111" stroke-width="0.6"/>
<line x1="199.138" y1="351.3" x2="199.138" y2="353.3" stroke="#111" stroke-width="0.6"/>
<line x1="202.208" y1="351.3" x2="202.208" y2="353.3" stroke="#111" stroke-width="0.6"/>
<line x1="205.892" y1="351.3" x2="205.892" y2="353.3" stroke="#111" stroke-width="0.6"/>
<line x1="208.962" y1="351.3" x2="208.962" y2="353.3" stroke="#111" stroke-width="0.6"/>
<line x1="212.953" y1="351.3" x2="212.953" y2="353.3" stroke="#111" stroke-width="0.6"/>
<line x1="215.716" y1="351.3" x2="215.716" y2="353.3" stroke="#111" stroke-width="0.6"/>
<line x1="161.07" y1="351.3" x2="161.07" y2="354.3" stroke="#111" stroke-width="1.0"/>
<text x="167.87" y="364.7" font-size="8.2" text-anchor="end">−10<tspan font-size="5.8" dy="-3.4">3</tspan></text>
<line x1="171.201" y1="351.3" x2="171.201" y2="354.3" stroke="#111" stroke-width="1.0"/>
<text x="171.201" y="364.7" font-size="8.2" text-anchor="middle">0</text>
<line x1="182.56" y1="351.3" x2="182.56" y2="354.3" stroke="#111" stroke-width="1.0"/>
<text x="177.66" y="364.7" font-size="8.2">10<tspan font-size="5.8" dy="-3.4">3</tspan></text>
<line x1="199.138" y1="351.3" x2="199.138" y2="354.3" stroke="#111" stroke-width="1.0"/>
<text x="194.238" y="364.7" font-size="8.2">10<tspan font-size="5.8" dy="-3.4">4</tspan></text>
<line x1="212.953" y1="351.3" x2="212.953" y2="354.3" stroke="#111" stroke-width="1.0"/>
<text x="208.053" y="364.7" font-size="8.2">10<tspan font-size="5.8" dy="-3.4">5</tspan></text>
<rect x="169.801" y="351.3" width="2.8" height="2.8" fill="#111"/>
<rect x="158.0" y="288.7" width="61.400000000000006" height="62.60000000000002" fill="none" stroke="#111" stroke-width="1.1"/>
<text x="89.2" y="197.9" font-size="8.0" fill="#d02448" textLength="28.3" lengthAdjust="spacingAndGlyphs" stroke="#d02448" stroke-width="0.12">15.3±5.0</text>
<text x="64.2" y="245.6" font-size="8.0" fill="#d02448" textLength="28.3" lengthAdjust="spacingAndGlyphs" stroke="#d02448" stroke-width="0.12">81.7±4.8</text>
<text x="186.5" y="197.9" font-size="8.0" fill="#d02448" textLength="26" lengthAdjust="spacingAndGlyphs" stroke="#d02448" stroke-width="0.12">98.4±0.2</text>
<text x="160.6" y="249.4" font-size="8.0" fill="#d02448" textLength="31.7" lengthAdjust="spacingAndGlyphs" stroke="#d02448" stroke-width="0.12">0.01±0.01</text>
<text x="91.5" y="295.6" font-size="8.0" fill="#d02448" textLength="27" lengthAdjust="spacingAndGlyphs" stroke="#d02448" stroke-width="0.12">10.7±2.6</text>
<text x="62.7" y="347.8" font-size="8.0" fill="#d02448" textLength="27.9" lengthAdjust="spacingAndGlyphs" stroke="#d02448" stroke-width="0.12">86.8±2.7</text>
<text x="188.5" y="295.8" font-size="8.0" fill="#d02448" textLength="28.8" lengthAdjust="spacingAndGlyphs" stroke="#d02448" stroke-width="0.12">95.6±0.3</text>
<text x="160.6" y="346.0" font-size="8.0" fill="#d02448" textLength="31.7" lengthAdjust="spacingAndGlyphs" stroke="#d02448" stroke-width="0.12">0.05±0.01</text>
<line x1="35.4" y1="188" x2="35.4" y2="371.4" stroke="#111" stroke-width="1.35"/>
<path d="M33.1 189.2 L37.7 189.2 L35.4 184.6 Z" fill="#111"/>
<line x1="34.8" y1="370.8" x2="222" y2="370.8" stroke="#111" stroke-width="1.35"/>
<path d="M221.6 368.5 L221.6 373.1 L226.2 370.8 Z" fill="#111"/>
<text x="29.7" y="276.9" font-size="8.6" text-anchor="middle" textLength="24.4" lengthAdjust="spacingAndGlyphs" transform="rotate(-90 29.7 276.9)">CD45.1</text>
<text x="128.5" y="382.6" font-size="9.2" text-anchor="middle" textLength="24.6" lengthAdjust="spacingAndGlyphs">CD45.2</text>
<text x="280.5" y="163.8" font-size="11" font-weight="bold" fill="#111" textLength="6.5" lengthAdjust="spacingAndGlyphs" stroke="#111" stroke-width="0.35">E</text>
<circle cx="316.3" cy="168.8" r="1.8" fill="none" stroke="#cf2346" stroke-width="1.0"/>
<text x="322" y="171.3" font-size="7.8" font-style="italic" textLength="48.5" lengthAdjust="spacingAndGlyphs">Hbo1<tspan font-size="4.84" dy="-2.96">fl/+</tspan><tspan dy="2.96">;CreER</tspan></text>
<circle cx="380.3" cy="168.8" r="1.8" fill="none" stroke="#21578f" stroke-width="1.0"/>
<text x="386.8" y="171.3" font-size="7.8" font-style="italic" textLength="48" lengthAdjust="spacingAndGlyphs">Hbo1<tspan font-size="4.84" dy="-2.96">fl/fl</tspan><tspan dy="2.96">;CreER</tspan></text>
<text x="315.3" y="184.0" font-size="6.5" textLength="25.8" lengthAdjust="spacingAndGlyphs">p &lt; 0.001</text>
<text x="347.2" y="184.0" font-size="6.5" textLength="25.8" lengthAdjust="spacingAndGlyphs">p &lt; 0.001</text>
<text x="379.1" y="184.0" font-size="6.5" textLength="25.8" lengthAdjust="spacingAndGlyphs">p &lt; 0.001</text>
<text x="411.0" y="184.0" font-size="6.5" textLength="25.8" lengthAdjust="spacingAndGlyphs">p &lt; 0.001</text>
<text x="442.8" y="184.0" font-size="6.5" textLength="25.8" lengthAdjust="spacingAndGlyphs">p &lt; 0.001</text>
<text x="474.7" y="184.0" font-size="6.5" textLength="25.8" lengthAdjust="spacingAndGlyphs">p &lt; 0.001</text>
<line x1="313" y1="189.5" x2="313" y2="242.6" stroke="#111" stroke-width="1.1"/>
<line x1="310.0" y1="242.4" x2="315.6" y2="242.4" stroke="#111" stroke-width="1.0"/>
<line x1="313" y1="254.3" x2="313" y2="264.9" stroke="#111" stroke-width="1.1"/>
<line x1="310.0" y1="254.5" x2="315.6" y2="254.5" stroke="#111" stroke-width="1.0"/>
<line x1="310.0" y1="259.3" x2="313" y2="259.3" stroke="#111" stroke-width="1.0"/>
<line x1="309.8" y1="191.15" x2="313" y2="191.15" stroke="#111" stroke-width="1.0"/>
<text x="308.0" y="193.95000000000002" font-size="8.0" text-anchor="end">100</text>
<line x1="309.8" y1="204.0" x2="313" y2="204.0" stroke="#111" stroke-width="1.0"/>
<text x="308.0" y="206.8" font-size="8.0" text-anchor="end">80</text>
<line x1="309.8" y1="216.85" x2="313" y2="216.85" stroke="#111" stroke-width="1.0"/>
<text x="308.0" y="219.65" font-size="8.0" text-anchor="end">60</text>
<line x1="309.8" y1="229.7" x2="313" y2="229.7" stroke="#111" stroke-width="1.0"/>
<text x="308.0" y="232.5" font-size="8.0" text-anchor="end">40</text>
<text x="308.0" y="245.2" font-size="8.0" text-anchor="end">20</text>
<text x="308.0" y="257.3" font-size="8.0" text-anchor="end">0.2</text>
<text x="308.0" y="266.7" font-size="8.0" text-anchor="end">0</text>
<text x="286.9" y="226.6" font-size="8.8" text-anchor="middle" textLength="42.8" lengthAdjust="spacingAndGlyphs" transform="rotate(-90 286.9 226.6)">CD45.2+ (%)</text>
<line x1="312.5" y1="264.4" x2="501.5" y2="264.4" stroke="#111" stroke-width="1.1"/>
<rect x="319.9" y="202.3" width="7.2" height="61.89999999999998" fill="#df8496"/>
<rect x="352.0" y="202.3" width="7.2" height="61.89999999999998" fill="#df8496"/>
<rect x="384.0" y="204.5" width="7.2" height="59.69999999999999" fill="#df8496"/>
<rect x="416.0" y="203.5" width="7.2" height="60.69999999999999" fill="#df8496"/>
<rect x="448.0" y="205.0" width="7.2" height="59.19999999999999" fill="#df8496"/>
<rect x="480.0" y="203.5" width="7.2" height="60.69999999999999" fill="#df8496"/>
<g fill="none" stroke="#cf2346" stroke-width="1.05"><circle cx="323.6" cy="194.5" r="1.8"/><circle cx="321" cy="196.7" r="1.8"/><circle cx="325.3" cy="197.2" r="1.8"/><circle cx="326.2" cy="198.9" r="1.8"/><circle cx="322.3" cy="199.3" r="1.8"/><circle cx="321.8" cy="204.1" r="1.8"/><circle cx="324.9" cy="203.7" r="1.8"/><circle cx="322.7" cy="214.2" r="1.8"/><circle cx="322.7" cy="217.6" r="1.8"/></g>
<g fill="none" stroke="#cf2346" stroke-width="1.05"><circle cx="355.2" cy="195" r="1.8"/><circle cx="353.8" cy="196.7" r="1.8"/><circle cx="356.9" cy="196.7" r="1.8"/><circle cx="354.3" cy="199.3" r="1.8"/><circle cx="357.8" cy="199.3" r="1.8"/><circle cx="352.5" cy="201.5" r="1.8"/><circle cx="355.6" cy="202" r="1.8"/><circle cx="355.2" cy="206.7" r="1.8"/><circle cx="355.6" cy="218.1" r="1.8"/></g>
<g fill="none" stroke="#cf2346" stroke-width="1.05"><circle cx="388.9" cy="196.3" r="1.8"/><circle cx="386.3" cy="198" r="1.8"/><circle cx="389.3" cy="199.3" r="1.8"/><circle cx="385" cy="205" r="1.8"/><circle cx="387.2" cy="204.6" r="1.8"/><circle cx="390.2" cy="205.9" r="1.8"/><circle cx="388.5" cy="208.9" r="1.8"/><circle cx="386.3" cy="210.7" r="1.8"/><circle cx="387.6" cy="220.7" r="1.8"/></g>
<g fill="none" stroke="#cf2346" stroke-width="1.05"><circle cx="419.6" cy="193.7" r="1.8"/><circle cx="417.8" cy="195.4" r="1.8"/><circle cx="421.3" cy="195.4" r="1.8"/><circle cx="417" cy="197.6" r="1.8"/><circle cx="422.2" cy="197.6" r="1.8"/><circle cx="419.2" cy="198" r="1.8"/><circle cx="419.6" cy="208.6" r="1.8"/><circle cx="419.6" cy="215.9" r="1.8"/><circle cx="419.6" cy="229.1" r="1.8"/></g>
<g fill="none" stroke="#cf2346" stroke-width="1.05"><circle cx="451.6" cy="197.6" r="1.8"/><circle cx="449.4" cy="198.9" r="1.8"/><circle cx="454.2" cy="198.9" r="1.8"/><circle cx="450.7" cy="200.6" r="1.8"/><circle cx="452.9" cy="201.1" r="1.8"/><circle cx="451.6" cy="202" r="1.8"/><circle cx="451.6" cy="204.8" r="1.8"/><circle cx="451.6" cy="219.9" r="1.8"/><circle cx="451.6" cy="224.2" r="1.8"/></g>
<g fill="none" stroke="#cf2346" stroke-width="1.05"><circle cx="484.9" cy="191.7" r="1.8"/><circle cx="483.6" cy="193.4" r="1.8"/><circle cx="482.3" cy="195.2" r="1.8"/><circle cx="484" cy="197.3" r="1.8"/><circle cx="481" cy="200" r="1.8"/><circle cx="486.2" cy="200.4" r="1.8"/><circle cx="483.6" cy="200.8" r="1.8"/><circle cx="484" cy="203.4" r="1.8"/><circle cx="484" cy="216.5" r="1.8"/></g>
<line x1="419.6" y1="200.2" x2="419.6" y2="206.3" stroke="#222" stroke-width="0.8"/>
<line x1="417.8" y1="206.3" x2="421.40000000000003" y2="206.3" stroke="#222" stroke-width="0.8"/>
<line x1="451.6" y1="201.5" x2="451.6" y2="206.0" stroke="#222" stroke-width="0.8"/>
<line x1="449.8" y1="206.0" x2="453.40000000000003" y2="206.0" stroke="#222" stroke-width="0.8"/>
<rect x="328.4" y="262.4" width="8.6" height="4.2" rx="2.1" fill="#21578f"/>
<g fill="#fff" stroke="#21578f" stroke-width="1.1"><circle cx="332.5" cy="260" r="1.6"/></g>
<rect x="360.5" y="262.4" width="8.6" height="4.2" rx="2.1" fill="#21578f"/>
<g fill="#fff" stroke="#21578f" stroke-width="1.1"><circle cx="364.5" cy="257.8" r="1.6"/><circle cx="364.5" cy="260" r="1.6"/></g>
<rect x="392.5" y="262.4" width="8.6" height="4.2" rx="2.1" fill="#21578f"/>
<g fill="#fff" stroke="#21578f" stroke-width="1.1"><circle cx="396.6" cy="255.2" r="1.6"/><circle cx="396.6" cy="259.7" r="1.6"/></g>
<rect x="424.5" y="262.4" width="8.6" height="4.2" rx="2.1" fill="#21578f"/>
<g fill="#fff" stroke="#21578f" stroke-width="1.1"><circle cx="428.8" cy="257.5" r="1.6"/></g>
<rect x="456.5" y="262.4" width="8.6" height="4.2" rx="2.1" fill="#21578f"/>
<g fill="#fff" stroke="#21578f" stroke-width="1.1"></g>
<rect x="488.5" y="262.4" width="8.6" height="4.2" rx="2.1" fill="#21578f"/>
<g fill="#fff" stroke="#21578f" stroke-width="1.1"><circle cx="493.1" cy="258.8" r="1.6"/></g>
<path d="M329 264.5 C329 262 330.5 261 332.5 261 C334.5 261 336.2 262 336.6 264.5 Z" fill="#21578f"/>
<path d="M489.3 265 C489.3 261.5 490.5 258.5 493.1 258.5 C495.7 258.5 497 261.5 497.3 265 Z" fill="#21578f"/>
<circle cx="493.1" cy="258.8" r="1.6" fill="#fff" stroke="#21578f" stroke-width="1.1"/>
<circle cx="332.5" cy="260" r="1.6" fill="#fff" stroke="#21578f" stroke-width="1.1"/>
<text x="333.7" y="273.4" font-size="8.0" text-anchor="end" transform="rotate(-45 333.7 273.4)">LSK</text>
<text x="365.8" y="273.4" font-size="8.0" text-anchor="end" transform="rotate(-45 365.8 273.4)">HPC1</text>
<text x="397.8" y="273.4" font-size="8.0" text-anchor="end" transform="rotate(-45 397.8 273.4)">HPC2</text>
<text x="429.8" y="273.4" font-size="8.0" text-anchor="end" transform="rotate(-45 429.8 273.4)">HSC<tspan font-size="5.8" dy="-3">SLAM</tspan></text>
<text x="461.8" y="273.4" font-size="8.0" text-anchor="end" transform="rotate(-45 461.8 273.4)">MPP<tspan font-size="5.8" dy="-3">SLAM</tspan></text>
<text x="493.8" y="273.4" font-size="8.0" text-anchor="end" transform="rotate(-45 493.8 273.4)">Progenitors</text>
</svg><div id="frame"></div></div></body></html>
